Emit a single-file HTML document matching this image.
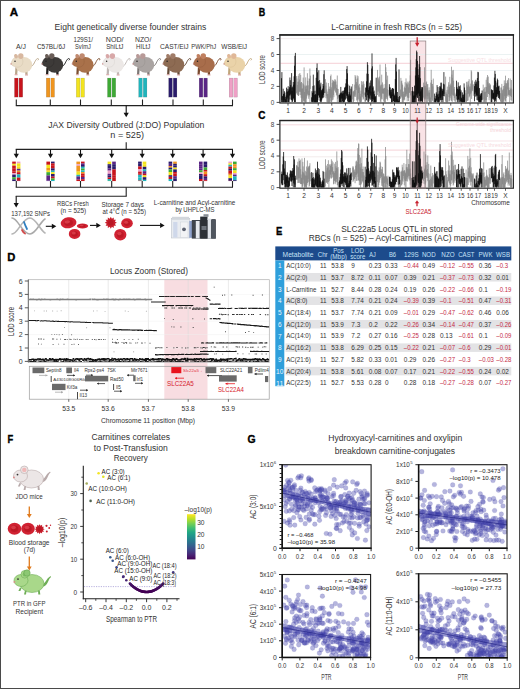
<!DOCTYPE html>
<html><head><meta charset="utf-8"><style>
html,body{margin:0;padding:0;background:#fff;}
body{width:520px;height:689px;overflow:hidden;}
svg{display:block;font-family:"Liberation Sans", sans-serif;}
</style></head><body>
<svg width="520" height="689" viewBox="0 0 520 689">
<rect x="0" y="0" width="520" height="689" fill="#fff"/>
<text x="9.8" y="15.9" font-size="11.2" font-weight="bold" fill="#000" stroke="#000" stroke-width="0.35" textLength="8.4" lengthAdjust="spacingAndGlyphs">A</text><text x="54.6" y="30.3" font-size="9.3" text-anchor="start" fill="#333" font-weight="normal" textLength="151.6" lengthAdjust="spacingAndGlyphs" >Eight genetically diverse founder strains</text><text x="16" y="48.6" font-size="6.6" text-anchor="start" fill="#333" font-weight="normal" textLength="9.9" lengthAdjust="spacingAndGlyphs" >A/J</text><g transform="translate(10.2,53.2) scale(1.0)"><path d="M20.5,13.5 C24,13 24.5,6.5 27.2,5.4 C28.4,5 28.9,6.4 27.9,6.9" fill="none" stroke="#b9a58a" stroke-width="0.95" stroke-linecap="round"/><path d="M5.2,14 L4.8,21.4 L7.0,21.4 L7.6,14.5 Z M14.6,15.5 L15.2,21.6 L17.4,21.6 L17.2,15 Z" fill="#b9a58a"/><path d="M4.4,21 h3 v1 h-3 Z M14.8,21.2 h3 v1 h-3 Z" fill="#d9a0a0"/><ellipse cx="13.6" cy="11.6" rx="8.4" ry="7.9" fill="#e9dcc6"/><path d="M0.6,10.8 C1.5,6.5 4,3.4 8,3.2 C11.6,3.2 13,6.2 12.6,9.4 C12.2,12.8 9,14.6 5.6,13.8 C3.6,13.3 1.8,12.4 0.6,10.8 Z" fill="#e9dcc6" stroke="#b9a58a" stroke-width="0.35" stroke-opacity="0.6"/><ellipse cx="5.8" cy="3.0" rx="1.9" ry="2.3" fill="#d8b8a0" transform="rotate(-20 5.8 3.0)"/><ellipse cx="10.6" cy="2.9" rx="2.7" ry="2.8" fill="#d8b8a0"/><circle cx="4.8" cy="8.0" r="0.75" fill="#222"/><circle cx="0.9" cy="10.7" r="0.7" fill="#c88"/></g><rect x="14.5" y="78.1" width="3.6" height="19" fill="#c8141c" stroke="#0004" stroke-width="0.4"/><rect x="19.1" y="78.1" width="3.6" height="19" fill="#c8141c" stroke="#0004" stroke-width="0.4"/><line x1="16.3" y1="99.5" x2="16.3" y2="105.6" stroke="#222" stroke-width="1.1" /><text x="36.9" y="48.6" font-size="6.6" text-anchor="start" fill="#333" font-weight="normal" textLength="28.3" lengthAdjust="spacingAndGlyphs" >C57BL/6J</text><g transform="translate(41.2,53.2) scale(1.0)"><path d="M20.5,13.5 C24,13 24.5,6.5 27.2,5.4 C28.4,5 28.9,6.4 27.9,6.9" fill="none" stroke="#1f1d1c" stroke-width="0.95" stroke-linecap="round"/><path d="M5.2,14 L4.8,21.4 L7.0,21.4 L7.6,14.5 Z M14.6,15.5 L15.2,21.6 L17.4,21.6 L17.2,15 Z" fill="#1f1d1c"/><path d="M4.4,21 h3 v1 h-3 Z M14.8,21.2 h3 v1 h-3 Z" fill="#d9a0a0"/><ellipse cx="13.6" cy="11.6" rx="8.4" ry="7.9" fill="#3d3a38"/><path d="M0.6,10.8 C1.5,6.5 4,3.4 8,3.2 C11.6,3.2 13,6.2 12.6,9.4 C12.2,12.8 9,14.6 5.6,13.8 C3.6,13.3 1.8,12.4 0.6,10.8 Z" fill="#3d3a38" stroke="#1f1d1c" stroke-width="0.35" stroke-opacity="0.6"/><ellipse cx="5.8" cy="3.0" rx="1.9" ry="2.3" fill="#6a5e58" transform="rotate(-20 5.8 3.0)"/><ellipse cx="10.6" cy="2.9" rx="2.7" ry="2.8" fill="#6a5e58"/><circle cx="4.8" cy="8.0" r="0.75" fill="#222"/><circle cx="0.9" cy="10.7" r="0.7" fill="#c88"/></g><rect x="46.3" y="78.1" width="3.6" height="19" fill="#f0951e" stroke="#0004" stroke-width="0.4"/><rect x="50.9" y="78.1" width="3.6" height="19" fill="#f0951e" stroke="#0004" stroke-width="0.4"/><line x1="50.3" y1="99.5" x2="50.3" y2="105.6" stroke="#222" stroke-width="1.1" /><text x="73.5" y="41.7" font-size="6.6" text-anchor="start" fill="#333" font-weight="normal" textLength="19.5" lengthAdjust="spacingAndGlyphs" >129S1/</text><text x="75" y="48.800000000000004" font-size="6.6" text-anchor="start" fill="#333" font-weight="normal" textLength="15.8" lengthAdjust="spacingAndGlyphs" >SvImJ</text><g transform="translate(71.5,53.2) scale(1.0)"><path d="M20.5,13.5 C24,13 24.5,6.5 27.2,5.4 C28.4,5 28.9,6.4 27.9,6.9" fill="none" stroke="#7c4f31" stroke-width="0.95" stroke-linecap="round"/><path d="M5.2,14 L4.8,21.4 L7.0,21.4 L7.6,14.5 Z M14.6,15.5 L15.2,21.6 L17.4,21.6 L17.2,15 Z" fill="#7c4f31"/><path d="M4.4,21 h3 v1 h-3 Z M14.8,21.2 h3 v1 h-3 Z" fill="#d9a0a0"/><ellipse cx="13.6" cy="11.6" rx="8.4" ry="7.9" fill="#a9714a"/><path d="M0.6,10.8 C1.5,6.5 4,3.4 8,3.2 C11.6,3.2 13,6.2 12.6,9.4 C12.2,12.8 9,14.6 5.6,13.8 C3.6,13.3 1.8,12.4 0.6,10.8 Z" fill="#a9714a" stroke="#7c4f31" stroke-width="0.35" stroke-opacity="0.6"/><ellipse cx="5.8" cy="3.0" rx="1.9" ry="2.3" fill="#c08a70" transform="rotate(-20 5.8 3.0)"/><ellipse cx="10.6" cy="2.9" rx="2.7" ry="2.8" fill="#c08a70"/><circle cx="4.8" cy="8.0" r="0.75" fill="#222"/><circle cx="0.9" cy="10.7" r="0.7" fill="#c88"/></g><rect x="76.3" y="78.1" width="3.6" height="19" fill="#f3e41e" stroke="#0004" stroke-width="0.4"/><rect x="80.89999999999999" y="78.1" width="3.6" height="19" fill="#f3e41e" stroke="#0004" stroke-width="0.4"/><line x1="80.5" y1="99.5" x2="80.5" y2="105.6" stroke="#222" stroke-width="1.1" /><text x="105.8" y="41.7" font-size="6.6" text-anchor="start" fill="#333" font-weight="normal" textLength="17.7" lengthAdjust="spacingAndGlyphs" >NOD/</text><text x="106.2" y="48.800000000000004" font-size="6.6" text-anchor="start" fill="#333" font-weight="normal" textLength="17.3" lengthAdjust="spacingAndGlyphs" >ShiLtJ</text><g transform="translate(101.8,53.2) scale(1.0)"><path d="M20.5,13.5 C24,13 24.5,6.5 27.2,5.4 C28.4,5 28.9,6.4 27.9,6.9" fill="none" stroke="#bdb5b2" stroke-width="0.95" stroke-linecap="round"/><path d="M5.2,14 L4.8,21.4 L7.0,21.4 L7.6,14.5 Z M14.6,15.5 L15.2,21.6 L17.4,21.6 L17.2,15 Z" fill="#bdb5b2"/><path d="M4.4,21 h3 v1 h-3 Z M14.8,21.2 h3 v1 h-3 Z" fill="#d9a0a0"/><ellipse cx="13.6" cy="11.6" rx="8.4" ry="7.9" fill="#ece8e6"/><path d="M0.6,10.8 C1.5,6.5 4,3.4 8,3.2 C11.6,3.2 13,6.2 12.6,9.4 C12.2,12.8 9,14.6 5.6,13.8 C3.6,13.3 1.8,12.4 0.6,10.8 Z" fill="#ece8e6" stroke="#bdb5b2" stroke-width="0.35" stroke-opacity="0.6"/><ellipse cx="5.8" cy="3.0" rx="1.9" ry="2.3" fill="#d8a8a8" transform="rotate(-20 5.8 3.0)"/><ellipse cx="10.6" cy="2.9" rx="2.7" ry="2.8" fill="#d8a8a8"/><circle cx="4.8" cy="8.0" r="0.75" fill="#222"/><circle cx="0.9" cy="10.7" r="0.7" fill="#c88"/></g><rect x="107.5" y="78.1" width="3.6" height="19" fill="#3eaa35" stroke="#0004" stroke-width="0.4"/><rect x="112.1" y="78.1" width="3.6" height="19" fill="#3eaa35" stroke="#0004" stroke-width="0.4"/><line x1="111.3" y1="99.5" x2="111.3" y2="105.6" stroke="#222" stroke-width="1.1" /><text x="135" y="41.7" font-size="6.6" text-anchor="start" fill="#333" font-weight="normal" textLength="16.3" lengthAdjust="spacingAndGlyphs" >NZO/</text><text x="136" y="48.800000000000004" font-size="6.6" text-anchor="start" fill="#333" font-weight="normal" textLength="14.4" lengthAdjust="spacingAndGlyphs" >HILtJ</text><g transform="translate(132.2,53.2) scale(1.0)"><path d="M20.5,13.5 C24,13 24.5,6.5 27.2,5.4 C28.4,5 28.9,6.4 27.9,6.9" fill="none" stroke="#7d7775" stroke-width="0.95" stroke-linecap="round"/><path d="M5.2,14 L4.8,21.4 L7.0,21.4 L7.6,14.5 Z M14.6,15.5 L15.2,21.6 L17.4,21.6 L17.2,15 Z" fill="#7d7775"/><path d="M4.4,21 h3 v1 h-3 Z M14.8,21.2 h3 v1 h-3 Z" fill="#d9a0a0"/><ellipse cx="13.6" cy="11.6" rx="8.4" ry="7.9" fill="#aaa4a2"/><path d="M0.6,10.8 C1.5,6.5 4,3.4 8,3.2 C11.6,3.2 13,6.2 12.6,9.4 C12.2,12.8 9,14.6 5.6,13.8 C3.6,13.3 1.8,12.4 0.6,10.8 Z" fill="#aaa4a2" stroke="#7d7775" stroke-width="0.35" stroke-opacity="0.6"/><ellipse cx="5.8" cy="3.0" rx="1.9" ry="2.3" fill="#b89a98" transform="rotate(-20 5.8 3.0)"/><ellipse cx="10.6" cy="2.9" rx="2.7" ry="2.8" fill="#b89a98"/><circle cx="4.8" cy="8.0" r="0.75" fill="#222"/><circle cx="0.9" cy="10.7" r="0.7" fill="#c88"/></g><rect x="138.7" y="78.1" width="3.6" height="19" fill="#1fb5bd" stroke="#0004" stroke-width="0.4"/><rect x="143.29999999999998" y="78.1" width="3.6" height="19" fill="#1fb5bd" stroke="#0004" stroke-width="0.4"/><line x1="142.5" y1="99.5" x2="142.5" y2="105.6" stroke="#222" stroke-width="1.1" /><text x="160" y="48.6" font-size="6.6" text-anchor="start" fill="#333" font-weight="normal" textLength="28.5" lengthAdjust="spacingAndGlyphs" >CAST/EiJ</text><g transform="translate(162.3,53.2) scale(1.0)"><path d="M20.5,13.5 C24,13 24.5,6.5 27.2,5.4 C28.4,5 28.9,6.4 27.9,6.9" fill="none" stroke="#634936" stroke-width="0.95" stroke-linecap="round"/><path d="M5.2,14 L4.8,21.4 L7.0,21.4 L7.6,14.5 Z M14.6,15.5 L15.2,21.6 L17.4,21.6 L17.2,15 Z" fill="#634936"/><path d="M4.4,21 h3 v1 h-3 Z M14.8,21.2 h3 v1 h-3 Z" fill="#d9a0a0"/><ellipse cx="13.6" cy="11.6" rx="8.4" ry="7.9" fill="#8d6b53"/><path d="M0.6,10.8 C1.5,6.5 4,3.4 8,3.2 C11.6,3.2 13,6.2 12.6,9.4 C12.2,12.8 9,14.6 5.6,13.8 C3.6,13.3 1.8,12.4 0.6,10.8 Z" fill="#8d6b53" stroke="#634936" stroke-width="0.35" stroke-opacity="0.6"/><ellipse cx="5.8" cy="3.0" rx="1.9" ry="2.3" fill="#a07c68" transform="rotate(-20 5.8 3.0)"/><ellipse cx="10.6" cy="2.9" rx="2.7" ry="2.8" fill="#a07c68"/><circle cx="4.8" cy="8.0" r="0.75" fill="#222"/><circle cx="0.9" cy="10.7" r="0.7" fill="#c88"/></g><rect x="168.7" y="78.1" width="3.6" height="19" fill="#2a1b6b" stroke="#0004" stroke-width="0.4"/><rect x="173.29999999999998" y="78.1" width="3.6" height="19" fill="#2a1b6b" stroke="#0004" stroke-width="0.4"/><line x1="173.0" y1="99.5" x2="173.0" y2="105.6" stroke="#222" stroke-width="1.1" /><text x="191.3" y="48.6" font-size="6.6" text-anchor="start" fill="#333" font-weight="normal" textLength="25.0" lengthAdjust="spacingAndGlyphs" >PWK/PhJ</text><g transform="translate(192.7,53.2) scale(1.0)"><path d="M20.5,13.5 C24,13 24.5,6.5 27.2,5.4 C28.4,5 28.9,6.4 27.9,6.9" fill="none" stroke="#7a4a2f" stroke-width="0.95" stroke-linecap="round"/><path d="M5.2,14 L4.8,21.4 L7.0,21.4 L7.6,14.5 Z M14.6,15.5 L15.2,21.6 L17.4,21.6 L17.2,15 Z" fill="#7a4a2f"/><path d="M4.4,21 h3 v1 h-3 Z M14.8,21.2 h3 v1 h-3 Z" fill="#d9a0a0"/><ellipse cx="13.6" cy="11.6" rx="8.4" ry="7.9" fill="#a86d4b"/><path d="M0.6,10.8 C1.5,6.5 4,3.4 8,3.2 C11.6,3.2 13,6.2 12.6,9.4 C12.2,12.8 9,14.6 5.6,13.8 C3.6,13.3 1.8,12.4 0.6,10.8 Z" fill="#a86d4b" stroke="#7a4a2f" stroke-width="0.35" stroke-opacity="0.6"/><ellipse cx="5.8" cy="3.0" rx="1.9" ry="2.3" fill="#c08060" transform="rotate(-20 5.8 3.0)"/><ellipse cx="10.6" cy="2.9" rx="2.7" ry="2.8" fill="#c08060"/><circle cx="4.8" cy="8.0" r="0.75" fill="#222"/><circle cx="0.9" cy="10.7" r="0.7" fill="#c88"/></g><rect x="199.2" y="78.1" width="3.6" height="19" fill="#5a2585" stroke="#0004" stroke-width="0.4"/><rect x="203.79999999999998" y="78.1" width="3.6" height="19" fill="#5a2585" stroke="#0004" stroke-width="0.4"/><line x1="203.3" y1="99.5" x2="203.3" y2="105.6" stroke="#222" stroke-width="1.1" /><text x="221.2" y="48.6" font-size="6.6" text-anchor="start" fill="#333" font-weight="normal" textLength="25.9" lengthAdjust="spacingAndGlyphs" >WSB/EiJ</text><g transform="translate(223.2,53.2) scale(1.0)"><path d="M20.5,13.5 C24,13 24.5,6.5 27.2,5.4 C28.4,5 28.9,6.4 27.9,6.9" fill="none" stroke="#c0a57a" stroke-width="0.95" stroke-linecap="round"/><path d="M5.2,14 L4.8,21.4 L7.0,21.4 L7.6,14.5 Z M14.6,15.5 L15.2,21.6 L17.4,21.6 L17.2,15 Z" fill="#c0a57a"/><path d="M4.4,21 h3 v1 h-3 Z M14.8,21.2 h3 v1 h-3 Z" fill="#d9a0a0"/><ellipse cx="13.6" cy="11.6" rx="8.4" ry="7.9" fill="#ead3a9"/><path d="M0.6,10.8 C1.5,6.5 4,3.4 8,3.2 C11.6,3.2 13,6.2 12.6,9.4 C12.2,12.8 9,14.6 5.6,13.8 C3.6,13.3 1.8,12.4 0.6,10.8 Z" fill="#ead3a9" stroke="#c0a57a" stroke-width="0.35" stroke-opacity="0.6"/><ellipse cx="5.8" cy="3.0" rx="1.9" ry="2.3" fill="#e0b898" transform="rotate(-20 5.8 3.0)"/><ellipse cx="10.6" cy="2.9" rx="2.7" ry="2.8" fill="#e0b898"/><circle cx="4.8" cy="8.0" r="0.75" fill="#222"/><circle cx="0.9" cy="10.7" r="0.7" fill="#c88"/></g><rect x="229.2" y="78.1" width="3.6" height="19" fill="#efa0c6" stroke="#0004" stroke-width="0.4"/><rect x="233.79999999999998" y="78.1" width="3.6" height="19" fill="#efa0c6" stroke="#0004" stroke-width="0.4"/><line x1="232.5" y1="99.5" x2="232.5" y2="105.6" stroke="#222" stroke-width="1.1" /><line x1="15.8" y1="105.6" x2="233" y2="105.6" stroke="#222" stroke-width="1.1" /><line x1="126.2" y1="105.6" x2="126.2" y2="113.2" stroke="#111" stroke-width="1.1" /><path d="M123.60000000000001,112.7 L128.8,112.7 L126.2,117.2 Z" fill="#111"/><text x="48.2" y="128.2" font-size="9.3" text-anchor="start" fill="#333" font-weight="normal" textLength="156.2" lengthAdjust="spacingAndGlyphs" >JAX Diversity Outbred (J:DO) Population</text><text x="110.3" y="137.9" font-size="9.3" text-anchor="start" fill="#333" font-weight="normal" textLength="33.7" lengthAdjust="spacingAndGlyphs" >n = 525)</text><line x1="126.2" y1="142.3" x2="126.2" y2="149.4" stroke="#222" stroke-width="1.1" /><line x1="15.7" y1="149.4" x2="233" y2="149.4" stroke="#222" stroke-width="1.1" /><line x1="16.3" y1="149.4" x2="16.3" y2="154.2" stroke="#111" stroke-width="1.1" /><path d="M13.700000000000001,153.7 L18.900000000000002,153.7 L16.3,158.2 Z" fill="#111"/><rect x="12.2" y="161.6" width="3.6" height="2.25" fill="#c8141c" /><rect x="12.2" y="163.8" width="3.6" height="1.85" fill="#f3e41e" /><rect x="12.2" y="165.6" width="3.6" height="2.65" fill="#c8141c" /><rect x="12.2" y="168.2" width="3.6" height="3.25" fill="#c8141c" /><rect x="12.2" y="171.4" width="3.6" height="1.65" fill="#c8141c" /><rect x="12.2" y="173.0" width="3.6" height="1.65" fill="#efa0c6" /><rect x="12.2" y="174.6" width="3.6" height="2.65" fill="#2a1b6b" /><rect x="12.2" y="177.2" width="3.6" height="2.25" fill="#3eaa35" /><rect x="12.2" y="179.4" width="3.6" height="1.65" fill="#2a1b6b" /><rect x="16.8" y="161.6" width="3.6" height="1.85" fill="#efa0c6" /><rect x="16.8" y="163.4" width="3.6" height="3.25" fill="#f3e41e" /><rect x="16.8" y="166.6" width="3.6" height="2.25" fill="#f3e41e" /><rect x="16.8" y="168.8" width="3.6" height="1.85" fill="#5a2585" /><rect x="16.8" y="170.6" width="3.6" height="1.65" fill="#f0951e" /><rect x="16.8" y="172.2" width="3.6" height="2.25" fill="#c8141c" /><rect x="16.8" y="174.4" width="3.6" height="1.65" fill="#1fb5bd" /><rect x="16.8" y="176.0" width="3.6" height="1.65" fill="#1fb5bd" /><rect x="16.8" y="177.6" width="3.6" height="3.25" fill="#c8141c" /><rect x="16.8" y="180.8" width="3.6" height="0.25" fill="#5a2585" /><line x1="16.3" y1="181" x2="16.3" y2="187.2" stroke="#222" stroke-width="1.1" /><line x1="50.5" y1="149.4" x2="50.5" y2="154.2" stroke="#111" stroke-width="1.1" /><path d="M47.9,153.7 L53.1,153.7 L50.5,158.2 Z" fill="#111"/><rect x="46.4" y="161.6" width="3.6" height="3.25" fill="#c8141c" /><rect x="46.4" y="164.8" width="3.6" height="3.25" fill="#f3e41e" /><rect x="46.4" y="168.0" width="3.6" height="2.65" fill="#f0951e" /><rect x="46.4" y="170.6" width="3.6" height="1.65" fill="#f3e41e" /><rect x="46.4" y="172.2" width="3.6" height="3.25" fill="#3eaa35" /><rect x="46.4" y="175.4" width="3.6" height="2.65" fill="#5a2585" /><rect x="46.4" y="178.0" width="3.6" height="2.65" fill="#5a2585" /><rect x="46.4" y="180.6" width="3.6" height="0.45" fill="#5a2585" /><rect x="51.0" y="161.6" width="3.6" height="1.85" fill="#2a1b6b" /><rect x="51.0" y="163.4" width="3.6" height="1.85" fill="#c8141c" /><rect x="51.0" y="165.2" width="3.6" height="3.25" fill="#c8141c" /><rect x="51.0" y="168.4" width="3.6" height="2.25" fill="#2a1b6b" /><rect x="51.0" y="170.6" width="3.6" height="1.65" fill="#1fb5bd" /><rect x="51.0" y="172.2" width="3.6" height="1.85" fill="#f3e41e" /><rect x="51.0" y="174.0" width="3.6" height="2.65" fill="#2a1b6b" /><rect x="51.0" y="176.6" width="3.6" height="1.85" fill="#c8141c" /><rect x="51.0" y="178.4" width="3.6" height="1.65" fill="#3eaa35" /><rect x="51.0" y="180.0" width="3.6" height="1.05" fill="#1fb5bd" /><line x1="50.5" y1="181" x2="50.5" y2="187.2" stroke="#222" stroke-width="1.1" /><line x1="80.5" y1="149.4" x2="80.5" y2="154.2" stroke="#111" stroke-width="1.1" /><path d="M77.9,153.7 L83.1,153.7 L80.5,158.2 Z" fill="#111"/><rect x="76.4" y="161.6" width="3.6" height="2.65" fill="#f0951e" /><rect x="76.4" y="164.2" width="3.6" height="1.65" fill="#efa0c6" /><rect x="76.4" y="165.8" width="3.6" height="3.25" fill="#f0951e" /><rect x="76.4" y="169.0" width="3.6" height="2.65" fill="#f0951e" /><rect x="76.4" y="171.6" width="3.6" height="3.25" fill="#f3e41e" /><rect x="76.4" y="174.8" width="3.6" height="1.65" fill="#1fb5bd" /><rect x="76.4" y="176.4" width="3.6" height="3.25" fill="#5a2585" /><rect x="76.4" y="179.6" width="3.6" height="1.45" fill="#c8141c" /><rect x="81.0" y="161.6" width="3.6" height="1.85" fill="#c8141c" /><rect x="81.0" y="163.4" width="3.6" height="1.65" fill="#5a2585" /><rect x="81.0" y="165.0" width="3.6" height="1.85" fill="#2a1b6b" /><rect x="81.0" y="166.8" width="3.6" height="1.85" fill="#1fb5bd" /><rect x="81.0" y="168.6" width="3.6" height="1.85" fill="#3eaa35" /><rect x="81.0" y="170.4" width="3.6" height="1.65" fill="#1fb5bd" /><rect x="81.0" y="172.0" width="3.6" height="1.65" fill="#f0951e" /><rect x="81.0" y="173.6" width="3.6" height="1.65" fill="#c8141c" /><rect x="81.0" y="175.2" width="3.6" height="1.85" fill="#c8141c" /><rect x="81.0" y="177.0" width="3.6" height="2.25" fill="#5a2585" /><rect x="81.0" y="179.2" width="3.6" height="1.85" fill="#c8141c" /><line x1="80.5" y1="181" x2="80.5" y2="187.2" stroke="#222" stroke-width="1.1" /><line x1="111.7" y1="149.4" x2="111.7" y2="154.2" stroke="#111" stroke-width="1.1" /><path d="M109.10000000000001,153.7 L114.3,153.7 L111.7,158.2 Z" fill="#111"/><rect x="107.6" y="161.6" width="3.6" height="2.65" fill="#f3e41e" /><rect x="107.6" y="164.2" width="3.6" height="1.65" fill="#2a1b6b" /><rect x="107.6" y="165.8" width="3.6" height="2.65" fill="#2a1b6b" /><rect x="107.6" y="168.4" width="3.6" height="2.25" fill="#5a2585" /><rect x="107.6" y="170.6" width="3.6" height="3.25" fill="#efa0c6" /><rect x="107.6" y="173.8" width="3.6" height="1.85" fill="#5a2585" /><rect x="107.6" y="175.6" width="3.6" height="1.85" fill="#2a1b6b" /><rect x="107.6" y="177.4" width="3.6" height="1.65" fill="#c8141c" /><rect x="107.6" y="179.0" width="3.6" height="1.85" fill="#1fb5bd" /><rect x="107.6" y="180.8" width="3.6" height="0.25" fill="#3eaa35" /><rect x="112.2" y="161.6" width="3.6" height="2.65" fill="#5a2585" /><rect x="112.2" y="164.2" width="3.6" height="2.65" fill="#2a1b6b" /><rect x="112.2" y="166.8" width="3.6" height="2.65" fill="#2a1b6b" /><rect x="112.2" y="169.4" width="3.6" height="2.65" fill="#c8141c" /><rect x="112.2" y="172.0" width="3.6" height="3.25" fill="#c8141c" /><rect x="112.2" y="175.2" width="3.6" height="2.65" fill="#c8141c" /><rect x="112.2" y="177.8" width="3.6" height="3.25" fill="#c8141c" /><rect x="112.2" y="181.0" width="3.6" height="0.05" fill="#f3e41e" /><line x1="111.7" y1="181" x2="111.7" y2="187.2" stroke="#222" stroke-width="1.1" /><line x1="142.2" y1="149.4" x2="142.2" y2="154.2" stroke="#111" stroke-width="1.1" /><path d="M139.6,153.7 L144.79999999999998,153.7 L142.2,158.2 Z" fill="#111"/><rect x="138.1" y="161.6" width="3.6" height="1.65" fill="#2a1b6b" /><rect x="138.1" y="163.2" width="3.6" height="3.25" fill="#2a1b6b" /><rect x="138.1" y="166.4" width="3.6" height="2.65" fill="#c8141c" /><rect x="138.1" y="169.0" width="3.6" height="2.65" fill="#efa0c6" /><rect x="138.1" y="171.6" width="3.6" height="1.65" fill="#c8141c" /><rect x="138.1" y="173.2" width="3.6" height="1.65" fill="#c8141c" /><rect x="138.1" y="174.8" width="3.6" height="2.65" fill="#1fb5bd" /><rect x="138.1" y="177.4" width="3.6" height="3.25" fill="#1fb5bd" /><rect x="138.1" y="180.6" width="3.6" height="0.45" fill="#c8141c" /><rect x="142.7" y="161.6" width="3.6" height="2.65" fill="#f3e41e" /><rect x="142.7" y="164.2" width="3.6" height="2.65" fill="#f3e41e" /><rect x="142.7" y="166.8" width="3.6" height="2.65" fill="#2a1b6b" /><rect x="142.7" y="169.4" width="3.6" height="1.85" fill="#1fb5bd" /><rect x="142.7" y="171.2" width="3.6" height="2.65" fill="#5a2585" /><rect x="142.7" y="173.8" width="3.6" height="1.65" fill="#c8141c" /><rect x="142.7" y="175.4" width="3.6" height="1.85" fill="#f3e41e" /><rect x="142.7" y="177.2" width="3.6" height="2.65" fill="#2a1b6b" /><rect x="142.7" y="179.8" width="3.6" height="1.25" fill="#1fb5bd" /><line x1="142.2" y1="181" x2="142.2" y2="187.2" stroke="#222" stroke-width="1.1" /><line x1="172.7" y1="149.4" x2="172.7" y2="154.2" stroke="#111" stroke-width="1.1" /><path d="M170.1,153.7 L175.29999999999998,153.7 L172.7,158.2 Z" fill="#111"/><rect x="168.6" y="161.6" width="3.6" height="2.25" fill="#2a1b6b" /><rect x="168.6" y="163.8" width="3.6" height="2.25" fill="#5a2585" /><rect x="168.6" y="166.0" width="3.6" height="1.65" fill="#f0951e" /><rect x="168.6" y="167.6" width="3.6" height="1.85" fill="#2a1b6b" /><rect x="168.6" y="169.4" width="3.6" height="2.65" fill="#3eaa35" /><rect x="168.6" y="172.0" width="3.6" height="3.25" fill="#f3e41e" /><rect x="168.6" y="175.2" width="3.6" height="1.65" fill="#2a1b6b" /><rect x="168.6" y="176.8" width="3.6" height="2.25" fill="#c8141c" /><rect x="168.6" y="179.0" width="3.6" height="2.05" fill="#1fb5bd" /><rect x="173.2" y="161.6" width="3.6" height="2.25" fill="#f0951e" /><rect x="173.2" y="163.8" width="3.6" height="1.65" fill="#2a1b6b" /><rect x="173.2" y="165.4" width="3.6" height="2.25" fill="#2a1b6b" /><rect x="173.2" y="167.6" width="3.6" height="1.85" fill="#f3e41e" /><rect x="173.2" y="169.4" width="3.6" height="2.65" fill="#2a1b6b" /><rect x="173.2" y="172.0" width="3.6" height="1.65" fill="#c8141c" /><rect x="173.2" y="173.6" width="3.6" height="2.65" fill="#c8141c" /><rect x="173.2" y="176.2" width="3.6" height="2.25" fill="#5a2585" /><rect x="173.2" y="178.4" width="3.6" height="2.65" fill="#2a1b6b" /><rect x="173.2" y="181.0" width="3.6" height="0.05" fill="#efa0c6" /><line x1="172.7" y1="181" x2="172.7" y2="187.2" stroke="#222" stroke-width="1.1" /><line x1="203.1" y1="149.4" x2="203.1" y2="154.2" stroke="#111" stroke-width="1.1" /><path d="M200.5,153.7 L205.7,153.7 L203.1,158.2 Z" fill="#111"/><rect x="199.0" y="161.6" width="3.6" height="2.65" fill="#5a2585" /><rect x="199.0" y="164.2" width="3.6" height="2.65" fill="#5a2585" /><rect x="199.0" y="166.8" width="3.6" height="1.85" fill="#5a2585" /><rect x="199.0" y="168.6" width="3.6" height="1.65" fill="#5a2585" /><rect x="199.0" y="170.2" width="3.6" height="2.25" fill="#3eaa35" /><rect x="199.0" y="172.4" width="3.6" height="1.65" fill="#efa0c6" /><rect x="199.0" y="174.0" width="3.6" height="1.85" fill="#2a1b6b" /><rect x="199.0" y="175.8" width="3.6" height="3.25" fill="#2a1b6b" /><rect x="199.0" y="179.0" width="3.6" height="2.05" fill="#c8141c" /><rect x="203.6" y="161.6" width="3.6" height="3.25" fill="#2a1b6b" /><rect x="203.6" y="164.8" width="3.6" height="2.65" fill="#2a1b6b" /><rect x="203.6" y="167.4" width="3.6" height="2.65" fill="#3eaa35" /><rect x="203.6" y="170.0" width="3.6" height="1.65" fill="#c8141c" /><rect x="203.6" y="171.6" width="3.6" height="2.65" fill="#f0951e" /><rect x="203.6" y="174.2" width="3.6" height="2.25" fill="#c8141c" /><rect x="203.6" y="176.4" width="3.6" height="1.65" fill="#2a1b6b" /><rect x="203.6" y="178.0" width="3.6" height="2.25" fill="#5a2585" /><rect x="203.6" y="180.2" width="3.6" height="0.85" fill="#c8141c" /><line x1="203.1" y1="181" x2="203.1" y2="187.2" stroke="#222" stroke-width="1.1" /><line x1="232.5" y1="149.4" x2="232.5" y2="154.2" stroke="#111" stroke-width="1.1" /><path d="M229.9,153.7 L235.1,153.7 L232.5,158.2 Z" fill="#111"/><rect x="228.4" y="161.6" width="3.6" height="1.65" fill="#efa0c6" /><rect x="228.4" y="163.2" width="3.6" height="1.65" fill="#f3e41e" /><rect x="228.4" y="164.8" width="3.6" height="1.85" fill="#1fb5bd" /><rect x="228.4" y="166.6" width="3.6" height="2.25" fill="#c8141c" /><rect x="228.4" y="168.8" width="3.6" height="1.85" fill="#2a1b6b" /><rect x="228.4" y="170.6" width="3.6" height="3.25" fill="#c8141c" /><rect x="228.4" y="173.8" width="3.6" height="1.85" fill="#f0951e" /><rect x="228.4" y="175.6" width="3.6" height="2.65" fill="#f3e41e" /><rect x="228.4" y="178.2" width="3.6" height="2.65" fill="#2a1b6b" /><rect x="228.4" y="180.8" width="3.6" height="0.25" fill="#c8141c" /><rect x="233.0" y="161.6" width="3.6" height="2.65" fill="#3eaa35" /><rect x="233.0" y="164.2" width="3.6" height="2.25" fill="#f0951e" /><rect x="233.0" y="166.4" width="3.6" height="1.85" fill="#f0951e" /><rect x="233.0" y="168.2" width="3.6" height="2.25" fill="#3eaa35" /><rect x="233.0" y="170.4" width="3.6" height="2.65" fill="#f3e41e" /><rect x="233.0" y="173.0" width="3.6" height="1.65" fill="#efa0c6" /><rect x="233.0" y="174.6" width="3.6" height="1.85" fill="#5a2585" /><rect x="233.0" y="176.4" width="3.6" height="1.65" fill="#1fb5bd" /><rect x="233.0" y="178.0" width="3.6" height="2.25" fill="#1fb5bd" /><rect x="233.0" y="180.2" width="3.6" height="0.85" fill="#2a1b6b" /><line x1="232.5" y1="181" x2="232.5" y2="187.2" stroke="#222" stroke-width="1.1" /><line x1="15.7" y1="187.2" x2="233" y2="187.2" stroke="#222" stroke-width="1.1" /><line x1="126.2" y1="187.2" x2="126.2" y2="196.3" stroke="#222" stroke-width="1.1" /><line x1="15.7" y1="196.3" x2="126.7" y2="196.3" stroke="#222" stroke-width="1.1" /><line x1="16.2" y1="196.3" x2="16.2" y2="203.6" stroke="#111" stroke-width="1.1" /><path d="M13.6,203.1 L18.8,203.1 L16.2,207.6 Z" fill="#111"/><text x="11.2" y="216.0" font-size="6.6" text-anchor="start" fill="#333" font-weight="normal" textLength="38.8" lengthAdjust="spacingAndGlyphs" >137,192 SNPs</text><text x="57" y="206.1" font-size="6.6" text-anchor="start" fill="#333" font-weight="normal" textLength="31.7" lengthAdjust="spacingAndGlyphs" >RBCs Fresh</text><text x="60.5" y="212.5" font-size="6.6" text-anchor="start" fill="#333" font-weight="normal" textLength="25.7" lengthAdjust="spacingAndGlyphs" >(n = 525)</text><text x="101.5" y="206.8" font-size="6.6" text-anchor="start" fill="#333" font-weight="normal" textLength="42.5" lengthAdjust="spacingAndGlyphs" >Storage 7 days</text><text x="102.5" y="213.8" font-size="6.6" text-anchor="start" fill="#333" font-weight="normal" textLength="43.5" lengthAdjust="spacingAndGlyphs" >at 4°C (n = 525)</text><text x="153.8" y="205.3" font-size="6.6" text-anchor="start" fill="#333" font-weight="normal" textLength="81.6" lengthAdjust="spacingAndGlyphs" >L-carnitine and Acyl-carnitine</text><text x="175.4" y="211.7" font-size="6.6" text-anchor="start" fill="#333" font-weight="normal" textLength="39.1" lengthAdjust="spacingAndGlyphs" >by UHPLC-MS</text><g fill="none" stroke-width="1.6" stroke-linecap="round"><path d="M12,218 C18,218 22,234 30,234 C36,234 40,222 45,219" stroke="#a9a9a9"/><path d="M12,234 C18,234 22,218 30,218 C36,218 40,230 45,233" stroke="#b5b5b5"/><path d="M24,222 C25,225 26,227 27,229" stroke="#2f7fc0" stroke-width="1.8"/><path d="M22,230 C23,232 24,233 25,233.5" stroke="#d24a4a" stroke-width="1.8"/></g><line x1="45.8" y1="226.3" x2="52.3" y2="226.3" stroke="#111" stroke-width="1.1" /><path d="M51.8,223.70000000000002 L51.8,228.9 L56.3,226.3 Z" fill="#111"/><g transform="translate(68.6,222.8) rotate(-8)"><ellipse rx="7.9" ry="5.5" fill="#d02232"/><ellipse rx="4.345000000000001" ry="3.0250000000000004" fill="#b5141f" opacity="0.7"/><ellipse cx="-1.185" cy="-1.1" rx="2.765" ry="1.65" fill="#e8505c" opacity="0.6"/></g><g transform="translate(82.5,225.9) rotate(0)"><ellipse rx="5.6" ry="2.5" fill="#d02232"/><ellipse rx="3.08" ry="1.375" fill="#b5141f" opacity="0.7"/><ellipse cx="-0.84" cy="-0.5" rx="1.9599999999999997" ry="0.75" fill="#e8505c" opacity="0.6"/></g><g transform="translate(74.6,233.9) rotate(0)"><ellipse rx="5.8" ry="5.0" fill="#d02232"/><ellipse rx="3.19" ry="2.75" fill="#b5141f" opacity="0.7"/><ellipse cx="-0.87" cy="-1.0" rx="2.03" ry="1.5" fill="#e8505c" opacity="0.6"/></g><line x1="90" y1="225.4" x2="96.8" y2="225.4" stroke="#111" stroke-width="1.1" /><path d="M96.3,222.8 L96.3,228.0 L100.8,225.4 Z" fill="#111"/><polygon points="116.80,222.70 114.86,223.79 116.00,225.70 113.77,225.67 113.80,227.90 111.89,226.76 110.80,228.70 109.71,226.76 107.80,227.90 107.83,225.67 105.60,225.70 106.74,223.79 104.80,222.70 106.74,221.61 105.60,219.70 107.83,219.73 107.80,217.50 109.71,218.64 110.80,216.70 111.89,218.64 113.80,217.50 113.77,219.73 116.00,219.70 114.86,221.61" fill="#c81e2c"/><circle cx="110.8" cy="222.7" r="2.7" fill="#a8101c" opacity="0.5"/><g transform="translate(127.0,223.2) rotate(0)"><ellipse rx="5.8" ry="5.0" fill="#d02232"/><ellipse rx="3.19" ry="2.75" fill="#b5141f" opacity="0.7"/><ellipse cx="-0.87" cy="-1.0" rx="2.03" ry="1.5" fill="#e8505c" opacity="0.6"/></g><g transform="translate(120.3,234.7) rotate(0)"><ellipse rx="6.1" ry="5.8" fill="#d02232"/><ellipse rx="3.355" ry="3.19" fill="#b5141f" opacity="0.7"/><ellipse cx="-0.9149999999999999" cy="-1.16" rx="2.135" ry="1.74" fill="#e8505c" opacity="0.6"/></g><line x1="140" y1="225.4" x2="160.6" y2="225.4" stroke="#111" stroke-width="1.1" /><path d="M160.1,222.8 L160.1,228.0 L164.6,225.4 Z" fill="#111"/><g><rect x="171.3" y="218.5" width="18.5" height="19.5" fill="#e9ecf0" stroke="#b8bec6" stroke-width="0.5"/><rect x="172" y="216.8" width="17" height="3" fill="#d2d6dc"/><rect x="173.2" y="222" width="4.2" height="15.5" fill="#cfd8ea"/><rect x="180.5" y="222" width="7.5" height="15.5" fill="#f2f3f5" stroke="#c6cbd2" stroke-width="0.4"/><circle cx="184" cy="229.3" r="1.9" fill="#5c6170"/><rect x="189.3" y="221" width="2.8" height="16.8" fill="#8fa2cc"/><rect x="191.8" y="220" width="24" height="18.6" fill="#3f444c"/><rect x="195.8" y="221" width="3.8" height="17.4" fill="#e6e9ee"/><rect x="200.2" y="216.6" width="7.3" height="22" fill="#2c3036"/><rect x="207.7" y="218.6" width="3.4" height="20" fill="#dde1e7"/><rect x="211.3" y="219" width="4.4" height="19.6" fill="#50565f"/><rect x="203.5" y="214.2" width="5" height="2.6" fill="#8a8f96"/><rect x="201.5" y="226" width="5" height="4" fill="#6c727b"/></g><text x="258.8" y="15.9" font-size="11.2" font-weight="bold" fill="#000" stroke="#000" stroke-width="0.35" textLength="6.5" lengthAdjust="spacingAndGlyphs">B</text><text x="331.2" y="30.0" font-size="8.6" text-anchor="start" fill="#333" font-weight="normal" textLength="130.8" lengthAdjust="spacingAndGlyphs" >L-Carnitine in fresh RBCs (n = 525)</text><rect x="410.2" y="41" width="15.6" height="147.5" fill="#f9e3e6" /><line x1="280.5" y1="38.6" x2="512.8" y2="38.6" stroke="#f1e6e8" stroke-width="0.7" /><line x1="280.5" y1="54.5" x2="512.8" y2="54.5" stroke="#e2ecec" stroke-width="0.7" /><line x1="280.5" y1="63.3" x2="512.8" y2="63.3" stroke="#f2c4cc" stroke-width="0.8" /><line x1="280.5" y1="70.5" x2="512.8" y2="70.5" stroke="#e6eef0" stroke-width="0.7" /><path d="M296.5,93.5V76.1M296.9,92.5V78.5M297.3,95.0V85.0M297.8,94.5V81.8M298.2,95.8V75.9M298.6,96.0V81.6M299.0,94.9V74.1M299.4,91.9V79.5M299.9,91.1V73.0M300.3,92.0V83.2M300.7,95.0V74.9M301.1,97.8V82.1M301.5,102.2V82.0M302.0,102.0V88.8M302.4,102.2V88.4M302.8,98.5V83.2M303.2,101.5V77.6M303.6,100.7V84.3M304.1,101.9V67.4M304.5,101.4V92.0M304.9,102.2V85.4M305.3,102.2V86.5M305.7,102.2V77.4M306.2,102.2V89.1M306.6,98.6V85.4M307.0,96.2V86.0M307.4,93.8V73.2M307.8,94.9V80.9M308.3,95.1V85.3M308.7,98.8V90.7M309.1,96.5V78.4M309.5,95.1V78.9M309.9,102.2V68.5M310.4,88.9V75.6M325.5,93.1V79.1M325.9,98.2V85.6M326.3,96.2V82.5M326.8,101.9V89.4M327.2,98.4V91.6M327.6,102.2V94.1M328.0,102.2V94.0M328.4,102.2V83.0M328.9,102.2V88.7M329.3,102.2V89.0M329.7,102.1V86.5M330.1,101.2V89.1M330.5,97.8V76.1M331.0,102.2V74.5M331.4,102.2V87.3M331.8,101.6V89.7M332.2,97.5V82.9M332.6,100.2V79.8M333.1,99.6V82.1M333.5,95.1V80.6M333.9,97.2V81.3M334.3,89.5V81.8M334.7,90.7V79.3M335.2,88.2V81.7M335.6,91.9V79.6M336.0,93.0V81.4M336.4,95.5V87.9M336.8,94.8V84.6M337.3,102.2V75.5M337.7,99.0V88.8M338.1,97.6V89.0M352.6,99.5V84.0M353.0,102.2V91.5M353.5,102.2V91.4M353.9,101.0V91.3M354.3,96.3V90.0M354.7,96.8V84.6M355.1,94.7V75.0M355.6,96.8V76.4M356.0,88.1V78.8M356.4,89.9V82.0M356.8,100.4V83.8M357.2,100.6V75.4M357.7,102.2V78.4M358.1,98.9V76.2M358.5,93.1V85.4M358.9,99.8V87.5M359.3,101.2V83.9M359.8,102.2V87.5M360.2,102.2V93.8M360.6,102.2V96.5M361.0,102.2V90.7M361.4,101.7V81.1M361.9,96.5V84.9M362.3,97.3V81.6M362.7,93.8V84.6M363.1,99.7V85.9M363.5,98.7V81.3M364.0,95.3V83.8M377.5,95.0V69.9M377.9,91.8V77.0M378.3,91.4V78.1M378.8,96.4V79.4M379.2,97.1V81.3M379.6,93.0V76.6M380.0,95.7V64.5M380.4,101.6V86.3M380.9,102.2V84.9M381.3,97.6V84.5M381.7,99.3V74.7M382.1,99.3V88.7M382.5,93.6V82.4M383.0,93.2V84.5M383.4,93.8V88.9M383.8,101.3V88.4M384.2,102.2V87.9M384.6,102.2V87.8M385.1,99.5V84.0M385.5,102.2V63.9M385.9,98.6V67.3M386.3,97.0V72.0M386.7,98.7V79.7M387.2,99.2V89.0M387.6,100.6V75.6M388.0,96.3V90.0M400.5,98.9V89.5M400.9,98.1V77.9M401.3,96.2V81.2M401.8,97.1V80.6M402.2,102.2V83.5M402.6,102.2V85.1M403.0,100.1V92.2M403.4,102.2V91.5M403.9,100.3V94.1M404.3,99.1V87.8M404.7,100.3V86.6M405.1,96.9V82.2M405.5,96.5V88.1M406.0,94.7V78.4M406.4,96.3V83.3M406.8,93.9V84.4M407.2,101.3V81.6M407.6,97.5V84.4M408.1,97.9V82.9M408.5,101.1V87.4M408.9,97.8V81.6M409.3,92.9V84.1M409.7,92.7V80.7M410.2,89.6V75.4M410.6,95.4V59.8M423.6,97.6V82.6M424.0,99.5V85.8M424.5,101.8V67.3M424.9,99.0V85.7M425.3,99.5V86.0M425.7,97.7V88.4M426.1,95.7V82.6M426.6,102.2V81.5M427.0,99.2V88.2M427.4,102.2V84.4M427.8,96.2V84.0M428.2,98.8V92.5M428.7,100.8V90.4M429.1,102.2V87.3M429.5,102.2V92.6M429.9,102.2V90.0M430.3,102.2V97.5M430.8,102.2V82.6M431.2,99.5V69.8M431.6,102.2V80.0M432.0,97.2V84.0M432.4,100.6V83.9M432.9,100.7V86.4M433.3,102.1V78.6M445.6,101.5V76.6M446.0,102.2V92.2M446.5,102.2V93.8M446.9,102.2V90.1M447.3,102.2V86.6M447.7,102.2V94.4M448.1,101.4V89.7M448.6,94.2V82.2M449.0,97.1V84.7M449.4,101.4V87.2M449.8,100.7V76.8M450.2,97.8V85.4M450.7,95.9V83.6M451.1,99.8V85.6M451.5,101.2V66.7M451.9,94.2V74.6M452.3,101.8V77.8M452.8,95.0V70.5M453.2,96.1V69.9M453.6,95.3V80.7M454.0,100.3V89.0M454.4,98.0V87.0M454.9,101.3V92.7M455.3,102.2V94.4M466.1,101.4V93.2M466.5,102.2V81.8M467.0,101.1V85.4M467.4,100.8V86.9M467.8,94.1V82.2M468.2,100.5V81.0M468.6,93.6V84.6M469.1,97.4V79.2M469.5,96.4V86.6M469.9,95.5V88.7M470.3,102.2V86.4M470.7,93.9V83.6M471.2,92.6V70.2M471.6,98.9V71.4M472.0,90.8V81.3M472.4,89.7V80.3M472.8,91.2V84.5M473.3,95.8V84.3M483.2,102.2V84.6M483.7,99.4V89.2M484.1,102.2V91.9M484.5,101.7V87.4M484.9,102.2V92.2M485.4,100.1V91.6M485.8,102.2V86.9M486.2,102.2V79.8M486.6,100.2V87.1M487.0,92.9V77.4M487.5,97.0V75.0M487.9,92.2V82.1M488.3,94.0V76.6M488.7,94.0V83.5M489.1,100.2V85.6M489.6,95.2V83.1M490.0,97.7V84.0M490.4,102.2V85.1M500.5,101.3V93.2M500.9,102.2V87.6M501.3,102.2V87.5M501.8,102.2V83.9M502.2,102.2V93.3M502.6,102.2V90.2M503.0,102.2V89.3M503.4,101.5V86.0M503.9,102.2V88.6M504.3,99.5V80.4M504.7,96.1V85.3M505.1,100.6V83.2M505.5,101.3V75.7M506.0,101.9V86.5M506.4,98.0V83.4M506.8,96.2V83.2M507.2,95.6V80.8M507.6,89.4V79.9M508.1,96.8V82.6M508.5,94.7V78.1M508.9,95.4V87.5M509.3,95.1V90.2M509.7,102.2V90.1M510.2,96.3V78.5M510.6,95.6V89.2M511.0,100.0V87.7M511.4,97.0V80.0M511.8,101.4V89.3" stroke="#808080" stroke-width="0.7" fill="none"/><path d="M281.5,102.2V78.2M281.9,99.9V72.1M282.3,102.2V96.3M282.8,102.2V95.9M283.2,102.2V88.7M283.6,102.2V94.0M284.0,100.1V93.6M284.4,102.2V91.2M284.9,102.2V92.5M285.3,102.2V97.0M285.7,102.2V99.1M286.1,102.2V95.5M286.5,102.2V87.6M287.0,98.9V91.6M287.4,102.2V91.6M287.8,97.6V88.9M288.2,102.0V86.2M288.6,102.2V90.7M289.1,102.2V89.3M289.5,95.5V87.2M289.9,99.6V77.5M290.3,95.4V80.2M290.7,93.9V85.0M291.2,99.4V87.5M291.6,100.0V73.1M292.0,101.8V90.7M292.4,101.9V86.6M292.8,100.6V87.7M293.3,98.8V82.0M293.7,98.0V84.7M294.1,99.8V76.3M294.5,102.2V65.7M294.9,102.0V55.8M295.4,102.2V52.9M311.6,102.2V97.3M312.0,101.3V91.2M312.5,102.2V92.8M312.9,102.2V86.1M313.3,100.6V74.6M313.7,102.2V91.3M314.1,102.2V85.4M314.6,102.2V94.9M315.0,102.2V90.8M315.4,102.2V94.1M315.8,102.2V94.7M316.2,102.2V77.8M316.7,102.2V67.9M317.1,102.2V63.4M317.5,102.2V72.3M317.9,100.3V81.4M318.3,95.3V80.9M318.8,95.5V70.3M319.2,97.8V87.7M319.6,97.2V80.1M320.0,100.8V84.4M320.4,102.2V86.5M320.9,101.1V82.7M321.3,102.2V91.3M321.7,100.3V89.8M322.1,98.6V90.2M322.5,97.6V88.6M323.0,98.1V84.0M323.4,94.9V85.9M323.8,97.3V74.2M324.2,93.1V70.3M339.1,102.2V95.1M339.5,102.2V94.9M340.0,101.9V93.6M340.4,102.2V93.3M340.8,102.2V86.9M341.2,98.6V92.3M341.6,102.2V93.2M342.1,98.5V91.3M342.5,101.3V93.6M342.9,102.2V90.8M343.3,102.2V93.1M343.7,102.2V91.1M344.2,101.9V90.0M344.6,101.7V87.7M345.0,99.3V87.4M345.4,99.7V86.7M345.8,93.7V83.4M346.3,98.5V79.1M346.7,95.6V69.1M347.1,96.1V66.1M347.5,101.5V73.3M347.9,99.7V84.5M348.4,102.2V94.3M348.8,102.2V95.9M349.2,102.2V92.1M349.6,102.2V85.7M350.0,102.2V94.4M350.5,101.6V95.6M350.9,102.2V88.7M351.3,102.2V86.5M365.2,101.7V92.5M365.7,96.8V87.6M366.1,92.6V87.7M366.5,100.3V81.3M366.9,91.7V73.6M367.4,95.2V62.2M367.8,101.8V64.8M368.2,97.6V73.9M368.6,102.2V89.9M369.0,100.6V87.8M369.5,98.7V86.4M369.9,93.4V82.7M370.3,95.5V85.6M370.7,99.8V80.4M371.1,98.7V91.6M371.6,102.2V68.5M372.0,101.4V53.4M372.4,101.4V66.3M372.8,99.0V87.8M373.2,102.2V86.4M373.7,99.8V91.7M374.1,102.2V90.6M374.5,102.2V94.2M374.9,102.2V97.4M375.3,102.2V96.6M375.8,102.2V96.0M376.2,102.2V77.7M389.4,94.8V84.2M389.8,96.3V86.9M390.2,98.0V87.7M390.6,98.5V90.1M391.1,97.7V92.2M391.5,102.2V89.4M391.9,102.2V94.5M392.3,102.2V88.0M392.7,96.2V88.0M393.2,101.0V88.6M393.6,101.1V89.0M394.0,102.2V93.6M394.4,102.2V95.2M394.8,102.2V95.9M395.3,102.2V79.1M395.7,102.2V64.4M396.1,101.0V57.9M396.5,102.2V71.5M396.9,102.2V95.7M397.4,102.2V92.0M397.8,102.2V99.1M398.2,102.2V97.1M398.6,102.2V100.8M399.0,102.2V69.4M399.5,102.2V96.1M412.0,102.2V91.1M412.4,102.2V87.0M412.8,102.2V90.8M413.3,102.2V91.5M413.7,102.2V95.7M414.1,102.2V95.4M414.5,102.2V85.6M414.9,99.4V91.3M415.4,102.2V75.5M415.8,97.6V67.4M416.2,102.2V59.2M416.6,95.4V50.6M417.0,96.9V52.2M417.5,98.0V60.9M417.9,94.3V69.1M418.3,93.3V77.5M418.7,101.1V74.9M419.1,102.2V64.2M419.6,96.0V56.0M420.0,100.7V67.1M420.4,101.2V78.2M420.8,102.2V91.4M421.2,100.8V89.3M421.7,101.3V87.3M422.1,101.1V87.0M422.5,102.2V87.4M434.6,102.2V93.6M435.0,102.2V98.0M435.5,102.2V99.1M435.9,102.2V95.8M436.3,100.3V92.3M436.7,101.6V93.8M437.1,100.3V85.1M437.6,102.2V94.5M438.0,102.2V87.0M438.4,102.2V96.8M438.8,102.2V93.7M439.2,100.5V91.2M439.7,102.0V86.2M440.1,98.3V87.8M440.5,100.2V86.5M440.9,97.3V82.7M441.3,100.0V82.7M441.8,102.2V88.4M442.2,95.7V89.5M442.6,99.9V91.0M443.0,102.2V89.1M443.4,96.0V83.7M443.9,93.8V72.1M444.3,96.3V84.4M456.5,96.2V80.7M456.9,99.6V87.1M457.3,102.2V89.1M457.8,100.2V88.6M458.2,102.2V82.3M458.6,99.1V89.7M459.0,100.0V86.0M459.4,102.2V86.6M459.9,95.6V89.0M460.3,101.6V85.3M460.7,102.2V91.9M461.1,101.0V90.3M461.5,102.2V97.7M462.0,102.2V99.2M462.4,102.2V92.4M462.8,102.2V94.9M463.2,102.2V96.8M463.6,102.2V94.5M464.1,101.8V83.4M464.5,102.2V87.5M464.9,102.2V90.2M474.5,101.3V86.1M474.9,94.0V81.6M475.3,92.5V83.8M475.8,96.7V79.8M476.2,96.1V83.6M476.6,94.9V81.6M477.0,100.1V87.4M477.4,95.8V78.0M477.9,100.4V71.8M478.3,100.5V72.3M478.7,102.2V81.0M479.1,101.9V96.9M479.5,102.2V88.1M480.0,102.2V94.9M480.4,102.2V95.9M480.8,102.2V93.7M481.2,102.2V93.3M481.6,100.3V93.1M482.1,99.8V90.5M491.5,102.2V89.3M491.9,102.2V89.9M492.3,98.3V90.6M492.8,99.1V90.0M493.2,99.3V93.4M493.6,98.4V92.7M494.0,99.9V85.4M494.4,102.2V77.6M494.9,101.2V70.8M495.3,99.2V73.9M495.7,100.8V80.8M496.1,102.1V89.9M496.5,96.8V87.2M497.0,97.2V82.6M497.4,94.0V78.6M497.8,95.8V80.0M498.2,94.6V85.9M498.6,98.1V86.9M499.1,97.8V85.7M499.5,99.4V90.8" stroke="#000" stroke-width="0.75" fill="none"/><rect x="279.9" y="34.8" width="233.5" height="68.2" fill="none" stroke="#2a2a2a" stroke-width="1.2"/><line x1="279.3" y1="35.0" x2="514.1" y2="35.0" stroke="#222" stroke-width="1.4" /><line x1="276.6" y1="102.4" x2="279.9" y2="102.4" stroke="#333" stroke-width="0.9" /><text x="274.4" y="104.7" font-size="6.4" text-anchor="end" fill="#444" font-weight="normal" >0</text><line x1="276.6" y1="86.4" x2="279.9" y2="86.4" stroke="#333" stroke-width="0.9" /><text x="274.4" y="88.7" font-size="6.4" text-anchor="end" fill="#444" font-weight="normal" >2</text><line x1="276.6" y1="70.5" x2="279.9" y2="70.5" stroke="#333" stroke-width="0.9" /><text x="274.4" y="72.8" font-size="6.4" text-anchor="end" fill="#444" font-weight="normal" >4</text><line x1="276.6" y1="54.5" x2="279.9" y2="54.5" stroke="#333" stroke-width="0.9" /><text x="274.4" y="56.8" font-size="6.4" text-anchor="end" fill="#444" font-weight="normal" >6</text><line x1="276.6" y1="38.6" x2="279.9" y2="38.6" stroke="#333" stroke-width="0.9" /><text x="274.4" y="40.9" font-size="6.4" text-anchor="end" fill="#444" font-weight="normal" >8</text><line x1="288" y1="103.0" x2="288" y2="105.60000000000001" stroke="#333" stroke-width="0.8" /><text x="288" y="113.2" font-size="6.6" text-anchor="middle" fill="#333" font-weight="normal" >1</text><line x1="304" y1="103.0" x2="304" y2="105.60000000000001" stroke="#333" stroke-width="0.8" /><text x="304" y="113.2" font-size="6.6" text-anchor="middle" fill="#333" font-weight="normal" >2</text><line x1="318.25" y1="103.0" x2="318.25" y2="105.60000000000001" stroke="#333" stroke-width="0.8" /><text x="318.25" y="113.2" font-size="6.6" text-anchor="middle" fill="#333" font-weight="normal" >3</text><line x1="331.75" y1="103.0" x2="331.75" y2="105.60000000000001" stroke="#333" stroke-width="0.8" /><text x="331.75" y="113.2" font-size="6.6" text-anchor="middle" fill="#333" font-weight="normal" >4</text><line x1="345.5" y1="103.0" x2="345.5" y2="105.60000000000001" stroke="#333" stroke-width="0.8" /><text x="345.5" y="113.2" font-size="6.6" text-anchor="middle" fill="#333" font-weight="normal" >5</text><line x1="358.75" y1="103.0" x2="358.75" y2="105.60000000000001" stroke="#333" stroke-width="0.8" /><text x="358.75" y="113.2" font-size="6.6" text-anchor="middle" fill="#333" font-weight="normal" >6</text><line x1="370.75" y1="103.0" x2="370.75" y2="105.60000000000001" stroke="#333" stroke-width="0.8" /><text x="370.75" y="113.2" font-size="6.6" text-anchor="middle" fill="#333" font-weight="normal" >7</text><line x1="383.25" y1="103.0" x2="383.25" y2="105.60000000000001" stroke="#333" stroke-width="0.8" /><text x="383.25" y="113.2" font-size="6.6" text-anchor="middle" fill="#333" font-weight="normal" >8</text><line x1="394.5" y1="103.0" x2="394.5" y2="105.60000000000001" stroke="#333" stroke-width="0.8" /><text x="394.5" y="113.2" font-size="6.6" text-anchor="middle" fill="#333" font-weight="normal" >9</text><line x1="405.5" y1="103.0" x2="405.5" y2="105.60000000000001" stroke="#333" stroke-width="0.8" /><text x="405.5" y="113.2" font-size="6.6" text-anchor="middle" fill="#333" font-weight="normal" textLength="6.5" lengthAdjust="spacingAndGlyphs" >10</text><line x1="417.5" y1="103.0" x2="417.5" y2="105.60000000000001" stroke="#333" stroke-width="0.8" /><text x="417.5" y="113.2" font-size="6.6" text-anchor="middle" fill="#333" font-weight="normal" textLength="6.5" lengthAdjust="spacingAndGlyphs" >11</text><line x1="428.75" y1="103.0" x2="428.75" y2="105.60000000000001" stroke="#333" stroke-width="0.8" /><text x="428.75" y="113.2" font-size="6.6" text-anchor="middle" fill="#333" font-weight="normal" textLength="6.5" lengthAdjust="spacingAndGlyphs" >12</text><line x1="439.5" y1="103.0" x2="439.5" y2="105.60000000000001" stroke="#333" stroke-width="0.8" /><text x="439.5" y="113.2" font-size="6.6" text-anchor="middle" fill="#333" font-weight="normal" textLength="6.5" lengthAdjust="spacingAndGlyphs" >13</text><line x1="450.75" y1="103.0" x2="450.75" y2="105.60000000000001" stroke="#333" stroke-width="0.8" /><text x="450.75" y="113.2" font-size="6.6" text-anchor="middle" fill="#333" font-weight="normal" textLength="6.5" lengthAdjust="spacingAndGlyphs" >14</text><line x1="461.25" y1="103.0" x2="461.25" y2="105.60000000000001" stroke="#333" stroke-width="0.8" /><text x="461.25" y="113.2" font-size="6.6" text-anchor="middle" fill="#333" font-weight="normal" textLength="6.5" lengthAdjust="spacingAndGlyphs" >15</text><line x1="470" y1="103.0" x2="470" y2="105.60000000000001" stroke="#333" stroke-width="0.8" /><text x="470" y="113.2" font-size="6.6" text-anchor="middle" fill="#333" font-weight="normal" textLength="6.5" lengthAdjust="spacingAndGlyphs" >16</text><line x1="478" y1="103.0" x2="478" y2="105.60000000000001" stroke="#333" stroke-width="0.8" /><text x="478" y="113.2" font-size="6.6" text-anchor="middle" fill="#333" font-weight="normal" textLength="6.5" lengthAdjust="spacingAndGlyphs" >17</text><line x1="487.5" y1="103.0" x2="487.5" y2="105.60000000000001" stroke="#333" stroke-width="0.8" /><text x="487.5" y="113.2" font-size="6.6" text-anchor="middle" fill="#333" font-weight="normal" textLength="6.5" lengthAdjust="spacingAndGlyphs" >18</text><line x1="494.5" y1="103.0" x2="494.5" y2="105.60000000000001" stroke="#333" stroke-width="0.8" /><text x="494.5" y="113.2" font-size="6.6" text-anchor="middle" fill="#333" font-weight="normal" textLength="6.5" lengthAdjust="spacingAndGlyphs" >19</text><line x1="505.5" y1="103.0" x2="505.5" y2="105.60000000000001" stroke="#333" stroke-width="0.8" /><text x="505.5" y="113.2" font-size="6.6" text-anchor="middle" fill="#333" font-weight="normal" >X</text><text transform="translate(265.3,69.5) rotate(-90)" font-size="8.4" text-anchor="middle" fill="#444" textLength="28.8" lengthAdjust="spacingAndGlyphs">LOD score</text><text x="258.2" y="118.9" font-size="11.2" font-weight="bold" fill="#000" stroke="#000" stroke-width="0.35" textLength="7.2" lengthAdjust="spacingAndGlyphs">C</text><line x1="280.5" y1="124.8" x2="512.8" y2="124.8" stroke="#f2d0d5" stroke-width="0.8" /><line x1="280.5" y1="141.0" x2="512.8" y2="141.0" stroke="#f4d8dc" stroke-width="0.7" /><line x1="280.5" y1="150.1" x2="512.8" y2="150.1" stroke="#f2c6cd" stroke-width="0.8" /><line x1="280.5" y1="156.8" x2="512.8" y2="156.8" stroke="#ece2e4" stroke-width="0.7" /><path d="M296.5,179.8V165.3M296.9,178.9V165.3M297.3,179.8V166.4M297.8,183.1V161.7M298.2,178.5V166.8M298.6,182.9V167.4M299.0,178.1V158.4M299.4,182.9V161.0M299.9,178.3V161.1M300.3,183.6V159.7M300.7,184.1V169.2M301.1,184.1V174.5M301.5,184.1V177.8M302.0,187.4V158.4M302.4,186.3V171.6M302.8,187.4V161.9M303.2,179.7V166.4M303.6,183.6V172.3M304.1,185.5V173.5M304.5,187.4V157.9M304.9,187.4V175.3M305.3,186.4V170.8M305.7,187.4V175.7M306.2,187.4V171.8M306.6,187.4V166.5M307.0,185.1V175.5M307.4,183.1V160.5M307.8,182.6V168.2M308.3,178.9V166.5M308.7,181.8V167.3M309.1,186.7V165.9M309.5,185.8V165.7M309.9,184.0V163.2M310.4,181.3V172.7M325.5,186.6V159.3M325.9,182.5V172.3M326.3,182.7V165.6M326.8,182.6V170.3M327.2,182.3V168.2M327.6,183.9V164.0M328.0,178.6V167.3M328.4,182.1V160.2M328.9,187.4V170.4M329.3,181.2V164.6M329.7,179.0V169.8M330.1,177.3V164.1M330.5,174.7V165.9M331.0,178.1V164.7M331.4,178.6V159.3M331.8,171.9V163.7M332.2,177.7V160.8M332.6,174.4V167.1M333.1,176.9V162.3M333.5,184.3V171.2M333.9,183.5V172.3M334.3,180.6V173.0M334.7,180.9V163.7M335.2,184.2V171.0M335.6,182.4V161.9M336.0,181.4V166.3M336.4,179.2V168.1M336.8,182.3V151.4M337.3,185.0V160.7M337.7,185.4V168.4M338.1,187.4V167.0M352.6,176.7V167.4M353.0,181.9V166.0M353.5,180.3V167.4M353.9,180.6V170.3M354.3,178.9V171.6M354.7,178.7V169.4M355.1,183.2V172.1M355.6,177.2V165.7M356.0,175.0V161.5M356.4,180.9V160.6M356.8,174.3V164.4M357.2,180.8V162.0M357.7,173.4V148.1M358.1,176.9V153.8M358.5,180.1V143.5M358.9,180.9V143.8M359.3,185.2V155.0M359.8,181.4V164.1M360.2,185.0V167.3M360.6,187.4V157.5M361.0,184.7V168.9M361.4,183.7V163.2M361.9,177.7V148.7M362.3,181.2V172.0M362.7,181.6V169.0M363.1,182.8V166.5M363.5,187.4V172.1M364.0,187.4V175.5M377.5,182.1V170.3M377.9,187.1V175.0M378.3,187.2V171.3M378.8,185.0V172.0M379.2,180.2V167.4M379.6,182.6V170.0M380.0,179.6V161.6M380.4,178.0V162.5M380.9,176.0V166.3M381.3,177.0V169.2M381.7,185.8V172.0M382.1,183.3V169.5M382.5,186.4V166.9M383.0,187.4V177.7M383.4,187.4V173.4M383.8,187.4V173.9M384.2,187.4V175.8M384.6,183.1V176.8M385.1,187.4V159.4M385.5,187.4V147.0M385.9,181.8V156.0M386.3,183.8V176.8M386.7,187.4V176.1M387.2,187.4V177.4M387.6,184.9V178.7M388.0,187.4V175.7M400.5,187.4V179.8M400.9,185.8V171.8M401.3,185.0V170.7M401.8,185.3V171.9M402.2,183.9V164.7M402.6,180.7V167.3M403.0,181.7V170.7M403.4,176.0V171.2M403.9,178.6V163.1M404.3,185.2V170.2M404.7,180.4V170.4M405.1,186.8V171.7M405.5,181.1V173.2M406.0,187.4V164.1M406.4,181.2V167.3M406.8,179.4V149.8M407.2,177.3V167.0M407.6,181.5V168.5M408.1,177.5V159.1M408.5,175.8V164.1M408.9,179.3V168.9M409.3,176.0V164.2M409.7,180.5V153.6M410.2,184.7V168.5M410.6,180.4V173.5M423.6,180.8V171.8M424.0,183.8V151.5M424.5,179.0V169.6M424.9,187.4V168.5M425.3,184.6V165.6M425.7,182.5V154.3M426.1,177.7V164.9M426.6,175.9V170.2M427.0,177.7V162.2M427.4,177.7V169.0M427.8,181.2V155.4M428.2,187.4V172.9M428.7,187.4V163.9M429.1,187.4V180.2M429.5,187.4V180.2M429.9,187.3V173.7M430.3,187.4V178.8M430.8,187.4V165.5M431.2,185.6V179.6M431.6,187.4V176.4M432.0,186.1V177.7M432.4,187.4V173.0M432.9,187.4V175.6M433.3,183.5V174.7M445.6,187.4V158.2M446.0,187.4V171.2M446.5,187.4V174.4M446.9,187.4V182.4M447.3,187.4V177.1M447.7,187.4V180.3M448.1,182.3V170.3M448.6,181.0V160.5M449.0,180.7V170.9M449.4,183.1V165.4M449.8,184.7V173.7M450.2,187.4V174.5M450.7,185.8V170.3M451.1,184.0V154.8M451.5,180.3V141.8M451.9,180.4V155.7M452.3,174.2V151.5M452.8,182.8V170.8M453.2,185.6V159.8M453.6,184.6V165.8M454.0,181.7V169.8M454.4,178.7V172.1M454.9,182.9V164.7M455.3,180.6V164.9M466.1,186.5V169.6M466.5,187.4V177.6M467.0,187.4V180.3M467.4,187.4V177.9M467.8,184.7V155.9M468.2,185.0V171.5M468.6,176.7V167.6M469.1,182.6V159.1M469.5,178.5V165.8M469.9,177.0V148.4M470.3,181.8V171.5M470.7,185.5V157.8M471.2,180.8V167.3M471.6,181.9V173.2M472.0,187.4V175.8M472.4,187.4V173.7M472.8,182.9V175.2M473.3,187.4V173.4M483.2,187.2V173.0M483.7,187.4V162.4M484.1,187.1V172.4M484.5,187.4V177.0M484.9,187.4V178.3M485.4,187.4V179.8M485.8,186.0V176.6M486.2,184.9V175.9M486.6,185.6V169.8M487.0,187.4V174.8M487.5,187.4V176.3M487.9,187.4V177.2M488.3,187.4V177.8M488.7,187.4V177.3M489.1,187.4V168.6M489.6,183.6V174.2M490.0,180.5V168.0M490.4,183.8V168.2M500.5,187.4V178.6M500.9,187.4V177.4M501.3,187.4V177.5M501.8,187.4V164.1M502.2,187.1V155.0M502.6,184.3V177.2M503.0,187.4V176.7M503.4,187.4V173.7M503.9,187.4V172.3M504.3,187.4V178.2M504.7,187.4V178.3M505.1,187.4V175.1M505.5,184.3V166.0M506.0,176.6V169.2M506.4,181.2V169.3M506.8,182.7V168.6M507.2,181.9V167.5M507.6,179.9V160.6M508.1,185.6V173.6M508.5,183.7V171.1M508.9,182.4V169.8M509.3,179.0V152.5M509.7,185.7V174.4M510.2,184.8V175.2M510.6,187.4V178.0M511.0,187.4V172.9M511.4,187.4V175.2M511.8,187.4V178.7" stroke="#808080" stroke-width="0.7" fill="none"/><path d="M281.5,183.4V174.1M281.9,184.7V171.6M282.3,185.2V173.7M282.8,185.1V164.3M283.2,180.2V156.5M283.6,175.2V152.0M284.0,175.1V160.5M284.4,184.2V168.5M284.9,187.4V171.6M285.3,187.4V161.1M285.7,187.4V174.5M286.1,185.8V177.1M286.5,187.4V174.9M287.0,182.9V176.6M287.4,187.4V172.4M287.8,187.4V175.6M288.2,187.4V177.2M288.6,187.4V180.7M289.1,187.4V178.0M289.5,185.9V177.2M289.9,180.0V173.7M290.3,177.4V170.3M290.7,181.2V170.9M291.2,181.7V172.3M291.6,181.4V170.8M292.0,186.0V174.0M292.4,180.4V170.9M292.8,177.2V168.1M293.3,187.4V170.0M293.7,183.4V156.0M294.1,180.4V164.6M294.5,187.4V159.3M294.9,184.6V178.0M295.4,187.4V175.7M311.6,187.4V172.1M312.0,186.8V179.2M312.5,187.4V177.8M312.9,187.4V172.8M313.3,187.4V178.8M313.7,187.4V177.1M314.1,187.4V183.9M314.6,187.4V179.4M315.0,187.4V178.0M315.4,184.6V168.5M315.8,185.6V172.8M316.2,186.2V173.5M316.7,186.8V170.2M317.1,187.4V172.1M317.5,187.4V161.7M317.9,187.4V176.4M318.3,187.4V168.1M318.8,187.4V173.7M319.2,187.4V169.1M319.6,187.4V174.9M320.0,186.4V180.5M320.4,187.4V177.7M320.9,187.4V181.7M321.3,187.4V186.1M321.7,187.4V183.7M322.1,187.4V181.6M322.5,187.4V180.3M323.0,187.4V170.9M323.4,187.4V181.5M323.8,187.4V171.9M324.2,187.4V178.6M339.1,187.4V182.1M339.5,187.4V180.5M340.0,187.4V177.1M340.4,187.4V173.6M340.8,183.9V169.5M341.2,183.7V157.9M341.6,184.4V150.0M342.1,186.1V151.4M342.5,183.5V162.2M342.9,183.4V165.4M343.3,187.1V176.5M343.7,181.6V174.1M344.2,187.4V176.4M344.6,182.1V172.7M345.0,182.6V172.0M345.4,183.4V173.1M345.8,185.0V175.9M346.3,187.4V177.6M346.7,187.4V168.4M347.1,187.4V173.5M347.5,187.4V175.3M347.9,187.4V184.6M348.4,187.4V167.9M348.8,187.4V183.1M349.2,187.4V180.8M349.6,187.4V175.2M350.0,186.4V167.9M350.5,184.2V174.2M350.9,186.5V173.3M351.3,180.1V172.5M365.2,187.4V166.7M365.7,187.4V179.9M366.1,187.4V176.9M366.5,186.1V169.3M366.9,187.4V157.9M367.4,186.7V146.4M367.8,182.6V149.7M368.2,186.4V161.7M368.6,183.0V168.3M369.0,186.1V174.4M369.5,187.4V173.7M369.9,181.4V170.7M370.3,182.8V172.1M370.7,180.6V166.1M371.1,177.6V152.4M371.6,179.5V138.8M372.0,185.7V142.7M372.4,185.3V156.7M372.8,181.4V170.8M373.2,184.1V170.8M373.7,186.8V162.9M374.1,182.6V172.4M374.5,183.6V154.1M374.9,187.4V176.9M375.3,187.4V181.0M375.8,187.2V166.4M376.2,187.4V155.5M389.4,186.0V177.0M389.8,183.9V176.6M390.2,187.4V177.3M390.6,187.4V181.4M391.1,187.4V182.0M391.5,187.4V182.0M391.9,187.4V181.4M392.3,187.4V179.2M392.7,187.4V169.6M393.2,187.2V172.5M393.6,187.4V172.3M394.0,187.4V172.5M394.4,185.7V177.2M394.8,187.4V174.8M395.3,183.9V176.3M395.7,184.7V177.3M396.1,180.2V175.2M396.5,182.0V167.4M396.9,178.8V167.5M397.4,177.3V170.1M397.8,177.1V167.8M398.2,184.7V166.9M398.6,179.1V171.5M399.0,187.4V170.2M399.5,184.3V175.7M412.0,187.4V177.9M412.4,187.4V161.3M412.8,187.3V179.9M413.3,187.4V177.0M413.7,187.4V180.1M414.1,187.4V161.4M414.5,187.4V182.6M414.9,187.4V176.8M415.4,187.4V175.3M415.8,187.4V149.9M416.2,185.9V141.1M416.6,184.4V130.1M417.0,184.8V130.4M417.5,181.4V140.2M417.9,182.5V150.7M418.3,183.0V173.3M418.7,187.4V155.2M419.1,187.4V143.1M419.6,187.4V132.8M420.0,183.8V145.8M420.4,187.4V158.6M420.8,187.4V169.9M421.2,185.7V171.2M421.7,183.2V166.5M422.1,179.6V170.6M422.5,178.4V172.6M434.6,187.4V166.9M435.0,187.4V172.6M435.5,187.4V173.8M435.9,187.1V177.6M436.3,187.4V171.4M436.7,187.4V175.9M437.1,187.4V171.2M437.6,187.4V176.6M438.0,187.4V177.7M438.4,187.4V178.6M438.8,187.4V178.9M439.2,187.4V162.4M439.7,187.4V151.1M440.1,184.7V144.1M440.5,187.1V155.4M440.9,181.3V166.8M441.3,186.5V169.6M441.8,176.9V167.4M442.2,183.5V170.0M442.6,180.2V167.2M443.0,187.4V170.5M443.4,187.4V176.7M443.9,187.4V175.8M444.3,187.4V175.4M456.5,187.0V169.6M456.9,187.4V173.9M457.3,187.4V175.3M457.8,179.0V168.9M458.2,177.5V170.7M458.6,187.4V164.0M459.0,182.7V170.1M459.4,184.1V174.2M459.9,184.3V174.0M460.3,187.4V179.2M460.7,186.5V178.5M461.1,184.2V168.8M461.5,182.6V176.3M462.0,187.2V166.4M462.4,187.4V178.1M462.8,187.4V177.5M463.2,187.4V168.7M463.6,187.4V184.2M464.1,187.4V173.0M464.5,187.2V177.0M464.9,187.4V177.5M474.5,187.3V178.5M474.9,187.4V179.3M475.3,187.4V183.7M475.8,187.4V185.5M476.2,187.4V175.5M476.6,187.4V182.7M477.0,187.4V172.6M477.4,187.4V184.6M477.9,187.4V180.7M478.3,187.4V181.1M478.7,184.0V178.3M479.1,187.4V174.7M479.5,185.3V168.7M480.0,184.3V172.5M480.4,182.3V154.1M480.8,183.4V172.7M481.2,187.4V174.9M481.6,183.6V168.2M482.1,187.4V168.8M491.5,178.3V166.7M491.9,178.0V168.6M492.3,182.4V165.9M492.8,181.7V172.5M493.2,187.4V173.9M493.6,187.4V176.3M494.0,181.1V167.6M494.4,184.3V175.4M494.9,187.4V165.7M495.3,186.6V155.1M495.7,186.9V153.9M496.1,187.4V166.8M496.5,187.4V179.4M497.0,187.4V182.5M497.4,186.5V180.5M497.8,184.5V179.0M498.2,187.4V174.4M498.6,179.3V171.7M499.1,187.4V170.2M499.5,180.0V169.7" stroke="#000" stroke-width="0.75" fill="none"/><rect x="279.9" y="120.4" width="233.5" height="67.79999999999998" fill="none" stroke="#2a2a2a" stroke-width="1.2"/><line x1="279.3" y1="120.60000000000001" x2="514.1" y2="120.60000000000001" stroke="#222" stroke-width="1.4" /><line x1="276.6" y1="187.6" x2="279.9" y2="187.6" stroke="#333" stroke-width="0.9" /><text x="274.4" y="189.9" font-size="6.4" text-anchor="end" fill="#444" font-weight="normal" >0</text><line x1="276.6" y1="171.8" x2="279.9" y2="171.8" stroke="#333" stroke-width="0.9" /><text x="274.4" y="174.10000000000002" font-size="6.4" text-anchor="end" fill="#444" font-weight="normal" >2</text><line x1="276.6" y1="156.0" x2="279.9" y2="156.0" stroke="#333" stroke-width="0.9" /><text x="274.4" y="158.3" font-size="6.4" text-anchor="end" fill="#444" font-weight="normal" >4</text><line x1="276.6" y1="140.2" x2="279.9" y2="140.2" stroke="#333" stroke-width="0.9" /><text x="274.4" y="142.5" font-size="6.4" text-anchor="end" fill="#444" font-weight="normal" >6</text><line x1="276.6" y1="124.4" x2="279.9" y2="124.4" stroke="#333" stroke-width="0.9" /><text x="274.4" y="126.7" font-size="6.4" text-anchor="end" fill="#444" font-weight="normal" >8</text><line x1="288" y1="188.2" x2="288" y2="190.79999999999998" stroke="#333" stroke-width="0.8" /><text x="288" y="198.4" font-size="6.6" text-anchor="middle" fill="#333" font-weight="normal" >1</text><line x1="304" y1="188.2" x2="304" y2="190.79999999999998" stroke="#333" stroke-width="0.8" /><text x="304" y="198.4" font-size="6.6" text-anchor="middle" fill="#333" font-weight="normal" >2</text><line x1="318.25" y1="188.2" x2="318.25" y2="190.79999999999998" stroke="#333" stroke-width="0.8" /><text x="318.25" y="198.4" font-size="6.6" text-anchor="middle" fill="#333" font-weight="normal" >3</text><line x1="331.75" y1="188.2" x2="331.75" y2="190.79999999999998" stroke="#333" stroke-width="0.8" /><text x="331.75" y="198.4" font-size="6.6" text-anchor="middle" fill="#333" font-weight="normal" >4</text><line x1="345.5" y1="188.2" x2="345.5" y2="190.79999999999998" stroke="#333" stroke-width="0.8" /><text x="345.5" y="198.4" font-size="6.6" text-anchor="middle" fill="#333" font-weight="normal" >5</text><line x1="358.75" y1="188.2" x2="358.75" y2="190.79999999999998" stroke="#333" stroke-width="0.8" /><text x="358.75" y="198.4" font-size="6.6" text-anchor="middle" fill="#333" font-weight="normal" >6</text><line x1="370.75" y1="188.2" x2="370.75" y2="190.79999999999998" stroke="#333" stroke-width="0.8" /><text x="370.75" y="198.4" font-size="6.6" text-anchor="middle" fill="#333" font-weight="normal" >7</text><line x1="383.25" y1="188.2" x2="383.25" y2="190.79999999999998" stroke="#333" stroke-width="0.8" /><text x="383.25" y="198.4" font-size="6.6" text-anchor="middle" fill="#333" font-weight="normal" >8</text><line x1="394.5" y1="188.2" x2="394.5" y2="190.79999999999998" stroke="#333" stroke-width="0.8" /><text x="394.5" y="198.4" font-size="6.6" text-anchor="middle" fill="#333" font-weight="normal" >9</text><line x1="405.5" y1="188.2" x2="405.5" y2="190.79999999999998" stroke="#333" stroke-width="0.8" /><text x="405.5" y="198.4" font-size="6.6" text-anchor="middle" fill="#333" font-weight="normal" textLength="6.5" lengthAdjust="spacingAndGlyphs" >10</text><line x1="417.5" y1="188.2" x2="417.5" y2="190.79999999999998" stroke="#333" stroke-width="0.8" /><text x="417.5" y="198.4" font-size="6.6" text-anchor="middle" fill="#333" font-weight="normal" textLength="6.5" lengthAdjust="spacingAndGlyphs" >11</text><line x1="428.75" y1="188.2" x2="428.75" y2="190.79999999999998" stroke="#333" stroke-width="0.8" /><text x="428.75" y="198.4" font-size="6.6" text-anchor="middle" fill="#333" font-weight="normal" textLength="6.5" lengthAdjust="spacingAndGlyphs" >12</text><line x1="439.5" y1="188.2" x2="439.5" y2="190.79999999999998" stroke="#333" stroke-width="0.8" /><text x="439.5" y="198.4" font-size="6.6" text-anchor="middle" fill="#333" font-weight="normal" textLength="6.5" lengthAdjust="spacingAndGlyphs" >13</text><line x1="450.75" y1="188.2" x2="450.75" y2="190.79999999999998" stroke="#333" stroke-width="0.8" /><text x="450.75" y="198.4" font-size="6.6" text-anchor="middle" fill="#333" font-weight="normal" textLength="6.5" lengthAdjust="spacingAndGlyphs" >14</text><line x1="461.25" y1="188.2" x2="461.25" y2="190.79999999999998" stroke="#333" stroke-width="0.8" /><text x="461.25" y="198.4" font-size="6.6" text-anchor="middle" fill="#333" font-weight="normal" textLength="6.5" lengthAdjust="spacingAndGlyphs" >15</text><line x1="470" y1="188.2" x2="470" y2="190.79999999999998" stroke="#333" stroke-width="0.8" /><text x="470" y="198.4" font-size="6.6" text-anchor="middle" fill="#333" font-weight="normal" textLength="6.5" lengthAdjust="spacingAndGlyphs" >16</text><line x1="478" y1="188.2" x2="478" y2="190.79999999999998" stroke="#333" stroke-width="0.8" /><text x="478" y="198.4" font-size="6.6" text-anchor="middle" fill="#333" font-weight="normal" textLength="6.5" lengthAdjust="spacingAndGlyphs" >17</text><line x1="487.5" y1="188.2" x2="487.5" y2="190.79999999999998" stroke="#333" stroke-width="0.8" /><text x="487.5" y="198.4" font-size="6.6" text-anchor="middle" fill="#333" font-weight="normal" textLength="6.5" lengthAdjust="spacingAndGlyphs" >18</text><line x1="494.5" y1="188.2" x2="494.5" y2="190.79999999999998" stroke="#333" stroke-width="0.8" /><text x="494.5" y="198.4" font-size="6.6" text-anchor="middle" fill="#333" font-weight="normal" textLength="6.5" lengthAdjust="spacingAndGlyphs" >19</text><line x1="505.5" y1="188.2" x2="505.5" y2="190.79999999999998" stroke="#333" stroke-width="0.8" /><text x="505.5" y="198.4" font-size="6.6" text-anchor="middle" fill="#333" font-weight="normal" >X</text><text transform="translate(265.3,154.9) rotate(-90)" font-size="8.4" text-anchor="middle" fill="#444" textLength="28.8" lengthAdjust="spacingAndGlyphs">LOD score</text><text x="511" y="125.8" font-size="5.2" text-anchor="end" fill="#f5d2d7" font-weight="normal" textLength="55" lengthAdjust="spacingAndGlyphs" >Genome-wide significance</text><text x="511" y="131.6" font-size="5.2" text-anchor="end" fill="#f5d2d7" font-weight="normal" textLength="21" lengthAdjust="spacingAndGlyphs" >threshold</text><text x="511" y="146.6" font-size="5.2" text-anchor="end" fill="#f6dade" font-weight="normal" textLength="63" lengthAdjust="spacingAndGlyphs" >Suggestive QTL threshold</text><text x="511" y="61.8" font-size="5.2" text-anchor="end" fill="#f8e0e3" font-weight="normal" textLength="63" lengthAdjust="spacingAndGlyphs" >Suggestive QTL threshold</text><rect x="410.2" y="41" width="15.6" height="147.6" fill="none" stroke="#8a7a7c" stroke-width="0.7"/><line x1="417.2" y1="120.5" x2="417.2" y2="188" stroke="#5a4a4c" stroke-width="0.9" /><line x1="417.2" y1="37.2" x2="417.2" y2="43.3" stroke="#c8202e" stroke-width="1.3" /><path d="M415.0,42.8 L419.4,42.8 L417.2,46.8 Z" fill="#c8202e"/><line x1="417.2" y1="117.6" x2="417.2" y2="121.1" stroke="#c8202e" stroke-width="1.2" /><path d="M415.4,120.6 L419.0,120.6 L417.2,123.6 Z" fill="#c8202e"/><line x1="417.0" y1="203" x2="417.0" y2="206.2" stroke="#c8202e" stroke-width="1.3" /><path d="M414.9,203.3 L419.1,203.3 L417,200.2 Z" fill="#c8202e"/><text x="405.4" y="214.1" font-size="6.8" text-anchor="start" fill="#c8202e" font-weight="normal" textLength="26.1" lengthAdjust="spacingAndGlyphs" >SLC22A5</text><text x="471.2" y="205.0" font-size="6.8" text-anchor="start" fill="#333" font-weight="normal" textLength="38.6" lengthAdjust="spacingAndGlyphs" >Chromosome</text><text x="7.2" y="260.9" font-size="11.2" font-weight="bold" fill="#000" stroke="#000" stroke-width="0.35" textLength="8.1" lengthAdjust="spacingAndGlyphs">D</text><text x="110" y="274.2" font-size="8.6" text-anchor="start" fill="#333" font-weight="normal" textLength="78" lengthAdjust="spacingAndGlyphs" >Locus Zoom (Stored)</text><rect x="164.3" y="279.7" width="43.2" height="119.5" fill="#f8dde1" /><line x1="68.75" y1="279.7" x2="68.75" y2="362" stroke="#dcdcdc" stroke-width="0.6" /><line x1="68.75" y1="366.3" x2="68.75" y2="399.2" stroke="#e6e6e6" stroke-width="0.5" /><line x1="108.2" y1="279.7" x2="108.2" y2="362" stroke="#dcdcdc" stroke-width="0.6" /><line x1="108.2" y1="366.3" x2="108.2" y2="399.2" stroke="#e6e6e6" stroke-width="0.5" /><line x1="148.4" y1="279.7" x2="148.4" y2="362" stroke="#dcdcdc" stroke-width="0.6" /><line x1="148.4" y1="366.3" x2="148.4" y2="399.2" stroke="#e6e6e6" stroke-width="0.5" /><line x1="188.2" y1="279.7" x2="188.2" y2="362" stroke="#dcdcdc" stroke-width="0.6" /><line x1="188.2" y1="366.3" x2="188.2" y2="399.2" stroke="#e6e6e6" stroke-width="0.5" /><line x1="228.4" y1="279.7" x2="228.4" y2="362" stroke="#dcdcdc" stroke-width="0.6" /><line x1="228.4" y1="366.3" x2="228.4" y2="399.2" stroke="#e6e6e6" stroke-width="0.5" /><line x1="28.5" y1="348.0" x2="269.3" y2="348.0" stroke="#f0f0f0" stroke-width="0.5" /><line x1="28.5" y1="334.6" x2="269.3" y2="334.6" stroke="#f0f0f0" stroke-width="0.5" /><line x1="28.5" y1="321.2" x2="269.3" y2="321.2" stroke="#f0f0f0" stroke-width="0.5" /><line x1="28.5" y1="307.8" x2="269.3" y2="307.8" stroke="#f0f0f0" stroke-width="0.5" /><line x1="28.5" y1="294.4" x2="269.3" y2="294.4" stroke="#f0f0f0" stroke-width="0.5" /><rect x="28.3" y="279.7" width="241" height="82.6" fill="none" stroke="#b0b0b0" stroke-width="0.7"/><line x1="28.3" y1="279.5" x2="28.3" y2="362.3" stroke="#555" stroke-width="0.8" /><line x1="24.8" y1="361.4" x2="28.3" y2="361.4" stroke="#333" stroke-width="0.8" /><text x="22.6" y="363.9" font-size="7.0" text-anchor="end" fill="#333" font-weight="normal" >0</text><line x1="24.8" y1="348.0" x2="28.3" y2="348.0" stroke="#333" stroke-width="0.8" /><text x="22.6" y="350.5" font-size="7.0" text-anchor="end" fill="#333" font-weight="normal" >1</text><line x1="24.8" y1="334.6" x2="28.3" y2="334.6" stroke="#333" stroke-width="0.8" /><text x="22.6" y="337.1" font-size="7.0" text-anchor="end" fill="#333" font-weight="normal" >2</text><line x1="24.8" y1="321.2" x2="28.3" y2="321.2" stroke="#333" stroke-width="0.8" /><text x="22.6" y="323.7" font-size="7.0" text-anchor="end" fill="#333" font-weight="normal" >3</text><line x1="24.8" y1="307.8" x2="28.3" y2="307.8" stroke="#333" stroke-width="0.8" /><text x="22.6" y="310.3" font-size="7.0" text-anchor="end" fill="#333" font-weight="normal" >4</text><line x1="24.8" y1="294.4" x2="28.3" y2="294.4" stroke="#333" stroke-width="0.8" /><text x="22.6" y="296.9" font-size="7.0" text-anchor="end" fill="#333" font-weight="normal" >5</text><line x1="24.8" y1="281.0" x2="28.3" y2="281.0" stroke="#333" stroke-width="0.8" /><text x="22.6" y="283.5" font-size="7.0" text-anchor="end" fill="#333" font-weight="normal" >6</text><text transform="translate(14.4,321.4) rotate(-90)" font-size="8.8" text-anchor="middle" fill="#333" textLength="29" lengthAdjust="spacingAndGlyphs">LOD score</text><path d="M28.8,319.9h1.5v1.0h-1.5zM30.0,320.0h1.5v1.0h-1.5zM31.4,319.9h1.5v1.0h-1.5zM32.7,320.1h1.5v1.0h-1.5zM33.4,319.9h1.5v1.0h-1.5zM34.5,319.9h1.5v1.0h-1.5zM35.2,320.2h1.5v1.0h-1.5zM36.4,320.2h1.5v1.0h-1.5zM37.2,320.0h1.5v1.0h-1.5zM37.8,320.1h1.5v1.0h-1.5zM39.8,320.4h1.5v1.0h-1.5zM40.9,320.2h1.5v1.0h-1.5zM42.2,320.5h1.5v1.0h-1.5zM43.5,320.3h1.5v1.0h-1.5zM44.3,320.3h1.5v1.0h-1.5zM45.1,320.3h1.5v1.0h-1.5zM46.2,320.4h1.5v1.0h-1.5zM47.5,320.5h1.5v1.0h-1.5zM48.5,320.4h1.5v1.0h-1.5zM49.9,320.7h1.5v1.0h-1.5zM51.1,320.7h1.5v1.0h-1.5zM52.0,320.5h1.5v1.0h-1.5zM52.7,320.8h1.5v1.0h-1.5zM53.4,320.9h1.5v1.0h-1.5zM54.8,320.7h1.5v1.0h-1.5zM55.8,320.7h1.5v1.0h-1.5zM57.0,321.0h1.5v1.0h-1.5zM57.6,320.8h1.5v1.0h-1.5zM58.5,321.0h1.5v1.0h-1.5zM59.4,321.0h1.5v1.0h-1.5zM60.2,320.9h1.5v1.0h-1.5zM60.9,321.0h1.5v1.0h-1.5zM62.3,320.9h1.5v1.0h-1.5zM63.7,321.1h1.5v1.0h-1.5zM64.5,321.2h1.5v1.0h-1.5zM65.4,321.0h1.5v1.0h-1.5zM66.8,321.2h1.5v1.0h-1.5zM68.0,321.3h1.5v1.0h-1.5zM69.4,321.4h1.5v1.0h-1.5zM70.1,321.2h1.5v1.0h-1.5zM71.3,321.3h1.5v1.0h-1.5zM72.7,321.6h1.5v1.0h-1.5zM73.7,321.5h1.5v1.0h-1.5zM74.7,321.4h1.5v1.0h-1.5zM75.4,321.6h1.5v1.0h-1.5zM76.8,321.5h1.5v1.0h-1.5zM77.6,321.5h1.5v1.0h-1.5zM78.9,321.6h1.5v1.0h-1.5zM80.1,321.7h1.5v1.0h-1.5zM81.2,321.7h1.5v1.0h-1.5zM82.4,321.7h1.5v1.0h-1.5zM83.6,321.7h1.5v1.0h-1.5zM85.0,321.9h1.5v1.0h-1.5zM85.6,321.8h1.5v1.0h-1.5zM86.7,322.0h1.5v1.0h-1.5zM87.8,321.9h1.5v1.0h-1.5zM88.9,322.1h1.5v1.0h-1.5zM89.8,322.1h1.5v1.0h-1.5zM92.3,322.1h1.5v1.0h-1.5zM93.1,322.3h1.5v1.0h-1.5zM94.1,322.2h1.5v1.0h-1.5zM95.2,322.3h1.5v1.0h-1.5zM96.3,322.2h1.5v1.0h-1.5zM97.4,322.3h1.5v1.0h-1.5zM98.6,322.2h1.5v1.0h-1.5zM99.5,322.3h1.5v1.0h-1.5zM100.7,322.3h1.5v1.0h-1.5zM101.7,322.3h1.5v1.0h-1.5zM102.4,322.4h1.5v1.0h-1.5zM103.1,322.5h1.5v1.0h-1.5zM104.0,322.5h1.5v1.0h-1.5zM104.8,322.4h1.5v1.0h-1.5zM105.7,322.5h1.5v1.0h-1.5zM106.4,322.6h1.5v1.0h-1.5zM107.1,322.5h1.5v1.0h-1.5zM108.1,322.7h1.5v1.0h-1.5zM109.5,322.7h1.5v1.0h-1.5zM110.7,322.7h1.5v1.0h-1.5zM111.4,322.8h1.5v1.0h-1.5zM112.5,329.0h1.5v1.2h-1.5zM113.3,328.8h1.5v1.2h-1.5zM113.9,329.0h1.5v1.2h-1.5zM114.6,329.1h1.5v1.2h-1.5zM115.4,329.0h1.5v1.2h-1.5zM116.9,329.2h1.5v1.2h-1.5zM117.9,329.2h1.5v1.2h-1.5zM118.8,329.1h1.5v1.2h-1.5zM120.0,329.1h1.5v1.2h-1.5zM120.9,329.2h1.5v1.2h-1.5zM121.8,329.3h1.5v1.2h-1.5zM122.9,329.2h1.5v1.2h-1.5zM123.7,329.3h1.5v1.2h-1.5zM124.4,329.2h1.5v1.2h-1.5zM125.6,329.3h1.5v1.2h-1.5zM126.5,329.3h1.5v1.2h-1.5zM127.6,329.4h1.5v1.2h-1.5zM128.3,329.3h1.5v1.2h-1.5zM129.1,329.4h1.5v1.2h-1.5zM129.9,329.4h1.5v1.2h-1.5zM130.5,329.4h1.5v1.2h-1.5zM131.7,329.5h1.5v1.2h-1.5zM132.2,329.4h1.5v1.2h-1.5zM133.2,329.5h1.5v1.2h-1.5zM134.0,329.5h1.5v1.2h-1.5zM134.9,329.4h1.5v1.2h-1.5zM135.6,329.4h1.5v1.2h-1.5zM136.8,329.5h1.5v1.2h-1.5zM137.5,329.7h1.5v1.2h-1.5zM138.2,329.6h1.5v1.2h-1.5zM139.1,329.5h1.5v1.2h-1.5zM140.0,329.5h1.5v1.2h-1.5zM140.7,329.8h1.5v1.2h-1.5zM141.7,329.8h1.5v1.2h-1.5zM144.0,329.9h1.5v1.2h-1.5zM144.7,329.9h1.5v1.2h-1.5zM145.8,329.7h1.5v1.2h-1.5zM147.0,329.9h1.5v1.2h-1.5zM147.8,329.9h1.5v1.2h-1.5zM148.4,329.8h1.5v1.2h-1.5zM149.0,329.9h1.5v1.2h-1.5zM150.1,329.8h1.5v1.2h-1.5zM150.9,329.9h1.5v1.2h-1.5zM151.8,329.9h1.5v1.2h-1.5zM152.4,329.9h1.5v1.2h-1.5zM153.4,330.1h1.5v1.2h-1.5zM154.3,329.9h1.5v1.2h-1.5zM155.3,330.1h1.5v1.2h-1.5zM162.0,305.1h1.5v1.1h-1.5zM163.0,305.1h1.5v1.1h-1.5zM163.6,305.0h1.5v1.1h-1.5zM164.6,304.9h1.5v1.1h-1.5zM165.6,305.0h1.5v1.1h-1.5zM166.7,305.1h1.5v1.1h-1.5zM167.9,305.0h1.5v1.1h-1.5zM168.7,304.9h1.5v1.1h-1.5zM169.3,305.0h1.5v1.1h-1.5zM170.3,305.1h1.5v1.1h-1.5zM171.2,305.1h1.5v1.1h-1.5zM171.8,305.1h1.5v1.1h-1.5zM172.5,304.9h1.5v1.1h-1.5zM175.5,305.1h1.5v1.1h-1.5zM176.7,305.0h1.5v1.1h-1.5zM177.8,305.0h1.5v1.1h-1.5zM178.5,305.0h1.5v1.1h-1.5zM179.0,305.0h1.5v1.1h-1.5zM180.1,305.1h1.5v1.1h-1.5zM181.3,305.0h1.5v1.1h-1.5zM182.3,304.9h1.5v1.1h-1.5zM183.1,305.0h1.5v1.1h-1.5zM184.3,305.0h1.5v1.1h-1.5zM184.9,305.1h1.5v1.1h-1.5zM186.1,305.1h1.5v1.1h-1.5zM187.4,304.9h1.5v1.1h-1.5zM188.9,305.0h1.5v1.1h-1.5zM189.8,305.0h1.5v1.1h-1.5zM190.7,305.1h1.5v1.1h-1.5zM191.8,305.0h1.5v1.1h-1.5zM192.0,308.6h1.5v1.1h-1.5zM193.1,308.4h1.5v1.1h-1.5zM194.4,308.5h1.5v1.1h-1.5zM195.3,308.6h1.5v1.1h-1.5zM197.2,308.5h1.5v1.1h-1.5zM197.9,308.6h1.5v1.1h-1.5zM198.5,308.5h1.5v1.1h-1.5zM200.4,308.5h1.5v1.1h-1.5zM201.2,308.4h1.5v1.1h-1.5zM201.8,308.4h1.5v1.1h-1.5zM202.5,308.4h1.5v1.1h-1.5zM203.1,308.6h1.5v1.1h-1.5zM204.0,308.5h1.5v1.1h-1.5zM205.2,308.6h1.5v1.1h-1.5zM206.4,308.6h1.5v1.1h-1.5zM207.2,308.5h1.5v1.1h-1.5zM155.0,354.1h1.5v1.1h-1.5zM155.5,354.3h1.5v1.1h-1.5zM156.1,354.2h1.5v1.1h-1.5zM156.9,354.3h1.5v1.1h-1.5zM158.1,354.2h1.5v1.1h-1.5zM159.4,354.1h1.5v1.1h-1.5zM160.0,354.0h1.5v1.1h-1.5zM160.8,354.0h1.5v1.1h-1.5zM161.4,354.1h1.5v1.1h-1.5zM162.6,354.2h1.5v1.1h-1.5zM163.3,354.0h1.5v1.1h-1.5zM164.3,354.0h1.5v1.1h-1.5zM165.2,354.2h1.5v1.1h-1.5zM165.9,354.0h1.5v1.1h-1.5zM166.5,354.2h1.5v1.1h-1.5zM167.5,354.1h1.5v1.1h-1.5zM168.2,354.0h1.5v1.1h-1.5zM169.5,354.0h1.5v1.1h-1.5zM170.3,354.0h1.5v1.1h-1.5zM170.9,354.1h1.5v1.1h-1.5zM171.6,353.9h1.5v1.1h-1.5zM172.5,354.1h1.5v1.1h-1.5zM173.2,354.1h1.5v1.1h-1.5zM174.1,353.9h1.5v1.1h-1.5zM175.1,354.0h1.5v1.1h-1.5zM176.2,353.9h1.5v1.1h-1.5zM176.9,354.1h1.5v1.1h-1.5zM178.0,353.8h1.5v1.1h-1.5zM178.9,353.9h1.5v1.1h-1.5zM180.2,353.9h1.5v1.1h-1.5zM181.2,353.8h1.5v1.1h-1.5zM182.1,353.8h1.5v1.1h-1.5zM182.8,353.8h1.5v1.1h-1.5zM184.8,354.0h1.5v1.1h-1.5zM186.0,353.8h1.5v1.1h-1.5zM186.9,353.9h1.5v1.1h-1.5zM188.0,353.9h1.5v1.1h-1.5zM189.2,353.9h1.5v1.1h-1.5zM190.4,353.8h1.5v1.1h-1.5zM191.6,353.7h1.5v1.1h-1.5zM192.9,353.9h1.5v1.1h-1.5zM193.9,353.7h1.5v1.1h-1.5zM194.6,353.6h1.5v1.1h-1.5zM195.2,353.8h1.5v1.1h-1.5zM196.2,353.9h1.5v1.1h-1.5zM197.0,353.8h1.5v1.1h-1.5zM197.6,353.8h1.5v1.1h-1.5zM198.3,353.8h1.5v1.1h-1.5zM198.9,353.8h1.5v1.1h-1.5zM199.8,353.6h1.5v1.1h-1.5zM201.0,353.6h1.5v1.1h-1.5zM202.1,353.5h1.5v1.1h-1.5zM203.1,353.7h1.5v1.1h-1.5zM203.8,353.6h1.5v1.1h-1.5zM204.9,353.6h1.5v1.1h-1.5zM205.6,353.5h1.5v1.1h-1.5zM206.5,353.7h1.5v1.1h-1.5zM207.1,353.7h1.5v1.1h-1.5zM209.7,303.6h1.5v1.1h-1.5zM210.7,303.6h1.5v1.1h-1.5zM211.6,303.5h1.5v1.1h-1.5zM212.4,303.7h1.5v1.1h-1.5zM213.6,303.7h1.5v1.1h-1.5zM214.9,303.6h1.5v1.1h-1.5zM215.4,303.7h1.5v1.1h-1.5zM216.2,303.5h1.5v1.1h-1.5zM217.4,303.6h1.5v1.1h-1.5zM218.1,303.7h1.5v1.1h-1.5zM219.0,303.6h1.5v1.1h-1.5zM218.0,307.9h1.5v1.1h-1.5zM218.6,307.9h1.5v1.1h-1.5zM219.2,307.8h1.5v1.1h-1.5zM219.9,307.9h1.5v1.1h-1.5zM220.7,307.9h1.5v1.1h-1.5zM221.4,307.8h1.5v1.1h-1.5zM222.5,307.9h1.5v1.1h-1.5zM223.7,307.7h1.5v1.1h-1.5zM225.0,307.9h1.5v1.1h-1.5zM227.1,307.9h1.5v1.1h-1.5zM228.1,307.9h1.5v1.1h-1.5zM229.5,307.9h1.5v1.1h-1.5zM230.7,307.7h1.5v1.1h-1.5zM234.6,307.9h1.5v1.1h-1.5zM235.3,307.9h1.5v1.1h-1.5zM236.3,307.9h1.5v1.1h-1.5zM238.5,307.7h1.5v1.1h-1.5zM239.8,307.7h1.5v1.1h-1.5zM241.0,307.8h1.5v1.1h-1.5zM241.7,307.8h1.5v1.1h-1.5zM242.9,307.9h1.5v1.1h-1.5zM244.2,307.7h1.5v1.1h-1.5zM245.4,307.7h1.5v1.1h-1.5zM248.2,307.8h1.5v1.1h-1.5zM248.8,307.9h1.5v1.1h-1.5zM249.9,307.7h1.5v1.1h-1.5zM250.6,307.7h1.5v1.1h-1.5zM252.1,307.8h1.5v1.1h-1.5zM253.0,307.8h1.5v1.1h-1.5zM254.0,307.8h1.5v1.1h-1.5zM255.4,307.8h1.5v1.1h-1.5zM256.3,307.8h1.5v1.1h-1.5zM258.2,307.9h1.5v1.1h-1.5zM258.8,307.8h1.5v1.1h-1.5zM259.8,307.7h1.5v1.1h-1.5zM260.4,307.9h1.5v1.1h-1.5zM262.4,307.8h1.5v1.1h-1.5zM263.6,307.9h1.5v1.1h-1.5zM264.8,307.9h1.5v1.1h-1.5zM265.9,307.8h1.5v1.1h-1.5zM266.7,307.9h1.5v1.1h-1.5zM267.5,307.8h1.5v1.1h-1.5zM209.7,318.2h1.5v1.1h-1.5zM210.7,318.2h1.5v1.1h-1.5zM213.0,318.1h1.5v1.1h-1.5zM213.9,318.2h1.5v1.1h-1.5zM214.5,318.1h1.5v1.1h-1.5zM215.1,318.2h1.5v1.1h-1.5zM216.2,318.3h1.5v1.1h-1.5zM217.9,318.1h1.5v1.1h-1.5zM219.0,318.3h1.5v1.1h-1.5zM219.4,321.9h1.5v1.2h-1.5zM220.5,322.0h1.5v1.2h-1.5zM221.6,322.3h1.5v1.2h-1.5zM222.7,322.3h1.5v1.2h-1.5zM223.7,322.4h1.5v1.2h-1.5zM224.8,322.5h1.5v1.2h-1.5zM225.3,322.5h1.5v1.2h-1.5zM226.2,322.5h1.5v1.2h-1.5zM227.0,322.7h1.5v1.2h-1.5zM227.5,322.7h1.5v1.2h-1.5zM228.2,322.8h1.5v1.2h-1.5zM229.0,322.8h1.5v1.2h-1.5zM229.8,322.9h1.5v1.2h-1.5zM230.4,322.9h1.5v1.2h-1.5zM231.4,323.0h1.5v1.2h-1.5zM232.1,323.2h1.5v1.2h-1.5zM234.1,323.4h1.5v1.2h-1.5zM234.9,323.4h1.5v1.2h-1.5zM237.0,323.6h1.5v1.2h-1.5zM237.9,323.7h1.5v1.2h-1.5zM238.4,323.8h1.5v1.2h-1.5zM239.5,323.8h1.5v1.2h-1.5zM240.3,324.0h1.5v1.2h-1.5zM241.2,324.0h1.5v1.2h-1.5zM242.2,324.0h1.5v1.2h-1.5zM243.1,324.1h1.5v1.2h-1.5zM243.7,324.2h1.5v1.2h-1.5zM244.3,324.3h1.5v1.2h-1.5zM244.8,324.4h1.5v1.2h-1.5zM245.3,324.3h1.5v1.2h-1.5zM246.4,324.5h1.5v1.2h-1.5zM247.4,324.6h1.5v1.2h-1.5zM248.3,324.6h1.5v1.2h-1.5zM248.9,324.6h1.5v1.2h-1.5zM249.9,324.8h1.5v1.2h-1.5zM250.8,324.9h1.5v1.2h-1.5zM251.8,324.9h1.5v1.2h-1.5zM252.5,324.9h1.5v1.2h-1.5zM253.4,325.0h1.5v1.2h-1.5zM254.5,325.2h1.5v1.2h-1.5zM255.2,325.1h1.5v1.2h-1.5zM256.3,325.2h1.5v1.2h-1.5zM257.2,325.3h1.5v1.2h-1.5zM257.9,325.4h1.5v1.2h-1.5zM258.6,325.5h1.5v1.2h-1.5zM259.6,325.7h1.5v1.2h-1.5zM260.6,325.6h1.5v1.2h-1.5zM261.6,325.8h1.5v1.2h-1.5zM262.7,325.9h1.5v1.2h-1.5zM263.7,325.9h1.5v1.2h-1.5zM264.3,326.1h1.5v1.2h-1.5zM265.1,326.1h1.5v1.2h-1.5zM266.1,326.2h1.5v1.2h-1.5zM266.8,326.3h1.5v1.2h-1.5zM267.6,326.3h1.5v1.2h-1.5zM201.0,342.4h1.5v1.1h-1.5zM201.7,342.3h1.5v1.1h-1.5zM202.7,342.4h1.5v1.1h-1.5zM205.4,342.4h1.5v1.1h-1.5zM206.5,342.3h1.5v1.1h-1.5zM207.6,342.4h1.5v1.1h-1.5zM208.5,342.4h1.5v1.1h-1.5zM209.4,342.5h1.5v1.1h-1.5zM210.6,342.5h1.5v1.1h-1.5zM211.8,342.3h1.5v1.1h-1.5zM212.6,342.3h1.5v1.1h-1.5zM215.7,342.5h1.5v1.1h-1.5zM216.5,342.5h1.5v1.1h-1.5zM218.2,342.4h1.5v1.1h-1.5zM219.5,342.3h1.5v1.1h-1.5zM220.6,342.3h1.5v1.1h-1.5zM221.3,342.4h1.5v1.1h-1.5zM222.6,342.3h1.5v1.1h-1.5zM223.8,342.4h1.5v1.1h-1.5zM224.6,342.4h1.5v1.1h-1.5zM225.2,342.5h1.5v1.1h-1.5zM226.0,342.4h1.5v1.1h-1.5zM226.6,342.3h1.5v1.1h-1.5zM227.5,342.5h1.5v1.1h-1.5zM228.4,342.5h1.5v1.1h-1.5zM229.8,342.5h1.5v1.1h-1.5zM231.1,342.3h1.5v1.1h-1.5zM232.4,342.4h1.5v1.1h-1.5zM233.0,342.3h1.5v1.1h-1.5zM234.0,342.3h1.5v1.1h-1.5zM235.3,342.3h1.5v1.1h-1.5zM236.4,342.3h1.5v1.1h-1.5zM237.1,342.3h1.5v1.1h-1.5zM237.9,342.4h1.5v1.1h-1.5zM239.1,342.3h1.5v1.1h-1.5zM240.8,342.4h1.5v1.1h-1.5zM242.0,342.5h1.5v1.1h-1.5zM242.8,342.4h1.5v1.1h-1.5zM244.2,342.5h1.5v1.1h-1.5zM245.3,342.4h1.5v1.1h-1.5zM246.3,342.3h1.5v1.1h-1.5zM248.4,342.5h1.5v1.1h-1.5zM249.2,342.4h1.5v1.1h-1.5zM250.2,342.3h1.5v1.1h-1.5zM251.2,342.5h1.5v1.1h-1.5zM252.3,342.5h1.5v1.1h-1.5zM253.4,342.5h1.5v1.1h-1.5zM254.6,342.5h1.5v1.1h-1.5zM255.8,342.5h1.5v1.1h-1.5zM258.6,342.5h1.5v1.1h-1.5zM260.0,342.3h1.5v1.1h-1.5zM260.8,342.3h1.5v1.1h-1.5zM261.7,342.5h1.5v1.1h-1.5zM264.4,342.4h1.5v1.1h-1.5zM265.2,342.5h1.5v1.1h-1.5zM265.8,342.3h1.5v1.1h-1.5zM200.0,351.0h1.5v1.1h-1.5zM201.2,350.9h1.5v1.1h-1.5zM202.4,350.9h1.5v1.1h-1.5zM203.2,350.8h1.5v1.1h-1.5zM204.2,350.8h1.5v1.1h-1.5zM205.7,351.0h1.5v1.1h-1.5zM206.4,350.8h1.5v1.1h-1.5zM207.0,350.9h1.5v1.1h-1.5zM208.2,350.9h1.5v1.1h-1.5zM209.3,351.0h1.5v1.1h-1.5zM210.5,350.8h1.5v1.1h-1.5zM211.7,351.0h1.5v1.1h-1.5zM212.9,351.0h1.5v1.1h-1.5zM214.9,351.0h1.5v1.1h-1.5zM215.8,350.9h1.5v1.1h-1.5zM217.2,350.8h1.5v1.1h-1.5zM217.9,350.9h1.5v1.1h-1.5zM218.9,350.9h1.5v1.1h-1.5zM219.9,350.9h1.5v1.1h-1.5zM220.6,350.9h1.5v1.1h-1.5zM221.6,351.0h1.5v1.1h-1.5zM222.4,351.0h1.5v1.1h-1.5zM223.3,351.0h1.5v1.1h-1.5zM224.3,351.0h1.5v1.1h-1.5zM225.0,350.9h1.5v1.1h-1.5zM226.0,350.8h1.5v1.1h-1.5zM226.8,350.9h1.5v1.1h-1.5zM227.7,351.0h1.5v1.1h-1.5zM228.8,350.8h1.5v1.1h-1.5zM229.9,350.9h1.5v1.1h-1.5zM230.5,351.0h1.5v1.1h-1.5zM231.6,350.9h1.5v1.1h-1.5zM232.5,351.0h1.5v1.1h-1.5zM233.7,350.9h1.5v1.1h-1.5zM235.1,350.8h1.5v1.1h-1.5zM250.0,350.8h1.5v1.1h-1.5zM251.4,351.0h1.5v1.1h-1.5zM252.0,351.0h1.5v1.1h-1.5zM252.8,350.8h1.5v1.1h-1.5zM253.9,350.8h1.5v1.1h-1.5zM255.0,351.0h1.5v1.1h-1.5zM256.1,350.8h1.5v1.1h-1.5zM256.9,350.8h1.5v1.1h-1.5zM258.1,350.9h1.5v1.1h-1.5zM258.8,351.0h1.5v1.1h-1.5zM260.2,351.0h1.5v1.1h-1.5zM260.9,350.8h1.5v1.1h-1.5zM261.8,350.9h1.5v1.1h-1.5zM262.9,350.9h1.5v1.1h-1.5zM264.2,351.0h1.5v1.1h-1.5zM265.5,351.0h1.5v1.1h-1.5zM266.5,351.0h1.5v1.1h-1.5zM267.6,351.0h1.5v1.1h-1.5z" fill="#1a1a1a"/><path d="M34.0,310.4h0.9v0.9h-0.9zM43.7,310.5h0.9v0.9h-0.9zM46.0,310.5h0.9v0.9h-0.9zM52.2,310.6h0.9v0.9h-0.9zM56.7,310.7h0.9v0.9h-0.9zM60.7,310.3h0.9v0.9h-0.9zM93.0,310.6h0.9v0.9h-0.9zM96.6,310.4h0.9v0.9h-0.9zM104.6,310.9h0.9v0.9h-0.9zM124.8,310.5h0.9v0.9h-0.9zM127.8,311.2h0.9v0.9h-0.9zM145.9,310.8h0.9v0.9h-0.9zM64.0,327.0h1.0v0.9h-1.0zM86.1,327.3h1.0v0.9h-1.0zM109.5,327.3h1.0v0.9h-1.0z" fill="#aaa"/><path d="M38.0,338.5h1.0v0.9h-1.0zM39.5,338.5h1.0v0.9h-1.0zM40.9,338.5h1.0v0.9h-1.0zM43.3,338.8h1.0v0.9h-1.0zM52.0,338.6h1.0v0.9h-1.0zM53.1,338.6h1.0v0.9h-1.0zM56.4,338.8h1.0v0.9h-1.0zM60.0,338.7h1.0v0.9h-1.0zM64.1,339.0h1.0v0.9h-1.0zM65.1,339.0h1.0v0.9h-1.0zM66.8,338.9h1.0v0.9h-1.0zM69.3,338.8h1.0v0.9h-1.0zM70.5,339.1h1.0v0.9h-1.0zM73.5,338.8h1.0v0.9h-1.0zM75.1,338.9h1.0v0.9h-1.0zM76.8,338.8h1.0v0.9h-1.0zM79.3,339.0h1.0v0.9h-1.0zM81.1,338.9h1.0v0.9h-1.0zM82.4,339.2h1.0v0.9h-1.0zM85.7,339.1h1.0v0.9h-1.0zM87.5,339.0h1.0v0.9h-1.0zM91.8,339.1h1.0v0.9h-1.0zM94.1,339.0h1.0v0.9h-1.0zM95.6,339.3h1.0v0.9h-1.0zM97.9,339.0h1.0v0.9h-1.0zM99.1,339.0h1.0v0.9h-1.0zM100.8,339.1h1.0v0.9h-1.0zM103.1,339.1h1.0v0.9h-1.0zM104.7,339.2h1.0v0.9h-1.0zM225.0,331.3h1.0v0.9h-1.0zM245.0,332.0h1.0v0.9h-1.0zM248.4,331.0h1.0v0.9h-1.0zM253.1,332.2h1.0v0.9h-1.0zM214.3,353.6h1.0v0.9h-1.0zM216.0,353.4h1.0v0.9h-1.0zM222.2,353.7h1.0v0.9h-1.0zM237.3,353.3h1.0v0.9h-1.0zM242.5,353.4h1.0v0.9h-1.0zM248.6,353.4h1.0v0.9h-1.0zM254.7,353.6h1.0v0.9h-1.0zM256.1,353.6h1.0v0.9h-1.0zM261.5,353.6h1.0v0.9h-1.0zM265.7,353.6h1.0v0.9h-1.0zM114.9,342.5h1.0v0.9h-1.0zM116.3,343.0h1.0v0.9h-1.0zM123.5,343.0h1.0v0.9h-1.0zM126.1,342.8h1.0v0.9h-1.0zM130.6,342.7h1.0v0.9h-1.0zM141.5,342.8h1.0v0.9h-1.0zM144.5,342.4h1.0v0.9h-1.0zM149.5,342.8h1.0v0.9h-1.0zM164.0,318.2h1.0v0.9h-1.0zM172.8,319.1h1.0v0.9h-1.0zM192.3,318.3h1.0v0.9h-1.0zM204.0,318.5h1.0v0.9h-1.0z" fill="#555"/><path d="M51.3,334.2h1.0v0.9h-1.0zM54.1,333.9h1.0v0.9h-1.0zM56.3,334.2h1.0v0.9h-1.0zM58.7,334.3h1.0v0.9h-1.0zM61.9,334.0h1.0v0.9h-1.0zM71.1,334.3h1.0v0.9h-1.0z" fill="#777"/><path d="M38.0,343.6h1.0v0.9h-1.0zM40.9,343.7h1.0v0.9h-1.0zM52.6,344.0h1.0v0.9h-1.0zM58.1,343.7h1.0v0.9h-1.0zM63.5,343.8h1.0v0.9h-1.0zM71.4,344.0h1.0v0.9h-1.0zM73.6,343.8h1.0v0.9h-1.0zM78.0,344.1h1.0v0.9h-1.0zM112.0,338.8h1.0v0.9h-1.0zM116.9,339.1h1.0v0.9h-1.0zM123.7,339.1h1.0v0.9h-1.0zM128.5,339.2h1.0v0.9h-1.0zM132.3,339.1h1.0v0.9h-1.0zM137.8,338.8h1.0v0.9h-1.0z" fill="#666"/><path d="M112.0,341.8h1.0v0.9h-1.0zM113.5,341.9h1.0v0.9h-1.0zM114.9,341.8h1.0v0.9h-1.0zM116.2,342.1h1.0v0.9h-1.0zM117.9,342.3h1.0v0.9h-1.0zM121.5,342.2h1.0v0.9h-1.0zM123.4,342.3h1.0v0.9h-1.0zM125.1,342.2h1.0v0.9h-1.0zM126.1,342.2h1.0v0.9h-1.0zM129.4,342.5h1.0v0.9h-1.0zM135.3,342.6h1.0v0.9h-1.0zM137.1,342.4h1.0v0.9h-1.0zM141.4,342.4h1.0v0.9h-1.0zM222.0,294.8h1.0v0.9h-1.0zM224.2,294.6h1.0v0.9h-1.0zM231.3,294.6h1.0v0.9h-1.0zM252.6,294.8h1.0v0.9h-1.0zM261.9,294.5h1.0v0.9h-1.0zM210.8,346.4h1.2v0.9h-1.2zM213.7,346.5h1.2v0.9h-1.2zM215.0,346.7h1.2v0.9h-1.2zM222.6,346.5h1.2v0.9h-1.2zM226.2,346.5h1.2v0.9h-1.2zM235.6,346.3h1.2v0.9h-1.2zM236.9,346.5h1.2v0.9h-1.2zM238.7,346.5h1.2v0.9h-1.2zM242.0,346.5h1.2v0.9h-1.2zM245.1,346.8h1.2v0.9h-1.2zM247.4,346.9h1.2v0.9h-1.2zM250.1,346.8h1.2v0.9h-1.2zM251.7,346.8h1.2v0.9h-1.2zM252.6,346.7h1.2v0.9h-1.2zM257.6,346.7h1.2v0.9h-1.2zM262.1,346.7h1.2v0.9h-1.2zM263.7,346.3h1.2v0.9h-1.2zM265.1,346.4h1.2v0.9h-1.2zM171.2,326.4h1.0v0.9h-1.0zM173.5,326.5h1.0v0.9h-1.0zM180.4,326.5h1.0v0.9h-1.0zM192.7,327.1h1.0v0.9h-1.0z" fill="#444"/><path d="M28.8,359.0h1.6v1.5h-1.6zM29.9,358.9h1.6v1.5h-1.6zM30.6,359.1h1.6v1.5h-1.6zM31.4,358.5h1.6v1.5h-1.6zM32.5,358.4h1.6v1.5h-1.6zM33.1,359.4h1.6v1.5h-1.6zM33.7,359.2h1.6v1.5h-1.6zM34.3,358.8h1.6v1.5h-1.6zM35.3,359.1h1.6v1.5h-1.6zM36.1,358.8h1.6v1.5h-1.6zM37.1,358.3h1.6v1.5h-1.6zM38.0,358.2h1.6v1.5h-1.6zM38.5,358.8h1.6v1.5h-1.6zM39.4,358.2h1.6v1.5h-1.6zM40.2,359.1h1.6v1.5h-1.6zM41.2,358.7h1.6v1.5h-1.6zM42.2,358.4h1.6v1.5h-1.6zM43.2,359.5h1.6v1.5h-1.6zM43.8,359.3h1.6v1.5h-1.6zM44.6,358.2h1.6v1.5h-1.6zM45.2,358.1h1.6v1.5h-1.6zM46.1,359.2h1.6v1.5h-1.6zM47.0,359.3h1.6v1.5h-1.6zM48.0,359.5h1.6v1.5h-1.6zM48.9,358.0h1.6v1.5h-1.6zM49.4,358.2h1.6v1.5h-1.6zM50.1,359.0h1.6v1.5h-1.6zM51.1,358.5h1.6v1.5h-1.6zM51.9,358.0h1.6v1.5h-1.6zM52.8,359.1h1.6v1.5h-1.6zM53.6,359.5h1.6v1.5h-1.6zM54.1,359.1h1.6v1.5h-1.6zM54.8,358.7h1.6v1.5h-1.6zM55.5,359.5h1.6v1.5h-1.6zM56.2,358.7h1.6v1.5h-1.6zM57.1,358.9h1.6v1.5h-1.6zM57.8,359.3h1.6v1.5h-1.6zM58.6,358.6h1.6v1.5h-1.6zM59.2,358.0h1.6v1.5h-1.6zM59.9,358.7h1.6v1.5h-1.6zM61.0,358.5h1.6v1.5h-1.6zM62.1,358.5h1.6v1.5h-1.6zM63.1,359.2h1.6v1.5h-1.6zM63.8,358.3h1.6v1.5h-1.6zM64.6,358.8h1.6v1.5h-1.6zM65.1,359.6h1.6v1.5h-1.6zM65.8,358.0h1.6v1.5h-1.6zM66.5,359.1h1.6v1.5h-1.6zM67.3,358.5h1.6v1.5h-1.6zM68.3,358.9h1.6v1.5h-1.6zM69.3,359.0h1.6v1.5h-1.6zM69.8,359.2h1.6v1.5h-1.6zM70.6,359.3h1.6v1.5h-1.6zM71.6,359.6h1.6v1.5h-1.6zM72.6,358.1h1.6v1.5h-1.6zM73.6,359.6h1.6v1.5h-1.6zM74.7,358.6h1.6v1.5h-1.6zM75.4,358.3h1.6v1.5h-1.6zM76.3,358.1h1.6v1.5h-1.6zM77.0,358.5h1.6v1.5h-1.6zM78.1,358.2h1.6v1.5h-1.6zM78.6,359.5h1.6v1.5h-1.6zM79.4,358.2h1.6v1.5h-1.6zM80.5,357.9h1.6v1.5h-1.6zM81.1,358.3h1.6v1.5h-1.6zM82.1,359.2h1.6v1.5h-1.6zM82.7,359.6h1.6v1.5h-1.6zM83.6,358.0h1.6v1.5h-1.6zM84.5,358.5h1.6v1.5h-1.6zM85.3,359.6h1.6v1.5h-1.6zM85.9,358.3h1.6v1.5h-1.6zM86.7,358.1h1.6v1.5h-1.6zM87.5,357.8h1.6v1.5h-1.6zM88.5,358.7h1.6v1.5h-1.6zM89.4,357.9h1.6v1.5h-1.6zM90.2,358.5h1.6v1.5h-1.6zM90.9,358.4h1.6v1.5h-1.6zM91.6,359.5h1.6v1.5h-1.6zM92.3,359.1h1.6v1.5h-1.6zM93.4,359.6h1.6v1.5h-1.6zM94.1,359.5h1.6v1.5h-1.6zM94.6,359.1h1.6v1.5h-1.6zM95.4,359.5h1.6v1.5h-1.6zM96.1,359.3h1.6v1.5h-1.6zM96.7,358.7h1.6v1.5h-1.6zM97.5,358.6h1.6v1.5h-1.6zM98.0,358.4h1.6v1.5h-1.6zM98.6,358.3h1.6v1.5h-1.6zM99.3,359.2h1.6v1.5h-1.6zM99.9,358.9h1.6v1.5h-1.6zM100.7,358.3h1.6v1.5h-1.6zM101.3,358.6h1.6v1.5h-1.6zM102.4,358.1h1.6v1.5h-1.6zM102.9,358.8h1.6v1.5h-1.6zM103.4,359.3h1.6v1.5h-1.6zM104.1,357.9h1.6v1.5h-1.6zM105.0,359.1h1.6v1.5h-1.6zM105.9,358.2h1.6v1.5h-1.6zM107.0,357.9h1.6v1.5h-1.6zM107.9,357.9h1.6v1.5h-1.6zM108.7,359.4h1.6v1.5h-1.6zM109.6,359.0h1.6v1.5h-1.6zM110.6,359.2h1.6v1.5h-1.6zM111.3,357.8h1.6v1.5h-1.6zM112.2,359.4h1.6v1.5h-1.6zM113.0,358.2h1.6v1.5h-1.6zM113.7,358.2h1.6v1.5h-1.6zM114.2,358.0h1.6v1.5h-1.6zM114.9,359.0h1.6v1.5h-1.6zM115.5,358.7h1.6v1.5h-1.6zM116.5,358.9h1.6v1.5h-1.6zM117.5,358.3h1.6v1.5h-1.6zM118.3,359.4h1.6v1.5h-1.6zM119.2,358.6h1.6v1.5h-1.6zM120.1,358.3h1.6v1.5h-1.6zM120.7,358.5h1.6v1.5h-1.6zM121.7,359.0h1.6v1.5h-1.6zM122.6,358.0h1.6v1.5h-1.6zM123.6,358.0h1.6v1.5h-1.6zM124.5,358.9h1.6v1.5h-1.6zM125.0,358.5h1.6v1.5h-1.6zM125.9,358.3h1.6v1.5h-1.6zM126.6,358.0h1.6v1.5h-1.6zM127.1,358.6h1.6v1.5h-1.6zM128.2,358.4h1.6v1.5h-1.6zM128.8,359.2h1.6v1.5h-1.6zM129.8,358.0h1.6v1.5h-1.6zM130.6,357.9h1.6v1.5h-1.6zM131.4,358.0h1.6v1.5h-1.6zM132.2,359.5h1.6v1.5h-1.6zM133.0,359.2h1.6v1.5h-1.6zM133.6,358.0h1.6v1.5h-1.6zM134.7,358.6h1.6v1.5h-1.6zM135.3,359.6h1.6v1.5h-1.6zM136.1,358.7h1.6v1.5h-1.6zM137.1,359.0h1.6v1.5h-1.6zM138.2,359.3h1.6v1.5h-1.6zM139.0,357.9h1.6v1.5h-1.6zM140.1,358.6h1.6v1.5h-1.6zM141.2,358.7h1.6v1.5h-1.6zM141.8,358.3h1.6v1.5h-1.6zM142.6,358.9h1.6v1.5h-1.6zM143.2,359.1h1.6v1.5h-1.6zM144.1,359.6h1.6v1.5h-1.6zM144.7,358.0h1.6v1.5h-1.6zM145.5,359.4h1.6v1.5h-1.6zM146.0,358.0h1.6v1.5h-1.6zM146.9,358.5h1.6v1.5h-1.6zM147.4,358.0h1.6v1.5h-1.6zM148.4,358.9h1.6v1.5h-1.6zM149.3,359.4h1.6v1.5h-1.6zM150.3,358.4h1.6v1.5h-1.6zM151.4,358.6h1.6v1.5h-1.6zM152.1,358.1h1.6v1.5h-1.6zM153.0,359.1h1.6v1.5h-1.6zM153.5,358.4h1.6v1.5h-1.6zM154.5,358.6h1.6v1.5h-1.6zM155.5,358.4h1.6v1.5h-1.6zM156.5,359.1h1.6v1.5h-1.6zM157.4,358.1h1.6v1.5h-1.6zM158.2,359.2h1.6v1.5h-1.6zM159.1,357.9h1.6v1.5h-1.6zM160.0,358.0h1.6v1.5h-1.6zM160.6,359.4h1.6v1.5h-1.6zM161.2,359.0h1.6v1.5h-1.6zM161.9,358.2h1.6v1.5h-1.6zM162.6,359.0h1.6v1.5h-1.6zM163.4,358.7h1.6v1.5h-1.6zM164.2,359.1h1.6v1.5h-1.6zM164.9,359.2h1.6v1.5h-1.6zM165.7,357.9h1.6v1.5h-1.6zM166.3,358.1h1.6v1.5h-1.6zM166.8,359.2h1.6v1.5h-1.6zM167.4,358.6h1.6v1.5h-1.6zM168.4,358.8h1.6v1.5h-1.6zM168.9,359.2h1.6v1.5h-1.6zM169.8,358.9h1.6v1.5h-1.6zM170.7,358.9h1.6v1.5h-1.6zM171.2,359.6h1.6v1.5h-1.6zM171.8,358.4h1.6v1.5h-1.6zM172.3,358.0h1.6v1.5h-1.6zM173.0,358.6h1.6v1.5h-1.6zM173.6,358.5h1.6v1.5h-1.6zM174.2,359.4h1.6v1.5h-1.6zM175.1,358.5h1.6v1.5h-1.6zM175.9,357.9h1.6v1.5h-1.6zM176.7,359.1h1.6v1.5h-1.6zM177.7,359.2h1.6v1.5h-1.6zM178.8,359.2h1.6v1.5h-1.6zM179.5,359.0h1.6v1.5h-1.6zM180.5,358.6h1.6v1.5h-1.6zM181.1,358.3h1.6v1.5h-1.6zM182.1,358.2h1.6v1.5h-1.6zM182.9,358.5h1.6v1.5h-1.6zM183.4,358.5h1.6v1.5h-1.6zM184.0,357.8h1.6v1.5h-1.6zM184.6,358.0h1.6v1.5h-1.6zM185.1,359.5h1.6v1.5h-1.6zM186.1,359.5h1.6v1.5h-1.6zM186.6,357.8h1.6v1.5h-1.6zM187.1,359.2h1.6v1.5h-1.6zM187.9,358.6h1.6v1.5h-1.6zM189.0,358.8h1.6v1.5h-1.6zM189.6,358.6h1.6v1.5h-1.6zM190.6,358.4h1.6v1.5h-1.6zM191.6,358.8h1.6v1.5h-1.6zM192.2,358.9h1.6v1.5h-1.6zM192.7,358.6h1.6v1.5h-1.6zM193.4,359.2h1.6v1.5h-1.6zM194.1,358.0h1.6v1.5h-1.6zM194.9,359.0h1.6v1.5h-1.6zM196.0,357.9h1.6v1.5h-1.6zM196.8,358.6h1.6v1.5h-1.6zM197.4,358.6h1.6v1.5h-1.6zM197.9,358.3h1.6v1.5h-1.6zM198.5,358.4h1.6v1.5h-1.6zM199.6,358.0h1.6v1.5h-1.6zM200.3,358.0h1.6v1.5h-1.6zM201.0,359.0h1.6v1.5h-1.6zM201.8,359.4h1.6v1.5h-1.6zM202.5,358.6h1.6v1.5h-1.6zM203.5,358.2h1.6v1.5h-1.6zM204.2,359.3h1.6v1.5h-1.6zM205.0,358.7h1.6v1.5h-1.6zM206.0,358.6h1.6v1.5h-1.6zM206.9,358.5h1.6v1.5h-1.6zM207.7,358.6h1.6v1.5h-1.6zM208.7,358.5h1.6v1.5h-1.6zM209.6,358.1h1.6v1.5h-1.6zM210.3,357.9h1.6v1.5h-1.6zM210.9,359.4h1.6v1.5h-1.6zM211.4,358.9h1.6v1.5h-1.6zM212.1,357.9h1.6v1.5h-1.6zM212.8,358.4h1.6v1.5h-1.6zM213.8,359.4h1.6v1.5h-1.6zM214.8,359.3h1.6v1.5h-1.6zM215.4,358.4h1.6v1.5h-1.6zM216.3,359.4h1.6v1.5h-1.6zM217.0,359.5h1.6v1.5h-1.6zM218.1,359.4h1.6v1.5h-1.6zM219.2,359.2h1.6v1.5h-1.6zM220.1,358.3h1.6v1.5h-1.6zM220.7,359.5h1.6v1.5h-1.6zM221.5,358.9h1.6v1.5h-1.6zM222.2,358.6h1.6v1.5h-1.6zM222.9,359.3h1.6v1.5h-1.6zM223.8,358.7h1.6v1.5h-1.6zM224.6,359.4h1.6v1.5h-1.6zM225.6,358.4h1.6v1.5h-1.6zM226.5,359.5h1.6v1.5h-1.6zM227.0,358.3h1.6v1.5h-1.6zM227.8,358.2h1.6v1.5h-1.6zM228.9,358.2h1.6v1.5h-1.6zM229.7,358.0h1.6v1.5h-1.6zM231.0,357.9h1.6v1.5h-1.6zM232.5,359.3h1.6v1.5h-1.6zM233.5,358.1h1.6v1.5h-1.6zM234.1,358.1h1.6v1.5h-1.6zM235.1,357.8h1.6v1.5h-1.6zM235.7,359.4h1.6v1.5h-1.6zM236.7,359.5h1.6v1.5h-1.6zM237.5,358.9h1.6v1.5h-1.6zM238.2,358.3h1.6v1.5h-1.6zM238.9,358.0h1.6v1.5h-1.6zM239.6,359.5h1.6v1.5h-1.6zM240.4,359.2h1.6v1.5h-1.6zM241.2,358.5h1.6v1.5h-1.6zM241.9,359.4h1.6v1.5h-1.6zM242.9,358.1h1.6v1.5h-1.6zM243.4,358.2h1.6v1.5h-1.6zM243.9,358.2h1.6v1.5h-1.6zM244.5,358.9h1.6v1.5h-1.6zM245.1,358.2h1.6v1.5h-1.6zM246.2,358.9h1.6v1.5h-1.6zM247.1,358.7h1.6v1.5h-1.6zM248.2,359.1h1.6v1.5h-1.6zM248.7,358.7h1.6v1.5h-1.6zM249.5,359.2h1.6v1.5h-1.6zM250.2,358.8h1.6v1.5h-1.6zM251.3,358.8h1.6v1.5h-1.6zM252.1,358.4h1.6v1.5h-1.6zM252.8,358.9h1.6v1.5h-1.6zM253.7,358.6h1.6v1.5h-1.6zM254.5,358.0h1.6v1.5h-1.6zM255.6,358.7h1.6v1.5h-1.6zM256.3,358.3h1.6v1.5h-1.6zM256.8,359.5h1.6v1.5h-1.6zM257.4,359.1h1.6v1.5h-1.6zM258.3,358.2h1.6v1.5h-1.6zM258.9,358.6h1.6v1.5h-1.6zM259.6,358.7h1.6v1.5h-1.6zM260.1,359.1h1.6v1.5h-1.6zM260.9,359.2h1.6v1.5h-1.6zM262.0,357.9h1.6v1.5h-1.6zM262.8,358.4h1.6v1.5h-1.6zM263.7,358.9h1.6v1.5h-1.6zM264.6,359.5h1.6v1.5h-1.6zM265.5,359.1h1.6v1.5h-1.6zM266.2,358.9h1.6v1.5h-1.6zM266.7,358.2h1.6v1.5h-1.6zM267.5,359.1h1.6v1.5h-1.6z" fill="#111"/><path d="M28.8,360.8h1.6v1.0h-1.6zM30.1,360.9h1.6v1.0h-1.6zM31.3,360.9h1.6v1.0h-1.6zM32.3,360.9h1.6v1.0h-1.6zM33.5,360.7h1.6v1.0h-1.6zM34.4,361.0h1.6v1.0h-1.6zM35.6,360.5h1.6v1.0h-1.6zM37.6,360.6h1.6v1.0h-1.6zM38.7,360.8h1.6v1.0h-1.6zM39.7,360.9h1.6v1.0h-1.6zM41.0,360.7h1.6v1.0h-1.6zM42.0,360.5h1.6v1.0h-1.6zM43.2,360.7h1.6v1.0h-1.6zM43.8,361.0h1.6v1.0h-1.6zM44.5,360.9h1.6v1.0h-1.6zM45.2,360.8h1.6v1.0h-1.6zM46.4,360.6h1.6v1.0h-1.6zM47.1,360.4h1.6v1.0h-1.6zM47.8,360.6h1.6v1.0h-1.6zM49.6,360.6h1.6v1.0h-1.6zM50.6,360.5h1.6v1.0h-1.6zM51.6,360.5h1.6v1.0h-1.6zM52.7,360.7h1.6v1.0h-1.6zM53.8,361.0h1.6v1.0h-1.6zM55.1,360.7h1.6v1.0h-1.6zM55.6,361.0h1.6v1.0h-1.6zM56.7,360.9h1.6v1.0h-1.6zM57.2,360.7h1.6v1.0h-1.6zM60.0,360.5h1.6v1.0h-1.6zM60.9,360.7h1.6v1.0h-1.6zM62.5,360.9h1.6v1.0h-1.6zM63.2,360.5h1.6v1.0h-1.6zM64.9,360.8h1.6v1.0h-1.6zM65.9,360.7h1.6v1.0h-1.6zM66.6,360.5h1.6v1.0h-1.6zM67.4,360.8h1.6v1.0h-1.6zM68.2,360.6h1.6v1.0h-1.6zM69.1,360.9h1.6v1.0h-1.6zM70.0,360.5h1.6v1.0h-1.6zM71.2,360.6h1.6v1.0h-1.6zM72.2,361.0h1.6v1.0h-1.6zM73.4,360.5h1.6v1.0h-1.6zM74.3,360.8h1.6v1.0h-1.6zM75.0,360.5h1.6v1.0h-1.6zM75.9,360.7h1.6v1.0h-1.6zM78.0,360.5h1.6v1.0h-1.6zM79.2,360.7h1.6v1.0h-1.6zM80.4,361.0h1.6v1.0h-1.6zM83.4,360.6h1.6v1.0h-1.6zM85.4,360.6h1.6v1.0h-1.6zM86.2,360.6h1.6v1.0h-1.6zM87.1,360.6h1.6v1.0h-1.6zM88.9,361.0h1.6v1.0h-1.6zM89.5,360.5h1.6v1.0h-1.6zM90.1,360.9h1.6v1.0h-1.6zM91.1,360.9h1.6v1.0h-1.6zM92.0,360.6h1.6v1.0h-1.6zM92.6,361.0h1.6v1.0h-1.6zM93.8,360.7h1.6v1.0h-1.6zM94.6,360.7h1.6v1.0h-1.6zM95.2,361.0h1.6v1.0h-1.6zM95.8,360.6h1.6v1.0h-1.6zM96.8,360.6h1.6v1.0h-1.6zM97.6,360.7h1.6v1.0h-1.6zM98.4,360.7h1.6v1.0h-1.6zM99.7,360.9h1.6v1.0h-1.6zM100.9,360.8h1.6v1.0h-1.6zM102.0,360.5h1.6v1.0h-1.6zM102.8,360.4h1.6v1.0h-1.6zM103.9,360.6h1.6v1.0h-1.6zM104.4,360.8h1.6v1.0h-1.6zM105.2,360.8h1.6v1.0h-1.6zM106.4,360.6h1.6v1.0h-1.6zM107.7,360.8h1.6v1.0h-1.6zM108.7,361.0h1.6v1.0h-1.6zM109.6,360.5h1.6v1.0h-1.6zM110.8,360.8h1.6v1.0h-1.6zM111.9,360.6h1.6v1.0h-1.6zM113.6,360.8h1.6v1.0h-1.6zM114.7,360.5h1.6v1.0h-1.6zM115.3,360.8h1.6v1.0h-1.6zM116.5,360.9h1.6v1.0h-1.6zM117.8,360.7h1.6v1.0h-1.6zM118.7,360.9h1.6v1.0h-1.6zM119.6,361.0h1.6v1.0h-1.6zM120.5,360.8h1.6v1.0h-1.6zM121.5,360.5h1.6v1.0h-1.6zM122.1,360.6h1.6v1.0h-1.6zM122.8,360.9h1.6v1.0h-1.6zM123.8,360.5h1.6v1.0h-1.6zM124.9,360.8h1.6v1.0h-1.6zM126.0,360.4h1.6v1.0h-1.6zM126.9,360.8h1.6v1.0h-1.6zM128.2,360.9h1.6v1.0h-1.6zM129.0,360.6h1.6v1.0h-1.6zM129.7,360.8h1.6v1.0h-1.6zM130.9,360.7h1.6v1.0h-1.6zM132.0,360.7h1.6v1.0h-1.6zM132.7,360.7h1.6v1.0h-1.6zM133.2,360.6h1.6v1.0h-1.6zM134.3,360.7h1.6v1.0h-1.6zM135.4,360.6h1.6v1.0h-1.6zM136.5,360.7h1.6v1.0h-1.6zM137.7,360.8h1.6v1.0h-1.6zM138.8,360.5h1.6v1.0h-1.6zM140.0,361.0h1.6v1.0h-1.6zM140.7,360.8h1.6v1.0h-1.6zM142.0,360.7h1.6v1.0h-1.6zM142.6,360.5h1.6v1.0h-1.6zM143.8,360.5h1.6v1.0h-1.6zM145.0,360.9h1.6v1.0h-1.6zM145.8,360.7h1.6v1.0h-1.6zM147.0,361.0h1.6v1.0h-1.6zM148.2,360.6h1.6v1.0h-1.6zM150.2,360.8h1.6v1.0h-1.6zM151.5,360.5h1.6v1.0h-1.6zM152.1,360.5h1.6v1.0h-1.6zM152.7,360.6h1.6v1.0h-1.6zM153.6,360.8h1.6v1.0h-1.6zM154.6,360.8h1.6v1.0h-1.6zM155.5,360.8h1.6v1.0h-1.6zM156.5,360.9h1.6v1.0h-1.6zM157.1,360.9h1.6v1.0h-1.6zM158.3,361.0h1.6v1.0h-1.6zM159.3,360.9h1.6v1.0h-1.6zM160.1,360.9h1.6v1.0h-1.6zM161.1,360.6h1.6v1.0h-1.6zM162.8,361.0h1.6v1.0h-1.6zM164.0,360.5h1.6v1.0h-1.6zM165.1,360.7h1.6v1.0h-1.6zM166.1,360.8h1.6v1.0h-1.6zM166.8,360.8h1.6v1.0h-1.6zM167.7,360.5h1.6v1.0h-1.6zM168.9,360.6h1.6v1.0h-1.6zM169.5,361.0h1.6v1.0h-1.6zM170.3,361.0h1.6v1.0h-1.6zM171.3,360.7h1.6v1.0h-1.6zM172.0,360.6h1.6v1.0h-1.6zM172.6,360.7h1.6v1.0h-1.6zM173.4,360.5h1.6v1.0h-1.6zM174.0,360.5h1.6v1.0h-1.6zM174.9,360.9h1.6v1.0h-1.6zM175.7,361.0h1.6v1.0h-1.6zM176.9,361.0h1.6v1.0h-1.6zM177.8,360.7h1.6v1.0h-1.6zM178.7,360.9h1.6v1.0h-1.6zM179.5,360.9h1.6v1.0h-1.6zM180.3,360.6h1.6v1.0h-1.6zM181.2,360.8h1.6v1.0h-1.6zM181.7,361.0h1.6v1.0h-1.6zM183.0,360.8h1.6v1.0h-1.6zM185.0,360.7h1.6v1.0h-1.6zM186.3,360.8h1.6v1.0h-1.6zM187.0,360.7h1.6v1.0h-1.6zM190.1,360.6h1.6v1.0h-1.6zM191.2,360.6h1.6v1.0h-1.6zM191.8,360.5h1.6v1.0h-1.6zM192.5,360.5h1.6v1.0h-1.6zM193.1,360.5h1.6v1.0h-1.6zM194.3,361.0h1.6v1.0h-1.6zM195.3,360.6h1.6v1.0h-1.6zM196.2,360.7h1.6v1.0h-1.6zM197.4,360.9h1.6v1.0h-1.6zM198.3,360.6h1.6v1.0h-1.6zM199.3,360.6h1.6v1.0h-1.6zM200.0,360.7h1.6v1.0h-1.6zM201.8,360.6h1.6v1.0h-1.6zM202.8,360.7h1.6v1.0h-1.6zM203.3,361.0h1.6v1.0h-1.6zM204.5,360.7h1.6v1.0h-1.6zM205.5,360.5h1.6v1.0h-1.6zM206.4,360.5h1.6v1.0h-1.6zM207.3,360.8h1.6v1.0h-1.6zM208.0,360.8h1.6v1.0h-1.6zM209.0,360.7h1.6v1.0h-1.6zM209.8,361.0h1.6v1.0h-1.6zM210.6,360.8h1.6v1.0h-1.6zM211.6,360.6h1.6v1.0h-1.6zM212.8,360.8h1.6v1.0h-1.6zM213.6,360.7h1.6v1.0h-1.6zM214.3,361.0h1.6v1.0h-1.6zM214.8,360.9h1.6v1.0h-1.6zM215.7,360.9h1.6v1.0h-1.6zM216.9,360.9h1.6v1.0h-1.6zM218.7,360.8h1.6v1.0h-1.6zM219.3,360.9h1.6v1.0h-1.6zM220.0,361.0h1.6v1.0h-1.6zM221.2,360.5h1.6v1.0h-1.6zM223.3,360.7h1.6v1.0h-1.6zM225.2,360.5h1.6v1.0h-1.6zM226.5,361.0h1.6v1.0h-1.6zM227.1,360.8h1.6v1.0h-1.6zM227.9,360.6h1.6v1.0h-1.6zM229.0,360.9h1.6v1.0h-1.6zM229.9,360.7h1.6v1.0h-1.6zM230.8,360.7h1.6v1.0h-1.6zM232.0,360.5h1.6v1.0h-1.6zM233.0,360.6h1.6v1.0h-1.6zM234.8,360.7h1.6v1.0h-1.6zM235.7,360.9h1.6v1.0h-1.6zM236.7,360.6h1.6v1.0h-1.6zM237.8,360.5h1.6v1.0h-1.6zM238.9,360.6h1.6v1.0h-1.6zM240.1,360.8h1.6v1.0h-1.6zM241.3,360.8h1.6v1.0h-1.6zM242.3,360.8h1.6v1.0h-1.6zM243.5,360.6h1.6v1.0h-1.6zM244.5,360.7h1.6v1.0h-1.6zM245.5,360.9h1.6v1.0h-1.6zM246.4,360.6h1.6v1.0h-1.6zM247.0,360.5h1.6v1.0h-1.6zM249.0,361.0h1.6v1.0h-1.6zM250.2,360.6h1.6v1.0h-1.6zM251.1,360.6h1.6v1.0h-1.6zM251.9,360.5h1.6v1.0h-1.6zM252.9,361.0h1.6v1.0h-1.6zM254.1,360.6h1.6v1.0h-1.6zM255.2,361.0h1.6v1.0h-1.6zM256.1,360.9h1.6v1.0h-1.6zM257.1,360.6h1.6v1.0h-1.6zM257.8,361.0h1.6v1.0h-1.6zM258.3,360.6h1.6v1.0h-1.6zM259.2,360.5h1.6v1.0h-1.6zM259.8,360.6h1.6v1.0h-1.6zM260.9,360.8h1.6v1.0h-1.6zM261.8,360.7h1.6v1.0h-1.6zM263.4,360.6h1.6v1.0h-1.6zM264.5,360.9h1.6v1.0h-1.6zM265.6,360.9h1.6v1.0h-1.6zM266.3,360.9h1.6v1.0h-1.6zM267.4,360.7h1.6v1.0h-1.6zM159.0,296.1h1.4v1.0h-1.4zM159.9,296.1h1.4v1.0h-1.4zM161.3,296.0h1.4v1.0h-1.4zM162.4,296.1h1.4v1.0h-1.4zM163.3,296.0h1.4v1.0h-1.4zM164.9,295.9h1.4v1.0h-1.4zM165.9,295.9h1.4v1.0h-1.4zM167.4,296.1h1.4v1.0h-1.4zM168.2,295.9h1.4v1.0h-1.4zM170.1,295.9h1.4v1.0h-1.4zM171.3,295.9h1.4v1.0h-1.4zM172.3,296.0h1.4v1.0h-1.4zM173.5,296.0h1.4v1.0h-1.4zM175.6,296.0h1.4v1.0h-1.4zM176.7,296.0h1.4v1.0h-1.4zM177.9,296.0h1.4v1.0h-1.4zM179.2,296.0h1.4v1.0h-1.4zM180.1,296.1h1.4v1.0h-1.4zM181.0,295.9h1.4v1.0h-1.4zM182.5,296.1h1.4v1.0h-1.4zM183.3,296.1h1.4v1.0h-1.4zM184.2,296.0h1.4v1.0h-1.4zM185.5,295.9h1.4v1.0h-1.4zM187.4,296.1h1.4v1.0h-1.4zM188.8,296.1h1.4v1.0h-1.4zM190.9,296.1h1.4v1.0h-1.4zM192.3,296.0h1.4v1.0h-1.4zM195.2,296.1h1.4v1.0h-1.4zM196.6,295.9h1.4v1.0h-1.4zM197.8,296.0h1.4v1.0h-1.4zM198.9,296.0h1.4v1.0h-1.4zM202.2,296.1h1.4v1.0h-1.4zM203.7,296.1h1.4v1.0h-1.4zM205.1,296.0h1.4v1.0h-1.4zM206.6,295.9h1.4v1.0h-1.4zM151.0,301.5h1.4v1.0h-1.4zM152.2,301.4h1.4v1.0h-1.4zM153.1,301.5h1.4v1.0h-1.4zM154.1,301.6h1.4v1.0h-1.4zM154.8,301.6h1.4v1.0h-1.4zM156.1,301.5h1.4v1.0h-1.4zM157.3,301.5h1.4v1.0h-1.4zM158.5,301.5h1.4v1.0h-1.4zM159.4,301.4h1.4v1.0h-1.4zM160.0,301.4h1.4v1.0h-1.4zM161.3,301.5h1.4v1.0h-1.4zM162.1,301.5h1.4v1.0h-1.4zM162.9,301.6h1.4v1.0h-1.4zM163.6,301.4h1.4v1.0h-1.4zM164.3,301.6h1.4v1.0h-1.4zM205.5,297.5h1.4v1.0h-1.4zM206.4,298.1h1.4v1.0h-1.4zM207.1,298.3h1.4v1.0h-1.4zM207.6,298.7h1.4v1.0h-1.4zM208.2,299.0h1.4v1.0h-1.4zM209.1,299.7h1.4v1.0h-1.4z" fill="#222"/><path d="M113.5,351.4h1.0v0.9h-1.0zM133.1,351.4h1.0v0.9h-1.0z" fill="#888"/><path d="M28.8,298.7h1.7v1.6h-1.7zM30.0,298.6h1.7v1.6h-1.7zM31.4,298.7h1.7v1.6h-1.7zM32.3,298.6h1.7v1.6h-1.7zM33.5,298.7h1.7v1.6h-1.7zM34.4,298.7h1.7v1.6h-1.7zM35.2,298.7h1.7v1.6h-1.7zM36.0,298.8h1.7v1.6h-1.7zM36.7,298.7h1.7v1.6h-1.7zM37.5,298.7h1.7v1.6h-1.7zM38.2,298.6h1.7v1.6h-1.7zM39.1,298.7h1.7v1.6h-1.7zM39.9,298.8h1.7v1.6h-1.7zM40.9,298.6h1.7v1.6h-1.7zM42.3,298.7h1.7v1.6h-1.7zM43.8,298.6h1.7v1.6h-1.7zM44.9,298.7h1.7v1.6h-1.7zM46.1,298.7h1.7v1.6h-1.7zM47.2,298.7h1.7v1.6h-1.7zM48.0,298.7h1.7v1.6h-1.7zM48.9,298.7h1.7v1.6h-1.7zM49.5,298.8h1.7v1.6h-1.7zM50.7,298.7h1.7v1.6h-1.7zM51.9,298.7h1.7v1.6h-1.7zM53.1,298.7h1.7v1.6h-1.7zM54.1,298.7h1.7v1.6h-1.7zM55.4,298.7h1.7v1.6h-1.7zM56.4,298.6h1.7v1.6h-1.7zM57.5,298.7h1.7v1.6h-1.7zM58.9,298.8h1.7v1.6h-1.7zM59.7,298.6h1.7v1.6h-1.7zM61.1,298.7h1.7v1.6h-1.7zM61.9,298.6h1.7v1.6h-1.7zM62.8,298.7h1.7v1.6h-1.7zM63.4,298.7h1.7v1.6h-1.7zM64.6,298.7h1.7v1.6h-1.7zM66.0,298.7h1.7v1.6h-1.7zM66.7,298.6h1.7v1.6h-1.7zM67.9,298.7h1.7v1.6h-1.7zM69.3,298.7h1.7v1.6h-1.7zM70.2,298.7h1.7v1.6h-1.7zM71.1,298.7h1.7v1.6h-1.7zM72.2,298.7h1.7v1.6h-1.7zM73.3,298.7h1.7v1.6h-1.7zM74.4,298.7h1.7v1.6h-1.7zM75.3,298.8h1.7v1.6h-1.7zM76.0,298.7h1.7v1.6h-1.7zM76.7,298.7h1.7v1.6h-1.7zM77.6,298.7h1.7v1.6h-1.7zM79.0,298.7h1.7v1.6h-1.7zM80.3,298.7h1.7v1.6h-1.7zM81.1,298.7h1.7v1.6h-1.7zM82.6,298.7h1.7v1.6h-1.7zM84.0,298.7h1.7v1.6h-1.7zM85.4,298.7h1.7v1.6h-1.7zM86.2,298.7h1.7v1.6h-1.7zM87.1,298.7h1.7v1.6h-1.7zM88.3,298.7h1.7v1.6h-1.7zM89.4,298.6h1.7v1.6h-1.7zM91.5,298.6h1.7v1.6h-1.7zM92.2,298.7h1.7v1.6h-1.7zM93.6,298.6h1.7v1.6h-1.7zM94.5,298.7h1.7v1.6h-1.7zM95.2,298.7h1.7v1.6h-1.7zM96.3,298.8h1.7v1.6h-1.7zM97.0,298.8h1.7v1.6h-1.7zM97.9,298.7h1.7v1.6h-1.7zM99.4,298.7h1.7v1.6h-1.7zM100.1,298.7h1.7v1.6h-1.7zM101.3,298.7h1.7v1.6h-1.7zM102.0,298.7h1.7v1.6h-1.7zM103.0,298.6h1.7v1.6h-1.7zM104.3,298.7h1.7v1.6h-1.7zM105.6,298.6h1.7v1.6h-1.7zM106.9,298.6h1.7v1.6h-1.7zM107.8,298.7h1.7v1.6h-1.7zM108.8,298.7h1.7v1.6h-1.7zM110.0,298.7h1.7v1.6h-1.7zM111.5,298.6h1.7v1.6h-1.7zM112.5,298.6h1.7v1.6h-1.7zM113.2,298.8h1.7v1.6h-1.7zM114.0,298.8h1.7v1.6h-1.7zM114.8,298.6h1.7v1.6h-1.7zM115.7,298.7h1.7v1.6h-1.7zM117.0,298.7h1.7v1.6h-1.7zM117.8,298.8h1.7v1.6h-1.7zM119.2,298.6h1.7v1.6h-1.7zM120.5,298.7h1.7v1.6h-1.7zM121.4,298.7h1.7v1.6h-1.7zM122.7,298.6h1.7v1.6h-1.7zM123.8,298.6h1.7v1.6h-1.7zM125.0,298.7h1.7v1.6h-1.7zM125.9,298.6h1.7v1.6h-1.7zM127.0,298.7h1.7v1.6h-1.7zM127.9,298.6h1.7v1.6h-1.7zM128.8,298.6h1.7v1.6h-1.7zM129.6,298.7h1.7v1.6h-1.7zM130.4,298.7h1.7v1.6h-1.7zM131.7,298.7h1.7v1.6h-1.7zM132.7,298.6h1.7v1.6h-1.7zM133.9,298.8h1.7v1.6h-1.7zM135.3,298.7h1.7v1.6h-1.7zM136.2,298.6h1.7v1.6h-1.7zM137.7,298.6h1.7v1.6h-1.7zM139.3,298.6h1.7v1.6h-1.7zM140.7,298.7h1.7v1.6h-1.7zM142.1,298.7h1.7v1.6h-1.7zM143.3,298.7h1.7v1.6h-1.7zM144.3,298.6h1.7v1.6h-1.7zM145.1,298.8h1.7v1.6h-1.7zM146.5,298.7h1.7v1.6h-1.7zM147.9,298.7h1.7v1.6h-1.7zM149.3,298.7h1.7v1.6h-1.7zM150.5,298.7h1.7v1.6h-1.7z" fill="#808080"/><path d="M164.4,307.4h1.3v1.0h-1.3zM165.9,307.6h1.3v1.0h-1.3zM171.5,307.4h1.3v1.0h-1.3zM173.5,307.6h1.3v1.0h-1.3zM178.2,307.4h1.3v1.0h-1.3zM179.1,307.6h1.3v1.0h-1.3zM180.6,307.5h1.3v1.0h-1.3zM181.7,307.4h1.3v1.0h-1.3zM184.3,307.4h1.3v1.0h-1.3zM185.9,307.5h1.3v1.0h-1.3zM188.8,307.6h1.3v1.0h-1.3zM189.7,307.4h1.3v1.0h-1.3zM193.1,307.5h1.3v1.0h-1.3zM195.6,307.6h1.3v1.0h-1.3zM197.1,307.6h1.3v1.0h-1.3zM199.2,307.4h1.3v1.0h-1.3zM203.3,307.4h1.3v1.0h-1.3zM204.1,307.4h1.3v1.0h-1.3zM205.7,307.6h1.3v1.0h-1.3zM206.9,307.4h1.3v1.0h-1.3zM155.0,347.5h1.2v0.9h-1.2zM156.1,347.4h1.2v0.9h-1.2zM157.6,347.2h1.2v0.9h-1.2zM159.4,347.3h1.2v0.9h-1.2zM161.2,347.3h1.2v0.9h-1.2zM166.3,347.2h1.2v0.9h-1.2zM173.2,347.4h1.2v0.9h-1.2zM176.4,347.1h1.2v0.9h-1.2zM181.5,347.4h1.2v0.9h-1.2zM185.1,347.5h1.2v0.9h-1.2zM187.3,347.4h1.2v0.9h-1.2zM193.8,347.3h1.2v0.9h-1.2zM195.2,347.3h1.2v0.9h-1.2zM197.3,347.2h1.2v0.9h-1.2zM200.2,347.4h1.2v0.9h-1.2zM201.7,347.5h1.2v0.9h-1.2zM202.9,347.1h1.2v0.9h-1.2zM203.9,347.2h1.2v0.9h-1.2zM204.9,347.5h1.2v0.9h-1.2zM206.4,347.3h1.2v0.9h-1.2zM218.9,313.8h1.3v1.0h-1.3zM220.8,313.8h1.3v1.0h-1.3zM221.7,314.2h1.3v1.0h-1.3zM223.3,314.0h1.3v1.0h-1.3zM225.1,313.9h1.3v1.0h-1.3zM227.6,314.2h1.3v1.0h-1.3zM232.0,313.9h1.3v1.0h-1.3zM233.3,314.0h1.3v1.0h-1.3zM236.1,314.1h1.3v1.0h-1.3zM237.0,314.1h1.3v1.0h-1.3zM239.1,313.9h1.3v1.0h-1.3zM240.7,313.9h1.3v1.0h-1.3zM241.6,313.9h1.3v1.0h-1.3zM243.9,314.0h1.3v1.0h-1.3zM248.0,313.9h1.3v1.0h-1.3zM251.0,313.9h1.3v1.0h-1.3zM252.7,314.0h1.3v1.0h-1.3zM259.6,314.1h1.3v1.0h-1.3zM264.9,314.2h1.3v1.0h-1.3zM267.2,314.2h1.3v1.0h-1.3zM213.7,286.7h1.0v0.9h-1.0z" fill="#333"/><rect x="29.3" y="366.3" width="239.9" height="32.9" fill="none" stroke="#9a9a9a" stroke-width="0.7"/><rect x="32.5" y="367.5" width="11.8" height="5.7" fill="#6a6a6a" /><text x="46" y="372.4" font-size="4.6" text-anchor="start" fill="#333" font-weight="normal" >Septin8</text><line x1="39" y1="375.4" x2="47.5" y2="375.4" stroke="#aaa" stroke-width="0.8" /><path d="M47.5,375.4 l-2,-1.2 v2.4 Z" fill="#aaa"/><rect x="66.3" y="367.5" width="5.7" height="5.7" fill="#6a6a6a" /><text x="74" y="372.4" font-size="4.6" text-anchor="start" fill="#333" font-weight="normal" >Il4</text><line x1="67" y1="375.4" x2="75" y2="375.4" stroke="#333" stroke-width="0.8" /><path d="M75,375.4 l-2,-1.2 v2.4 Z" fill="#333"/><text x="84.5" y="372.4" font-size="4.6" text-anchor="start" fill="#333" font-weight="normal" >Rps2-ps4</text><line x1="86" y1="375.2" x2="93" y2="375.2" stroke="#333" stroke-width="0.8" /><path d="M93,375.2 l-2,-1.2 v2.4 Z" fill="#333"/><text x="107.2" y="372.4" font-size="4.6" text-anchor="start" fill="#333" font-weight="normal" >7SK</text><text x="131" y="372.4" font-size="4.6" text-anchor="start" fill="#333" font-weight="normal" >Mir7671</text><line x1="127" y1="375.2" x2="134" y2="375.2" stroke="#333" stroke-width="0.8" /><path d="M127,375.2 l2,-1.2 v2.4 Z" fill="#333"/><line x1="51.2" y1="376" x2="51.2" y2="382" stroke="#333" stroke-width="0.9" /><text x="53.3" y="380.8" font-size="4.4" text-anchor="start" fill="#333" font-weight="normal" >A430108G06Rik</text><rect x="85" y="375.8" width="23.2" height="5.6" fill="#6a6a6a" /><text x="110" y="380.8" font-size="4.6" text-anchor="start" fill="#333" font-weight="normal" >Rad50</text><line x1="97" y1="383.6" x2="105" y2="383.6" stroke="#333" stroke-width="0.8" /><path d="M97,383.6 l2,-1.2 v2.4 Z" fill="#333"/><rect x="133.2" y="375.3" width="2.4" height="5.9" fill="#6a6a6a" /><text x="136.4" y="381.2" font-size="4.6" text-anchor="start" fill="#333" font-weight="normal" >Irf1</text><line x1="135" y1="383.3" x2="143" y2="383.3" stroke="#333" stroke-width="0.8" /><path d="M143,383.3 l-2,-1.2 v2.4 Z" fill="#333"/><rect x="52" y="383.8" width="13.5" height="6.3" fill="#6a6a6a" /><text x="66.8" y="389.2" font-size="4.6" text-anchor="start" fill="#333" font-weight="normal" >Kif3a</text><line x1="55" y1="392.2" x2="63" y2="392.2" stroke="#aaa" stroke-width="0.8" /><path d="M63,392.2 l-2,-1.2 v2.4 Z" fill="#aaa"/><line x1="113.6" y1="384" x2="113.6" y2="390" stroke="#333" stroke-width="0.9" /><text x="116" y="388.6" font-size="4.6" text-anchor="start" fill="#333" font-weight="normal" >Il5</text><line x1="114" y1="391.2" x2="122" y2="391.2" stroke="#333" stroke-width="0.8" /><path d="M122,391.2 l-2,-1.2 v2.4 Z" fill="#333"/><line x1="77.5" y1="392" x2="77.5" y2="399.2" stroke="#333" stroke-width="0.9" /><text x="79.6" y="397" font-size="4.6" text-anchor="start" fill="#333" font-weight="normal" >Il13</text><line x1="80" y1="390.2" x2="88" y2="390.2" stroke="#333" stroke-width="0.8" /><path d="M88,390.2 l-2,-1.2 v2.4 Z" fill="#333"/><rect x="171.3" y="367.1" width="10.0" height="6.1" fill="#e8141e" /><text x="183" y="372.4" font-size="4.4" text-anchor="start" fill="#e23340" font-weight="normal" >Slc22a5 ←</text><line x1="175" y1="378.2" x2="184" y2="378.2" stroke="#e8141e" stroke-width="0.8" /><path d="M175,378.2 l2,-1.2 v2.4 Z" fill="#e8141e"/><text x="167" y="385.8" font-size="7.6" text-anchor="start" fill="#d6202e" font-weight="normal" textLength="26.8" lengthAdjust="spacingAndGlyphs" >SLC22A5</text><rect x="205.5" y="367.1" width="10.8" height="6.1" fill="#6a6a6a" /><text x="220" y="372.4" font-size="4.6" text-anchor="start" fill="#333" font-weight="normal" >SLC22A21</text><line x1="207" y1="375.6" x2="222" y2="375.6" stroke="#222" stroke-width="0.8" /><path d="M207,375.6 l2,-1.2 v2.4 Z" fill="#222"/><rect x="219" y="375.3" width="17.7" height="6.3" fill="#6a6a6a" /><line x1="225.5" y1="383.7" x2="235" y2="383.7" stroke="#e8141e" stroke-width="0.8" /><path d="M225.5,383.7 l2,-1.2 v2.4 Z" fill="#e8141e"/><text x="218" y="391.5" font-size="7.6" text-anchor="start" fill="#d6202e" font-weight="normal" textLength="25.8" lengthAdjust="spacingAndGlyphs" >SLC22A4</text><rect x="247.9" y="367.0" width="4.6" height="6.3" fill="#6a6a6a" /><text x="254.8" y="371.8" font-size="4.6" text-anchor="start" fill="#333" font-weight="normal" >Pdlim4</text><line x1="254.5" y1="374.0" x2="263" y2="374.0" stroke="#222" stroke-width="0.8" /><path d="M254.5,374.0 l2,-1.2 v2.4 Z" fill="#222"/><rect x="265" y="376" width="3.2" height="6.1" fill="#6a6a6a" /><line x1="68.75" y1="399.2" x2="68.75" y2="401.8" stroke="#444" stroke-width="0.8" /><text x="68.75" y="410.8" font-size="6.8" text-anchor="middle" fill="#333" font-weight="normal" >53.5</text><line x1="108.2" y1="399.2" x2="108.2" y2="401.8" stroke="#444" stroke-width="0.8" /><text x="108.2" y="410.8" font-size="6.8" text-anchor="middle" fill="#333" font-weight="normal" >53.6</text><line x1="148.4" y1="399.2" x2="148.4" y2="401.8" stroke="#444" stroke-width="0.8" /><text x="148.4" y="410.8" font-size="6.8" text-anchor="middle" fill="#333" font-weight="normal" >53.7</text><line x1="188.2" y1="399.2" x2="188.2" y2="401.8" stroke="#444" stroke-width="0.8" /><text x="188.2" y="410.8" font-size="6.8" text-anchor="middle" fill="#333" font-weight="normal" >53.8</text><line x1="228.4" y1="399.2" x2="228.4" y2="401.8" stroke="#444" stroke-width="0.8" /><text x="228.4" y="410.8" font-size="6.8" text-anchor="middle" fill="#333" font-weight="normal" >53.9</text><text x="101" y="422.5" font-size="8.0" text-anchor="start" fill="#333" font-weight="normal" textLength="94" lengthAdjust="spacingAndGlyphs" >Chromosome 11 position (Mbp)</text><text x="276.0" y="234.9" font-size="11.2" font-weight="bold" fill="#000" stroke="#000" stroke-width="0.35" textLength="6.3" lengthAdjust="spacingAndGlyphs">E</text><text x="341.3" y="232.4" font-size="8.6" text-anchor="start" fill="#333" font-weight="normal" textLength="111.4" lengthAdjust="spacingAndGlyphs" >SLC22a5 Locus QTL in stored</text><text x="308.7" y="241.2" font-size="8.6" text-anchor="start" fill="#333" font-weight="normal" textLength="177.3" lengthAdjust="spacingAndGlyphs" >RBCs (n = 525) – Acyl-Carnitines (AC) mapping</text><rect x="275.3" y="246.4" width="236.0" height="14.0" fill="#1c4b8c" /><rect x="275.3" y="260.4" width="9.0" height="125.8" fill="#2f9fdb" /><text x="298" y="256.6" font-size="7.0" text-anchor="middle" fill="#c6e2f6" font-weight="normal" textLength="30.9" lengthAdjust="spacingAndGlyphs" >Metabolite</text><text x="322.7" y="256.6" font-size="7.0" text-anchor="middle" fill="#c6e2f6" font-weight="normal" textLength="10" lengthAdjust="spacingAndGlyphs" >Chr</text><text x="372.5" y="256.6" font-size="7.0" text-anchor="middle" fill="#c6e2f6" font-weight="normal" textLength="6.5" lengthAdjust="spacingAndGlyphs" >AJ</text><text x="392.5" y="256.6" font-size="7.0" text-anchor="middle" fill="#c6e2f6" font-weight="normal" textLength="7.2" lengthAdjust="spacingAndGlyphs" >B6</text><text x="411.3" y="256.6" font-size="7.0" text-anchor="middle" fill="#c6e2f6" font-weight="normal" textLength="14.5" lengthAdjust="spacingAndGlyphs" >129S</text><text x="428.8" y="256.6" font-size="7.0" text-anchor="middle" fill="#c6e2f6" font-weight="normal" textLength="13.8" lengthAdjust="spacingAndGlyphs" >NOD</text><text x="448" y="256.6" font-size="7.0" text-anchor="middle" fill="#c6e2f6" font-weight="normal" textLength="13.3" lengthAdjust="spacingAndGlyphs" >NZO</text><text x="466.3" y="256.6" font-size="7.0" text-anchor="middle" fill="#c6e2f6" font-weight="normal" textLength="16.2" lengthAdjust="spacingAndGlyphs" >CAST</text><text x="485.5" y="256.6" font-size="7.0" text-anchor="middle" fill="#c6e2f6" font-weight="normal" textLength="14" lengthAdjust="spacingAndGlyphs" >PWK</text><text x="503" y="256.6" font-size="7.0" text-anchor="middle" fill="#c6e2f6" font-weight="normal" textLength="14" lengthAdjust="spacingAndGlyphs" >WSB</text><text x="338.5" y="252.8" font-size="6.8" text-anchor="middle" fill="#c6e2f6" font-weight="normal" textLength="10.5" lengthAdjust="spacingAndGlyphs" >Pos</text><text x="338.5" y="258.9" font-size="6.8" text-anchor="middle" fill="#c6e2f6" font-weight="normal" textLength="16.5" lengthAdjust="spacingAndGlyphs" >(Mbp)</text><text x="357.5" y="252.8" font-size="6.8" text-anchor="middle" fill="#c6e2f6" font-weight="normal" textLength="13" lengthAdjust="spacingAndGlyphs" >LOD</text><text x="357.8" y="258.9" font-size="6.8" text-anchor="middle" fill="#c6e2f6" font-weight="normal" textLength="15" lengthAdjust="spacingAndGlyphs" >score</text><text x="279.8" y="268.3" font-size="7.6" text-anchor="middle" fill="#eef7fd" font-weight="normal" textLength="3.6" lengthAdjust="spacingAndGlyphs" >1</text><text x="286.2" y="268.05" font-size="7.0" text-anchor="start" fill="#333" font-weight="normal" textLength="24.65" lengthAdjust="spacingAndGlyphs" >AC(10:0)</text><text x="320" y="268.05" font-size="7.0" text-anchor="start" fill="#333" font-weight="normal" textLength="6.68" lengthAdjust="spacingAndGlyphs" >11</text><text x="331.3" y="268.05" font-size="7.0" text-anchor="start" fill="#333" font-weight="normal" textLength="12.53" lengthAdjust="spacingAndGlyphs" >53.8</text><text x="351.3" y="268.05" font-size="7.0" text-anchor="start" fill="#333" font-weight="normal" textLength="3.58" lengthAdjust="spacingAndGlyphs" >9</text><text x="368.8" y="268.05" font-size="7.0" text-anchor="start" fill="#333" font-weight="normal" textLength="12.53" lengthAdjust="spacingAndGlyphs" >0.23</text><text x="385" y="268.05" font-size="7.0" text-anchor="start" fill="#333" font-weight="normal" textLength="12.53" lengthAdjust="spacingAndGlyphs" >0.33</text><text x="403.8" y="268.05" font-size="7.0" text-anchor="start" fill="#c42a46" font-weight="normal" textLength="15.06" lengthAdjust="spacingAndGlyphs" >–0.44</text><text x="422.5" y="268.05" font-size="7.0" text-anchor="start" fill="#333" font-weight="normal" textLength="12.53" lengthAdjust="spacingAndGlyphs" >0.49</text><text x="440" y="268.05" font-size="7.0" text-anchor="start" fill="#c42a46" font-weight="normal" textLength="15.06" lengthAdjust="spacingAndGlyphs" >–0.12</text><text x="458.8" y="268.05" font-size="7.0" text-anchor="start" fill="#c42a46" font-weight="normal" textLength="15.06" lengthAdjust="spacingAndGlyphs" >–0.55</text><text x="478.8" y="268.05" font-size="7.0" text-anchor="start" fill="#333" font-weight="normal" textLength="12.53" lengthAdjust="spacingAndGlyphs" >0.36</text><text x="496.3" y="268.05" font-size="7.0" text-anchor="start" fill="#c42a46" font-weight="normal" textLength="11.72" lengthAdjust="spacingAndGlyphs" >–0.3</text><rect x="285.5" y="273.03" width="225.8" height="8.5" fill="#e3e3e5" /><text x="279.8" y="280.03" font-size="7.6" text-anchor="middle" fill="#eef7fd" font-weight="normal" textLength="3.6" lengthAdjust="spacingAndGlyphs" >2</text><text x="286.2" y="279.78" font-size="7.0" text-anchor="start" fill="#333" font-weight="normal" textLength="21.22" lengthAdjust="spacingAndGlyphs" >AC(2:0)</text><text x="320" y="279.78" font-size="7.0" text-anchor="start" fill="#333" font-weight="normal" textLength="6.68" lengthAdjust="spacingAndGlyphs" >11</text><text x="331.3" y="279.78" font-size="7.0" text-anchor="start" fill="#333" font-weight="normal" textLength="12.53" lengthAdjust="spacingAndGlyphs" >53.7</text><text x="351.3" y="279.78" font-size="7.0" text-anchor="start" fill="#333" font-weight="normal" textLength="12.53" lengthAdjust="spacingAndGlyphs" >8.72</text><text x="368.8" y="279.78" font-size="7.0" text-anchor="start" fill="#333" font-weight="normal" textLength="12.05" lengthAdjust="spacingAndGlyphs" >0.11</text><text x="385" y="279.78" font-size="7.0" text-anchor="start" fill="#333" font-weight="normal" textLength="12.53" lengthAdjust="spacingAndGlyphs" >0.07</text><text x="403.8" y="279.78" font-size="7.0" text-anchor="start" fill="#333" font-weight="normal" textLength="12.53" lengthAdjust="spacingAndGlyphs" >0.39</text><text x="422.5" y="279.78" font-size="7.0" text-anchor="start" fill="#333" font-weight="normal" textLength="12.53" lengthAdjust="spacingAndGlyphs" >0.21</text><text x="440" y="279.78" font-size="7.0" text-anchor="start" fill="#c42a46" font-weight="normal" textLength="15.06" lengthAdjust="spacingAndGlyphs" >–0.37</text><text x="458.8" y="279.78" font-size="7.0" text-anchor="start" fill="#c42a46" font-weight="normal" textLength="15.06" lengthAdjust="spacingAndGlyphs" >–0.73</text><text x="478.8" y="279.78" font-size="7.0" text-anchor="start" fill="#333" font-weight="normal" textLength="12.53" lengthAdjust="spacingAndGlyphs" >0.32</text><text x="496.3" y="279.78" font-size="7.0" text-anchor="start" fill="#333" font-weight="normal" textLength="12.53" lengthAdjust="spacingAndGlyphs" >0.01</text><text x="279.8" y="291.76" font-size="7.6" text-anchor="middle" fill="#eef7fd" font-weight="normal" textLength="3.6" lengthAdjust="spacingAndGlyphs" >3</text><text x="286.2" y="291.51" font-size="7.0" text-anchor="start" fill="#333" font-weight="normal" textLength="30.13" lengthAdjust="spacingAndGlyphs" >L-Carnitine</text><text x="320" y="291.51" font-size="7.0" text-anchor="start" fill="#333" font-weight="normal" textLength="6.68" lengthAdjust="spacingAndGlyphs" >11</text><text x="331.3" y="291.51" font-size="7.0" text-anchor="start" fill="#333" font-weight="normal" textLength="12.53" lengthAdjust="spacingAndGlyphs" >52.7</text><text x="351.3" y="291.51" font-size="7.0" text-anchor="start" fill="#333" font-weight="normal" textLength="12.53" lengthAdjust="spacingAndGlyphs" >8.44</text><text x="368.8" y="291.51" font-size="7.0" text-anchor="start" fill="#333" font-weight="normal" textLength="12.53" lengthAdjust="spacingAndGlyphs" >0.28</text><text x="385" y="291.51" font-size="7.0" text-anchor="start" fill="#333" font-weight="normal" textLength="12.53" lengthAdjust="spacingAndGlyphs" >0.24</text><text x="403.8" y="291.51" font-size="7.0" text-anchor="start" fill="#333" font-weight="normal" textLength="12.53" lengthAdjust="spacingAndGlyphs" >0.19</text><text x="422.5" y="291.51" font-size="7.0" text-anchor="start" fill="#333" font-weight="normal" textLength="12.53" lengthAdjust="spacingAndGlyphs" >0.26</text><text x="440" y="291.51" font-size="7.0" text-anchor="start" fill="#c42a46" font-weight="normal" textLength="15.06" lengthAdjust="spacingAndGlyphs" >–0.22</text><text x="458.8" y="291.51" font-size="7.0" text-anchor="start" fill="#c42a46" font-weight="normal" textLength="15.06" lengthAdjust="spacingAndGlyphs" >–0.66</text><text x="478.8" y="291.51" font-size="7.0" text-anchor="start" fill="#333" font-weight="normal" textLength="8.95" lengthAdjust="spacingAndGlyphs" >0.1</text><text x="496.3" y="291.51" font-size="7.0" text-anchor="start" fill="#c42a46" font-weight="normal" textLength="15.06" lengthAdjust="spacingAndGlyphs" >–0.19</text><rect x="285.5" y="296.49" width="225.8" height="8.5" fill="#e3e3e5" /><text x="279.8" y="303.49" font-size="7.6" text-anchor="middle" fill="#eef7fd" font-weight="normal" textLength="3.6" lengthAdjust="spacingAndGlyphs" >4</text><text x="286.2" y="303.24" font-size="7.0" text-anchor="start" fill="#333" font-weight="normal" textLength="21.22" lengthAdjust="spacingAndGlyphs" >AC(8:0)</text><text x="320" y="303.24" font-size="7.0" text-anchor="start" fill="#333" font-weight="normal" textLength="6.68" lengthAdjust="spacingAndGlyphs" >11</text><text x="331.3" y="303.24" font-size="7.0" text-anchor="start" fill="#333" font-weight="normal" textLength="12.53" lengthAdjust="spacingAndGlyphs" >53.8</text><text x="351.3" y="303.24" font-size="7.0" text-anchor="start" fill="#333" font-weight="normal" textLength="12.53" lengthAdjust="spacingAndGlyphs" >7.74</text><text x="368.8" y="303.24" font-size="7.0" text-anchor="start" fill="#333" font-weight="normal" textLength="12.53" lengthAdjust="spacingAndGlyphs" >0.21</text><text x="385" y="303.24" font-size="7.0" text-anchor="start" fill="#333" font-weight="normal" textLength="12.53" lengthAdjust="spacingAndGlyphs" >0.24</text><text x="403.8" y="303.24" font-size="7.0" text-anchor="start" fill="#c42a46" font-weight="normal" textLength="15.06" lengthAdjust="spacingAndGlyphs" >–0.39</text><text x="422.5" y="303.24" font-size="7.0" text-anchor="start" fill="#333" font-weight="normal" textLength="12.53" lengthAdjust="spacingAndGlyphs" >0.39</text><text x="440" y="303.24" font-size="7.0" text-anchor="start" fill="#c42a46" font-weight="normal" textLength="11.72" lengthAdjust="spacingAndGlyphs" >–0.1</text><text x="458.8" y="303.24" font-size="7.0" text-anchor="start" fill="#c42a46" font-weight="normal" textLength="15.06" lengthAdjust="spacingAndGlyphs" >–0.51</text><text x="478.8" y="303.24" font-size="7.0" text-anchor="start" fill="#333" font-weight="normal" textLength="12.53" lengthAdjust="spacingAndGlyphs" >0.47</text><text x="496.3" y="303.24" font-size="7.0" text-anchor="start" fill="#c42a46" font-weight="normal" textLength="15.06" lengthAdjust="spacingAndGlyphs" >–0.31</text><text x="279.8" y="315.22" font-size="7.6" text-anchor="middle" fill="#eef7fd" font-weight="normal" textLength="3.6" lengthAdjust="spacingAndGlyphs" >5</text><text x="286.2" y="314.97" font-size="7.0" text-anchor="start" fill="#333" font-weight="normal" textLength="24.65" lengthAdjust="spacingAndGlyphs" >AC(18:4)</text><text x="320" y="314.97" font-size="7.0" text-anchor="start" fill="#333" font-weight="normal" textLength="6.68" lengthAdjust="spacingAndGlyphs" >11</text><text x="331.3" y="314.97" font-size="7.0" text-anchor="start" fill="#333" font-weight="normal" textLength="12.53" lengthAdjust="spacingAndGlyphs" >53.7</text><text x="351.3" y="314.97" font-size="7.0" text-anchor="start" fill="#333" font-weight="normal" textLength="12.53" lengthAdjust="spacingAndGlyphs" >7.74</text><text x="368.8" y="314.97" font-size="7.0" text-anchor="start" fill="#333" font-weight="normal" textLength="12.53" lengthAdjust="spacingAndGlyphs" >0.21</text><text x="385" y="314.97" font-size="7.0" text-anchor="start" fill="#333" font-weight="normal" textLength="12.53" lengthAdjust="spacingAndGlyphs" >0.09</text><text x="403.8" y="314.97" font-size="7.0" text-anchor="start" fill="#c42a46" font-weight="normal" textLength="15.06" lengthAdjust="spacingAndGlyphs" >–0.01</text><text x="422.5" y="314.97" font-size="7.0" text-anchor="start" fill="#333" font-weight="normal" textLength="12.53" lengthAdjust="spacingAndGlyphs" >0.29</text><text x="440" y="314.97" font-size="7.0" text-anchor="start" fill="#c42a46" font-weight="normal" textLength="15.06" lengthAdjust="spacingAndGlyphs" >–0.47</text><text x="458.8" y="314.97" font-size="7.0" text-anchor="start" fill="#c42a46" font-weight="normal" textLength="15.06" lengthAdjust="spacingAndGlyphs" >–0.62</text><text x="478.8" y="314.97" font-size="7.0" text-anchor="start" fill="#333" font-weight="normal" textLength="12.53" lengthAdjust="spacingAndGlyphs" >0.46</text><text x="496.3" y="314.97" font-size="7.0" text-anchor="start" fill="#333" font-weight="normal" textLength="12.53" lengthAdjust="spacingAndGlyphs" >0.06</text><rect x="285.5" y="319.95" width="225.8" height="8.5" fill="#e3e3e5" /><text x="279.8" y="326.95" font-size="7.6" text-anchor="middle" fill="#eef7fd" font-weight="normal" textLength="3.6" lengthAdjust="spacingAndGlyphs" >6</text><text x="286.2" y="326.7" font-size="7.0" text-anchor="start" fill="#333" font-weight="normal" textLength="24.65" lengthAdjust="spacingAndGlyphs" >AC(12:0)</text><text x="320" y="326.7" font-size="7.0" text-anchor="start" fill="#333" font-weight="normal" textLength="6.68" lengthAdjust="spacingAndGlyphs" >11</text><text x="331.3" y="326.7" font-size="7.0" text-anchor="start" fill="#333" font-weight="normal" textLength="12.53" lengthAdjust="spacingAndGlyphs" >53.9</text><text x="351.3" y="326.7" font-size="7.0" text-anchor="start" fill="#333" font-weight="normal" textLength="8.95" lengthAdjust="spacingAndGlyphs" >7.3</text><text x="368.8" y="326.7" font-size="7.0" text-anchor="start" fill="#333" font-weight="normal" textLength="8.95" lengthAdjust="spacingAndGlyphs" >0.2</text><text x="385" y="326.7" font-size="7.0" text-anchor="start" fill="#333" font-weight="normal" textLength="12.53" lengthAdjust="spacingAndGlyphs" >0.22</text><text x="403.8" y="326.7" font-size="7.0" text-anchor="start" fill="#c42a46" font-weight="normal" textLength="15.06" lengthAdjust="spacingAndGlyphs" >–0.26</text><text x="422.5" y="326.7" font-size="7.0" text-anchor="start" fill="#333" font-weight="normal" textLength="12.53" lengthAdjust="spacingAndGlyphs" >0.34</text><text x="440" y="326.7" font-size="7.0" text-anchor="start" fill="#c42a46" font-weight="normal" textLength="15.06" lengthAdjust="spacingAndGlyphs" >–0.14</text><text x="458.8" y="326.7" font-size="7.0" text-anchor="start" fill="#c42a46" font-weight="normal" textLength="15.06" lengthAdjust="spacingAndGlyphs" >–0.47</text><text x="478.8" y="326.7" font-size="7.0" text-anchor="start" fill="#333" font-weight="normal" textLength="12.53" lengthAdjust="spacingAndGlyphs" >0.37</text><text x="496.3" y="326.7" font-size="7.0" text-anchor="start" fill="#c42a46" font-weight="normal" textLength="15.06" lengthAdjust="spacingAndGlyphs" >–0.26</text><text x="279.8" y="338.68" font-size="7.6" text-anchor="middle" fill="#eef7fd" font-weight="normal" textLength="3.6" lengthAdjust="spacingAndGlyphs" >7</text><text x="286.2" y="338.43" font-size="7.0" text-anchor="start" fill="#333" font-weight="normal" textLength="24.65" lengthAdjust="spacingAndGlyphs" >AC(14:0)</text><text x="320" y="338.43" font-size="7.0" text-anchor="start" fill="#333" font-weight="normal" textLength="6.68" lengthAdjust="spacingAndGlyphs" >11</text><text x="331.3" y="338.43" font-size="7.0" text-anchor="start" fill="#333" font-weight="normal" textLength="12.53" lengthAdjust="spacingAndGlyphs" >53.9</text><text x="351.3" y="338.43" font-size="7.0" text-anchor="start" fill="#333" font-weight="normal" textLength="8.95" lengthAdjust="spacingAndGlyphs" >7.2</text><text x="368.8" y="338.43" font-size="7.0" text-anchor="start" fill="#333" font-weight="normal" textLength="12.53" lengthAdjust="spacingAndGlyphs" >0.27</text><text x="385" y="338.43" font-size="7.0" text-anchor="start" fill="#333" font-weight="normal" textLength="12.53" lengthAdjust="spacingAndGlyphs" >0.16</text><text x="403.8" y="338.43" font-size="7.0" text-anchor="start" fill="#c42a46" font-weight="normal" textLength="15.06" lengthAdjust="spacingAndGlyphs" >–0.25</text><text x="422.5" y="338.43" font-size="7.0" text-anchor="start" fill="#333" font-weight="normal" textLength="12.53" lengthAdjust="spacingAndGlyphs" >0.28</text><text x="440" y="338.43" font-size="7.0" text-anchor="start" fill="#333" font-weight="normal" textLength="12.53" lengthAdjust="spacingAndGlyphs" >0.13</text><text x="458.8" y="338.43" font-size="7.0" text-anchor="start" fill="#c42a46" font-weight="normal" textLength="15.06" lengthAdjust="spacingAndGlyphs" >–0.61</text><text x="478.8" y="338.43" font-size="7.0" text-anchor="start" fill="#333" font-weight="normal" textLength="8.95" lengthAdjust="spacingAndGlyphs" >0.1</text><text x="496.3" y="338.43" font-size="7.0" text-anchor="start" fill="#c42a46" font-weight="normal" textLength="15.06" lengthAdjust="spacingAndGlyphs" >–0.09</text><rect x="285.5" y="343.41" width="225.8" height="8.5" fill="#e3e3e5" /><text x="279.8" y="350.41" font-size="7.6" text-anchor="middle" fill="#eef7fd" font-weight="normal" textLength="3.6" lengthAdjust="spacingAndGlyphs" >8</text><text x="286.2" y="350.16" font-size="7.0" text-anchor="start" fill="#333" font-weight="normal" textLength="24.65" lengthAdjust="spacingAndGlyphs" >AC(16:2)</text><text x="320" y="350.16" font-size="7.0" text-anchor="start" fill="#333" font-weight="normal" textLength="6.68" lengthAdjust="spacingAndGlyphs" >11</text><text x="331.3" y="350.16" font-size="7.0" text-anchor="start" fill="#333" font-weight="normal" textLength="12.53" lengthAdjust="spacingAndGlyphs" >53.8</text><text x="351.3" y="350.16" font-size="7.0" text-anchor="start" fill="#333" font-weight="normal" textLength="12.53" lengthAdjust="spacingAndGlyphs" >6.29</text><text x="368.8" y="350.16" font-size="7.0" text-anchor="start" fill="#333" font-weight="normal" textLength="12.53" lengthAdjust="spacingAndGlyphs" >0.25</text><text x="385" y="350.16" font-size="7.0" text-anchor="start" fill="#333" font-weight="normal" textLength="12.53" lengthAdjust="spacingAndGlyphs" >0.15</text><text x="403.8" y="350.16" font-size="7.0" text-anchor="start" fill="#c42a46" font-weight="normal" textLength="15.06" lengthAdjust="spacingAndGlyphs" >–0.22</text><text x="422.5" y="350.16" font-size="7.0" text-anchor="start" fill="#333" font-weight="normal" textLength="12.53" lengthAdjust="spacingAndGlyphs" >0.21</text><text x="440" y="350.16" font-size="7.0" text-anchor="start" fill="#c42a46" font-weight="normal" textLength="15.06" lengthAdjust="spacingAndGlyphs" >–0.07</text><text x="458.8" y="350.16" font-size="7.0" text-anchor="start" fill="#c42a46" font-weight="normal" textLength="11.72" lengthAdjust="spacingAndGlyphs" >–0.6</text><text x="478.8" y="350.16" font-size="7.0" text-anchor="start" fill="#333" font-weight="normal" textLength="12.53" lengthAdjust="spacingAndGlyphs" >0.29</text><text x="496.3" y="350.16" font-size="7.0" text-anchor="start" fill="#c42a46" font-weight="normal" textLength="15.06" lengthAdjust="spacingAndGlyphs" >–0.01</text><text x="279.8" y="362.14" font-size="7.6" text-anchor="middle" fill="#eef7fd" font-weight="normal" textLength="3.6" lengthAdjust="spacingAndGlyphs" >9</text><text x="286.2" y="361.89" font-size="7.0" text-anchor="start" fill="#333" font-weight="normal" textLength="24.65" lengthAdjust="spacingAndGlyphs" >AC(21:6)</text><text x="320" y="361.89" font-size="7.0" text-anchor="start" fill="#333" font-weight="normal" textLength="6.68" lengthAdjust="spacingAndGlyphs" >11</text><text x="331.3" y="361.89" font-size="7.0" text-anchor="start" fill="#333" font-weight="normal" textLength="12.53" lengthAdjust="spacingAndGlyphs" >52.7</text><text x="351.3" y="361.89" font-size="7.0" text-anchor="start" fill="#333" font-weight="normal" textLength="12.53" lengthAdjust="spacingAndGlyphs" >5.82</text><text x="368.8" y="361.89" font-size="7.0" text-anchor="start" fill="#333" font-weight="normal" textLength="12.53" lengthAdjust="spacingAndGlyphs" >0.33</text><text x="385" y="361.89" font-size="7.0" text-anchor="start" fill="#333" font-weight="normal" textLength="12.53" lengthAdjust="spacingAndGlyphs" >0.01</text><text x="403.8" y="361.89" font-size="7.0" text-anchor="start" fill="#333" font-weight="normal" textLength="12.53" lengthAdjust="spacingAndGlyphs" >0.29</text><text x="422.5" y="361.89" font-size="7.0" text-anchor="start" fill="#333" font-weight="normal" textLength="12.53" lengthAdjust="spacingAndGlyphs" >0.26</text><text x="440" y="361.89" font-size="7.0" text-anchor="start" fill="#c42a46" font-weight="normal" textLength="15.06" lengthAdjust="spacingAndGlyphs" >–0.27</text><text x="458.8" y="361.89" font-size="7.0" text-anchor="start" fill="#c42a46" font-weight="normal" textLength="11.72" lengthAdjust="spacingAndGlyphs" >–0.3</text><text x="478.8" y="361.89" font-size="7.0" text-anchor="start" fill="#c42a46" font-weight="normal" textLength="15.06" lengthAdjust="spacingAndGlyphs" >–0.03</text><text x="496.3" y="361.89" font-size="7.0" text-anchor="start" fill="#c42a46" font-weight="normal" textLength="15.06" lengthAdjust="spacingAndGlyphs" >–0.28</text><rect x="285.5" y="366.87" width="225.8" height="8.5" fill="#e3e3e5" /><text x="279.8" y="373.87" font-size="7.6" text-anchor="middle" fill="#eef7fd" font-weight="normal" textLength="7.4" lengthAdjust="spacingAndGlyphs" >10</text><text x="286.2" y="373.62" font-size="7.0" text-anchor="start" fill="#333" font-weight="normal" textLength="24.65" lengthAdjust="spacingAndGlyphs" >AC(20:4)</text><text x="320" y="373.62" font-size="7.0" text-anchor="start" fill="#333" font-weight="normal" textLength="6.68" lengthAdjust="spacingAndGlyphs" >11</text><text x="331.3" y="373.62" font-size="7.0" text-anchor="start" fill="#333" font-weight="normal" textLength="12.53" lengthAdjust="spacingAndGlyphs" >53.8</text><text x="351.3" y="373.62" font-size="7.0" text-anchor="start" fill="#333" font-weight="normal" textLength="12.53" lengthAdjust="spacingAndGlyphs" >5.61</text><text x="368.8" y="373.62" font-size="7.0" text-anchor="start" fill="#333" font-weight="normal" textLength="12.53" lengthAdjust="spacingAndGlyphs" >0.08</text><text x="385" y="373.62" font-size="7.0" text-anchor="start" fill="#333" font-weight="normal" textLength="12.53" lengthAdjust="spacingAndGlyphs" >0.07</text><text x="403.8" y="373.62" font-size="7.0" text-anchor="start" fill="#333" font-weight="normal" textLength="12.53" lengthAdjust="spacingAndGlyphs" >0.17</text><text x="422.5" y="373.62" font-size="7.0" text-anchor="start" fill="#333" font-weight="normal" textLength="12.53" lengthAdjust="spacingAndGlyphs" >0.21</text><text x="440" y="373.62" font-size="7.0" text-anchor="start" fill="#c42a46" font-weight="normal" textLength="15.06" lengthAdjust="spacingAndGlyphs" >–0.22</text><text x="458.8" y="373.62" font-size="7.0" text-anchor="start" fill="#c42a46" font-weight="normal" textLength="15.06" lengthAdjust="spacingAndGlyphs" >–0.55</text><text x="478.8" y="373.62" font-size="7.0" text-anchor="start" fill="#333" font-weight="normal" textLength="12.53" lengthAdjust="spacingAndGlyphs" >0.24</text><text x="496.3" y="373.62" font-size="7.0" text-anchor="start" fill="#333" font-weight="normal" textLength="12.53" lengthAdjust="spacingAndGlyphs" >0.02</text><text x="279.8" y="385.6" font-size="7.6" text-anchor="middle" fill="#eef7fd" font-weight="normal" textLength="7.4" lengthAdjust="spacingAndGlyphs" >11</text><text x="286.2" y="385.35" font-size="7.0" text-anchor="start" fill="#333" font-weight="normal" textLength="24.65" lengthAdjust="spacingAndGlyphs" >AC(22:5)</text><text x="320" y="385.35" font-size="7.0" text-anchor="start" fill="#333" font-weight="normal" textLength="6.68" lengthAdjust="spacingAndGlyphs" >11</text><text x="331.3" y="385.35" font-size="7.0" text-anchor="start" fill="#333" font-weight="normal" textLength="12.53" lengthAdjust="spacingAndGlyphs" >52.7</text><text x="351.3" y="385.35" font-size="7.0" text-anchor="start" fill="#333" font-weight="normal" textLength="12.53" lengthAdjust="spacingAndGlyphs" >5.53</text><text x="368.8" y="385.35" font-size="7.0" text-anchor="start" fill="#333" font-weight="normal" textLength="12.53" lengthAdjust="spacingAndGlyphs" >0.28</text><text x="385" y="385.35" font-size="7.0" text-anchor="start" fill="#333" font-weight="normal" textLength="3.58" lengthAdjust="spacingAndGlyphs" >0</text><text x="403.8" y="385.35" font-size="7.0" text-anchor="start" fill="#333" font-weight="normal" textLength="12.53" lengthAdjust="spacingAndGlyphs" >0.28</text><text x="422.5" y="385.35" font-size="7.0" text-anchor="start" fill="#333" font-weight="normal" textLength="12.53" lengthAdjust="spacingAndGlyphs" >0.18</text><text x="440" y="385.35" font-size="7.0" text-anchor="start" fill="#c42a46" font-weight="normal" textLength="15.06" lengthAdjust="spacingAndGlyphs" >–0.27</text><text x="458.8" y="385.35" font-size="7.0" text-anchor="start" fill="#c42a46" font-weight="normal" textLength="15.06" lengthAdjust="spacingAndGlyphs" >–0.28</text><text x="478.8" y="385.35" font-size="7.0" text-anchor="start" fill="#333" font-weight="normal" textLength="12.53" lengthAdjust="spacingAndGlyphs" >0.07</text><text x="496.3" y="385.35" font-size="7.0" text-anchor="start" fill="#c42a46" font-weight="normal" textLength="15.06" lengthAdjust="spacingAndGlyphs" >–0.27</text><text x="7.5" y="443.2" font-size="11.2" font-weight="bold" fill="#000" stroke="#000" stroke-width="0.35" textLength="5.7" lengthAdjust="spacingAndGlyphs">F</text><text x="130.8" y="440.2" font-size="8.4" text-anchor="middle" fill="#333" font-weight="normal" textLength="78.5" lengthAdjust="spacingAndGlyphs" >Carnitines correlates</text><text x="130.8" y="451.0" font-size="8.4" text-anchor="middle" fill="#333" font-weight="normal" textLength="74" lengthAdjust="spacingAndGlyphs" >to Post-Transfusion</text><text x="130.8" y="461.4" font-size="8.4" text-anchor="middle" fill="#333" font-weight="normal" textLength="34" lengthAdjust="spacingAndGlyphs" >Recovery</text><g transform="translate(10.5,466) scale(1.0)"><path d="M30,14 C34,15 35,8 39,6 C40,5.5 40.5,6.6 39.6,7 C37,8.5 37,17 30.5,16" fill="#b8aaaa"/><ellipse cx="21" cy="13" rx="12" ry="9" fill="#ece6e6" stroke="#b8aaaa" stroke-width="0.6"/><path d="M14,20 l-1,4 h2 l0.6,-3.8 Z M27,20 l0.3,4 h2 l-0.5,-4 Z M9,17 l-1.6,3.6 h2 l1.2,-3 Z" fill="#b8aaaa"/><ellipse cx="10" cy="10" rx="7" ry="6" fill="#ece6e6" stroke="#b8aaaa" stroke-width="0.6"/><circle cx="13.8" cy="3.8" r="3.8" fill="#ece6e6" stroke="#b8aaaa" stroke-width="0.6"/><circle cx="13.8" cy="3.9" r="2.2" fill="#f0b8b8"/><circle cx="7" cy="8.6" r="0.9" fill="#333"/><circle cx="3.4" cy="11.4" r="0.9" fill="#d88"/></g><text x="15.6" y="499.4" font-size="6.6" text-anchor="start" fill="#333" font-weight="normal" textLength="27.0" lengthAdjust="spacingAndGlyphs" >JDO mice</text><line x1="29.3" y1="506.5" x2="29.3" y2="514.5" stroke="#e07a1c" stroke-width="1.3" /><path d="M26.900000000000002,514 L31.7,514 L29.3,518 Z" fill="#e07a1c"/><g transform="translate(14.5,528.7) rotate(0)"><ellipse rx="6.8" ry="6.0" fill="#d02232"/><ellipse rx="3.74" ry="3.3000000000000003" fill="#b5141f" opacity="0.7"/><ellipse cx="-1.02" cy="-1.2000000000000002" rx="2.38" ry="1.7999999999999998" fill="#e8505c" opacity="0.6"/></g><g transform="translate(28.0,528.7) rotate(0)"><ellipse rx="6.8" ry="6.0" fill="#d02232"/><ellipse rx="3.74" ry="3.3000000000000003" fill="#b5141f" opacity="0.7"/><ellipse cx="-1.02" cy="-1.2000000000000002" rx="2.38" ry="1.7999999999999998" fill="#e8505c" opacity="0.6"/></g><polygon points="44.60,529.20 42.98,530.11 43.93,531.70 42.07,531.67 42.10,533.53 40.51,532.58 39.60,534.20 38.69,532.58 37.10,533.53 37.13,531.67 35.27,531.70 36.22,530.11 34.60,529.20 36.22,528.29 35.27,526.70 37.13,526.73 37.10,524.87 38.69,525.82 39.60,524.20 40.51,525.82 42.10,524.87 42.07,526.73 43.93,526.70 42.98,528.29" fill="#c81e2c"/><circle cx="39.6" cy="529.2" r="2.25" fill="#a8101c" opacity="0.5"/><circle cx="46.5" cy="525.8" r="1.1" fill="#c81e2c"/><circle cx="49.2" cy="528.0" r="0.9" fill="#c81e2c"/><circle cx="46.8" cy="531.6" r="1.0" fill="#c81e2c"/><circle cx="50.5" cy="525.2" r="0.7" fill="#c81e2c"/><text x="8.8" y="544.6" font-size="6.6" text-anchor="start" fill="#333" font-weight="normal" textLength="40.7" lengthAdjust="spacingAndGlyphs" >Blood storage</text><text x="23.8" y="552.0" font-size="6.6" text-anchor="start" fill="#333" font-weight="normal" textLength="11.3" lengthAdjust="spacingAndGlyphs" >(7d)</text><line x1="29.3" y1="556.5" x2="29.3" y2="567.0" stroke="#e07a1c" stroke-width="1.3" /><path d="M26.900000000000002,566.5 L31.7,566.5 L29.3,570.5 Z" fill="#e07a1c"/><g transform="translate(11,570.5) scale(1.0)"><path d="M30,14 C34,15 35,8 39,6 C40,5.5 40.5,6.6 39.6,7 C37,8.5 37,17 30.5,16" fill="#6fae57"/><ellipse cx="21" cy="13" rx="12" ry="9" fill="#a9d88a" stroke="#6fae57" stroke-width="0.6"/><path d="M14,20 l-1,4 h2 l0.6,-3.8 Z M27,20 l0.3,4 h2 l-0.5,-4 Z M9,17 l-1.6,3.6 h2 l1.2,-3 Z" fill="#6fae57"/><ellipse cx="10" cy="10" rx="7" ry="6" fill="#a9d88a" stroke="#6fae57" stroke-width="0.6"/><circle cx="13.8" cy="3.8" r="3.8" fill="#a9d88a" stroke="#6fae57" stroke-width="0.6"/><circle cx="13.8" cy="3.9" r="2.2" fill="#7fbf66"/><circle cx="7" cy="8.6" r="0.9" fill="#333"/><circle cx="3.4" cy="11.4" r="0.9" fill="#d88"/></g><circle cx="27" cy="573" r="3.2" fill="#8cc873" stroke="#5f9e48" stroke-width="0.5"/><text x="13" y="605.8" font-size="6.6" text-anchor="start" fill="#333" font-weight="normal" textLength="32.5" lengthAdjust="spacingAndGlyphs" >PTR in GFP</text><text x="15.5" y="613.8" font-size="6.6" text-anchor="start" fill="#333" font-weight="normal" textLength="27.5" lengthAdjust="spacingAndGlyphs" >Recipient</text><line x1="83.3" y1="465.8" x2="83.3" y2="599.2" stroke="#222" stroke-width="1.1" /><line x1="82.8" y1="598.8" x2="179.5" y2="598.8" stroke="#222" stroke-width="1.1" /><line x1="80.2" y1="592.0" x2="83.3" y2="592.0" stroke="#222" stroke-width="0.9" /><text x="77.2" y="594.7" font-size="7.4" text-anchor="end" fill="#333" font-weight="normal" textLength="3.6" lengthAdjust="spacingAndGlyphs" >0</text><line x1="80.2" y1="559.2" x2="83.3" y2="559.2" stroke="#222" stroke-width="0.9" /><text x="77.2" y="561.9000000000001" font-size="7.4" text-anchor="end" fill="#333" font-weight="normal" textLength="6.8" lengthAdjust="spacingAndGlyphs" >10</text><line x1="80.2" y1="526.4" x2="83.3" y2="526.4" stroke="#222" stroke-width="0.9" /><text x="77.2" y="529.1" font-size="7.4" text-anchor="end" fill="#333" font-weight="normal" textLength="6.8" lengthAdjust="spacingAndGlyphs" >20</text><line x1="80.2" y1="493.6" x2="83.3" y2="493.6" stroke="#222" stroke-width="0.9" /><text x="77.2" y="496.3" font-size="7.4" text-anchor="end" fill="#333" font-weight="normal" textLength="6.8" lengthAdjust="spacingAndGlyphs" >30</text><line x1="85.7" y1="598.8" x2="85.7" y2="602.2" stroke="#222" stroke-width="0.9" /><text x="85.7" y="609.6" font-size="7.0" text-anchor="middle" fill="#333" font-weight="normal" >–0.6</text><line x1="106.0" y1="598.8" x2="106.0" y2="602.2" stroke="#222" stroke-width="0.9" /><text x="106.0" y="609.6" font-size="7.0" text-anchor="middle" fill="#333" font-weight="normal" >–0.4</text><line x1="126.3" y1="598.8" x2="126.3" y2="602.2" stroke="#222" stroke-width="0.9" /><text x="126.3" y="609.6" font-size="7.0" text-anchor="middle" fill="#333" font-weight="normal" >–0.2</text><line x1="146.6" y1="598.8" x2="146.6" y2="602.2" stroke="#222" stroke-width="0.9" /><text x="146.6" y="609.6" font-size="7.0" text-anchor="middle" fill="#333" font-weight="normal" >0.0</text><line x1="166.9" y1="598.8" x2="166.9" y2="602.2" stroke="#222" stroke-width="0.9" /><text x="166.9" y="609.6" font-size="7.0" text-anchor="middle" fill="#333" font-weight="normal" >0.2</text><line x1="95.8" y1="598.8" x2="95.8" y2="600.8" stroke="#222" stroke-width="0.8" /><line x1="116.1" y1="598.8" x2="116.1" y2="600.8" stroke="#222" stroke-width="0.8" /><line x1="136.4" y1="598.8" x2="136.4" y2="600.8" stroke="#222" stroke-width="0.8" /><line x1="156.8" y1="598.8" x2="156.8" y2="600.8" stroke="#222" stroke-width="0.8" /><line x1="177.0" y1="598.8" x2="177.0" y2="600.8" stroke="#222" stroke-width="0.8" /><line x1="81.3" y1="575.6" x2="83.3" y2="575.6" stroke="#222" stroke-width="0.8" /><line x1="81.3" y1="542.8" x2="83.3" y2="542.8" stroke="#222" stroke-width="0.8" /><line x1="81.3" y1="510.0" x2="83.3" y2="510.0" stroke="#222" stroke-width="0.8" /><line x1="81.3" y1="477.2" x2="83.3" y2="477.2" stroke="#222" stroke-width="0.8" /><text transform="translate(65.3,532.5) rotate(-90)" font-size="8.6" text-anchor="middle" fill="#333" textLength="29.5" lengthAdjust="spacingAndGlyphs">–log10(p)</text><text x="106" y="621.5" font-size="9.4" text-anchor="start" fill="#333" font-weight="normal" textLength="51" lengthAdjust="spacingAndGlyphs" >Spearman to PTR</text><line x1="84" y1="586.6" x2="176" y2="586.6" stroke="#9a8fd0" stroke-width="0.7" stroke-dasharray="1.2,1.2"/><circle cx="129.9" cy="583.6" r="1.3" fill="#46196b"/><circle cx="130.4" cy="584.1" r="1.3" fill="#46186a"/><circle cx="130.9" cy="584.6" r="1.3" fill="#461668"/><circle cx="131.4" cy="585.1" r="1.3" fill="#461567"/><circle cx="131.9" cy="585.5" r="1.3" fill="#461466"/><circle cx="132.4" cy="586.0" r="1.3" fill="#461264"/><circle cx="132.9" cy="586.4" r="1.3" fill="#451163"/><circle cx="133.4" cy="586.8" r="1.3" fill="#451062"/><circle cx="133.9" cy="587.2" r="1.3" fill="#450f61"/><circle cx="134.4" cy="587.6" r="1.3" fill="#450e60"/><circle cx="134.9" cy="587.9" r="1.3" fill="#450d5f"/><circle cx="135.4" cy="588.3" r="1.3" fill="#450c5e"/><circle cx="135.9" cy="588.6" r="1.3" fill="#450b5d"/><circle cx="136.4" cy="588.9" r="1.3" fill="#450a5c"/><circle cx="137.0" cy="589.2" r="1.3" fill="#44095b"/><circle cx="137.5" cy="589.5" r="1.3" fill="#44085a"/><circle cx="138.0" cy="589.8" r="1.3" fill="#44075a"/><circle cx="138.5" cy="590.0" r="1.3" fill="#440659"/><circle cx="139.0" cy="590.3" r="1.3" fill="#440658"/><circle cx="139.5" cy="590.5" r="1.3" fill="#440558"/><circle cx="140.0" cy="590.7" r="1.3" fill="#440457"/><circle cx="140.5" cy="590.9" r="1.3" fill="#440457"/><circle cx="141.0" cy="591.1" r="1.3" fill="#440356"/><circle cx="141.5" cy="591.2" r="1.3" fill="#440356"/><circle cx="142.0" cy="591.4" r="1.3" fill="#440255"/><circle cx="142.5" cy="591.5" r="1.3" fill="#440255"/><circle cx="143.0" cy="591.6" r="1.3" fill="#440255"/><circle cx="143.6" cy="591.7" r="1.3" fill="#440154"/><circle cx="144.1" cy="591.8" r="1.3" fill="#440154"/><circle cx="144.6" cy="591.9" r="1.3" fill="#440154"/><circle cx="145.1" cy="591.9" r="1.3" fill="#440154"/><circle cx="145.6" cy="592.0" r="1.3" fill="#440154"/><circle cx="146.1" cy="592.0" r="1.3" fill="#440154"/><circle cx="146.6" cy="592.0" r="1.3" fill="#440154"/><circle cx="147.1" cy="592.0" r="1.3" fill="#440154"/><circle cx="147.6" cy="592.0" r="1.3" fill="#440154"/><circle cx="148.1" cy="591.9" r="1.3" fill="#440154"/><circle cx="148.6" cy="591.9" r="1.3" fill="#440154"/><circle cx="149.1" cy="591.8" r="1.3" fill="#440154"/><circle cx="149.6" cy="591.7" r="1.3" fill="#440154"/><circle cx="150.2" cy="591.6" r="1.3" fill="#440255"/><circle cx="150.7" cy="591.5" r="1.3" fill="#440255"/><circle cx="151.2" cy="591.4" r="1.3" fill="#440255"/><circle cx="151.7" cy="591.2" r="1.3" fill="#440356"/><circle cx="152.2" cy="591.1" r="1.3" fill="#440356"/><circle cx="152.7" cy="590.9" r="1.3" fill="#440457"/><circle cx="153.2" cy="590.7" r="1.3" fill="#440457"/><circle cx="153.7" cy="590.5" r="1.3" fill="#440558"/><circle cx="154.2" cy="590.3" r="1.3" fill="#440658"/><circle cx="154.7" cy="590.0" r="1.3" fill="#440659"/><circle cx="155.2" cy="589.8" r="1.3" fill="#44075a"/><circle cx="155.7" cy="589.5" r="1.3" fill="#44085a"/><circle cx="156.2" cy="589.2" r="1.3" fill="#44095b"/><circle cx="156.8" cy="588.9" r="1.3" fill="#450a5c"/><circle cx="157.3" cy="588.6" r="1.3" fill="#450b5d"/><circle cx="157.8" cy="588.3" r="1.3" fill="#450c5e"/><circle cx="158.3" cy="587.9" r="1.3" fill="#450d5f"/><circle cx="158.8" cy="587.6" r="1.3" fill="#450e60"/><circle cx="159.3" cy="587.2" r="1.3" fill="#450f61"/><circle cx="159.8" cy="586.8" r="1.3" fill="#451062"/><circle cx="160.3" cy="586.4" r="1.3" fill="#451163"/><circle cx="160.8" cy="586.0" r="1.3" fill="#461264"/><circle cx="161.3" cy="585.5" r="1.3" fill="#461466"/><circle cx="161.8" cy="585.1" r="1.3" fill="#461567"/><circle cx="162.3" cy="584.6" r="1.3" fill="#461668"/><circle cx="162.8" cy="584.1" r="1.3" fill="#46186a"/><circle cx="163.3" cy="583.6" r="1.3" fill="#46196b"/><circle cx="98.6" cy="473.2" r="1.3" fill="#f4e525"/><circle cx="103.3" cy="476.8" r="1.3" fill="#e2e325"/><circle cx="86.7" cy="483.5" r="1.3" fill="#a4ac5c"/><circle cx="90.6" cy="500.9" r="1.3" fill="#4d6350"/><circle cx="110.3" cy="557.3" r="1.3" fill="#365c8c"/><circle cx="112.7" cy="560.8" r="1.3" fill="#39558a"/><circle cx="116.6" cy="567.3" r="1.3" fill="#404687"/><circle cx="123.5" cy="576.5" r="1.3" fill="#452d7a"/><circle cx="126.3" cy="580.3" r="1.3" fill="#472374"/><circle cx="173.2" cy="572.3" r="1.3" fill="#433981"/><circle cx="123.1" cy="576.9" r="1.3" fill="#462c7a"/><text x="101.6" y="473.7" font-size="6.6" text-anchor="start" fill="#222" font-weight="normal" textLength="23.1" lengthAdjust="spacingAndGlyphs" >AC (3:0)</text><text x="107.3" y="480.3" font-size="6.6" text-anchor="start" fill="#222" font-weight="normal" textLength="23.1" lengthAdjust="spacingAndGlyphs" >AC (6:1)</text><text x="88.2" y="490.5" font-size="6.6" text-anchor="start" fill="#222" font-weight="normal" textLength="38.8" lengthAdjust="spacingAndGlyphs" >AC (10:0-OH)</text><text x="96.3" y="504.3" font-size="6.6" text-anchor="start" fill="#222" font-weight="normal" textLength="38.7" lengthAdjust="spacingAndGlyphs" >AC (11:0-OH)</text><text x="105.7" y="552.7" font-size="6.6" text-anchor="start" fill="#222" font-weight="normal" textLength="23.1" lengthAdjust="spacingAndGlyphs" >AC (6:0)</text><text x="115" y="559.6" font-size="6.6" text-anchor="start" fill="#222" font-weight="normal" textLength="35" lengthAdjust="spacingAndGlyphs" >AC (6:0-OH)</text><text x="117.3" y="566.1" font-size="6.6" text-anchor="start" fill="#222" font-weight="normal" textLength="35.1" lengthAdjust="spacingAndGlyphs" >AC (9:0-OH)</text><text x="114.3" y="573.0" font-size="6.6" text-anchor="start" fill="#222" font-weight="normal" textLength="38.1" lengthAdjust="spacingAndGlyphs" >AC (15:0-OH)</text><text x="129.3" y="581.1" font-size="6.6" text-anchor="start" fill="#222" font-weight="normal" textLength="23.1" lengthAdjust="spacingAndGlyphs" >AC (9:0)</text><text x="152.4" y="568.3" font-size="6.6" text-anchor="start" fill="#222" font-weight="normal" textLength="24.2" lengthAdjust="spacingAndGlyphs" >AC (18:4)</text><text x="153.5" y="578.1" font-size="6.6" text-anchor="start" fill="#222" font-weight="normal" textLength="23.1" lengthAdjust="spacingAndGlyphs" >AC (18:2)</text><text x="153.5" y="585.0" font-size="6.6" text-anchor="start" fill="#222" font-weight="normal" textLength="22.5" lengthAdjust="spacingAndGlyphs" >AC (18:3)</text><defs><linearGradient id="vg" x1="0" y1="1" x2="0" y2="0"><stop offset="0.0" stop-color="#440154"/><stop offset="0.1" stop-color="#482475"/><stop offset="0.2" stop-color="#414487"/><stop offset="0.3" stop-color="#355f8d"/><stop offset="0.4" stop-color="#2a788e"/><stop offset="0.5" stop-color="#21918c"/><stop offset="0.6" stop-color="#22a884"/><stop offset="0.7" stop-color="#44bf70"/><stop offset="0.8" stop-color="#7ad151"/><stop offset="0.9" stop-color="#bddf26"/><stop offset="1.0" stop-color="#fde725"/></linearGradient></defs><rect x="187.0" y="514.2" width="8.5" height="45.2" fill="url(#vg)" /><text x="184.5" y="511.8" font-size="6.6" text-anchor="start" fill="#333" font-weight="normal" textLength="27.5" lengthAdjust="spacingAndGlyphs" >–log10(p)</text><text x="197.2" y="524.9" font-size="6.6" text-anchor="start" fill="#333" font-weight="normal" >30</text><text x="197.2" y="537.4" font-size="6.6" text-anchor="start" fill="#333" font-weight="normal" >20</text><text x="197.2" y="549.4" font-size="6.6" text-anchor="start" fill="#333" font-weight="normal" >10</text><text x="247.5" y="443.3" font-size="11.2" font-weight="bold" fill="#000" stroke="#000" stroke-width="0.35" textLength="8.1" lengthAdjust="spacingAndGlyphs">G</text><text x="328.2" y="440.6" font-size="8.4" text-anchor="start" fill="#333" font-weight="normal" textLength="134" lengthAdjust="spacingAndGlyphs" >Hydroxyacyl-carnitines and oxylipin</text><text x="334.7" y="454.2" font-size="8.4" text-anchor="start" fill="#333" font-weight="normal" textLength="120.3" lengthAdjust="spacingAndGlyphs" >breakdown carnitine-conjugates</text><clipPath id="c101"><rect x="282.2" y="464.7" width="88.90000000000003" height="83.50000000000006"/></clipPath><g clip-path="url(#c101)"><g fill="#4f4fb0" fill-opacity="0.42" stroke="#2e2e96" stroke-opacity="0.25" stroke-width="0.4"><circle cx="333.6" cy="485.2" r="2.35"/><circle cx="363.1" cy="515.3" r="2.35"/><circle cx="302.7" cy="492.7" r="2.35"/><circle cx="301.9" cy="504.0" r="2.35"/><circle cx="289.7" cy="521.5" r="2.35"/><circle cx="349.8" cy="517.5" r="2.35"/><circle cx="338.5" cy="504.6" r="2.35"/><circle cx="301.6" cy="499.5" r="2.35"/><circle cx="354.4" cy="505.2" r="2.35"/><circle cx="340.8" cy="514.4" r="2.35"/><circle cx="320.0" cy="496.0" r="2.35"/><circle cx="341.2" cy="496.4" r="2.35"/><circle cx="329.7" cy="488.7" r="2.35"/><circle cx="284.5" cy="492.0" r="2.35"/><circle cx="296.9" cy="512.7" r="2.35"/><circle cx="289.3" cy="490.1" r="2.35"/><circle cx="346.3" cy="514.5" r="2.35"/><circle cx="326.5" cy="512.8" r="2.35"/><circle cx="310.4" cy="505.4" r="2.35"/><circle cx="284.2" cy="521.3" r="2.35"/><circle cx="313.4" cy="514.7" r="2.35"/><circle cx="358.9" cy="499.2" r="2.35"/><circle cx="350.2" cy="498.2" r="2.35"/><circle cx="351.8" cy="530.6" r="2.35"/><circle cx="351.8" cy="500.6" r="2.35"/><circle cx="360.1" cy="491.6" r="2.35"/><circle cx="359.7" cy="517.7" r="2.35"/><circle cx="289.5" cy="498.7" r="2.35"/><circle cx="288.6" cy="482.6" r="2.35"/><circle cx="291.5" cy="504.3" r="2.35"/><circle cx="305.2" cy="523.7" r="2.35"/><circle cx="368.0" cy="514.7" r="2.35"/><circle cx="339.8" cy="502.4" r="2.35"/><circle cx="284.7" cy="487.3" r="2.35"/><circle cx="332.6" cy="513.6" r="2.35"/><circle cx="304.2" cy="494.7" r="2.35"/><circle cx="331.1" cy="516.4" r="2.35"/><circle cx="308.5" cy="479.1" r="2.35"/><circle cx="360.5" cy="504.4" r="2.35"/><circle cx="289.4" cy="519.8" r="2.35"/><circle cx="313.1" cy="498.1" r="2.35"/><circle cx="322.1" cy="509.3" r="2.35"/><circle cx="315.0" cy="514.6" r="2.35"/><circle cx="330.9" cy="506.7" r="2.35"/><circle cx="311.0" cy="500.7" r="2.35"/><circle cx="321.1" cy="509.7" r="2.35"/><circle cx="309.2" cy="520.3" r="2.35"/><circle cx="369.0" cy="526.8" r="2.35"/><circle cx="306.8" cy="493.5" r="2.35"/><circle cx="365.4" cy="540.2" r="2.35"/><circle cx="362.9" cy="499.4" r="2.35"/><circle cx="322.5" cy="501.1" r="2.35"/><circle cx="296.0" cy="490.4" r="2.35"/><circle cx="357.4" cy="483.3" r="2.35"/><circle cx="306.5" cy="509.0" r="2.35"/><circle cx="352.3" cy="534.9" r="2.35"/><circle cx="346.4" cy="501.3" r="2.35"/><circle cx="319.5" cy="520.3" r="2.35"/><circle cx="302.3" cy="492.1" r="2.35"/><circle cx="300.2" cy="490.1" r="2.35"/><circle cx="334.2" cy="501.1" r="2.35"/><circle cx="361.0" cy="504.9" r="2.35"/><circle cx="328.1" cy="502.3" r="2.35"/><circle cx="362.6" cy="509.6" r="2.35"/><circle cx="364.0" cy="498.6" r="2.35"/><circle cx="363.7" cy="522.0" r="2.35"/><circle cx="294.8" cy="525.1" r="2.35"/><circle cx="336.2" cy="511.0" r="2.35"/><circle cx="369.0" cy="502.8" r="2.35"/><circle cx="295.2" cy="506.5" r="2.35"/><circle cx="329.3" cy="504.5" r="2.35"/><circle cx="309.2" cy="492.5" r="2.35"/><circle cx="317.1" cy="490.0" r="2.35"/><circle cx="362.7" cy="495.6" r="2.35"/><circle cx="364.1" cy="503.5" r="2.35"/><circle cx="360.8" cy="509.4" r="2.35"/><circle cx="300.9" cy="520.0" r="2.35"/><circle cx="321.4" cy="489.8" r="2.35"/><circle cx="348.7" cy="498.4" r="2.35"/><circle cx="302.9" cy="509.5" r="2.35"/><circle cx="286.6" cy="485.3" r="2.35"/><circle cx="340.6" cy="496.9" r="2.35"/><circle cx="342.3" cy="500.8" r="2.35"/><circle cx="336.7" cy="528.6" r="2.35"/><circle cx="356.7" cy="484.5" r="2.35"/><circle cx="291.6" cy="509.3" r="2.35"/><circle cx="287.5" cy="480.6" r="2.35"/><circle cx="287.4" cy="523.0" r="2.35"/><circle cx="294.5" cy="484.9" r="2.35"/><circle cx="299.7" cy="516.7" r="2.35"/><circle cx="352.0" cy="512.5" r="2.35"/><circle cx="346.3" cy="481.5" r="2.35"/><circle cx="308.1" cy="498.8" r="2.35"/><circle cx="325.6" cy="515.4" r="2.35"/><circle cx="319.8" cy="490.2" r="2.35"/><circle cx="344.9" cy="483.0" r="2.35"/><circle cx="308.3" cy="495.9" r="2.35"/><circle cx="337.2" cy="487.1" r="2.35"/><circle cx="304.5" cy="506.2" r="2.35"/><circle cx="289.2" cy="486.0" r="2.35"/><circle cx="292.1" cy="487.5" r="2.35"/><circle cx="353.7" cy="516.8" r="2.35"/><circle cx="297.8" cy="478.0" r="2.35"/><circle cx="358.1" cy="513.2" r="2.35"/><circle cx="366.0" cy="524.0" r="2.35"/><circle cx="349.2" cy="493.1" r="2.35"/><circle cx="333.9" cy="508.4" r="2.35"/><circle cx="345.2" cy="502.1" r="2.35"/><circle cx="332.0" cy="505.8" r="2.35"/><circle cx="359.2" cy="526.2" r="2.35"/><circle cx="291.2" cy="497.1" r="2.35"/><circle cx="354.7" cy="532.9" r="2.35"/><circle cx="326.6" cy="508.8" r="2.35"/><circle cx="295.8" cy="505.2" r="2.35"/><circle cx="351.8" cy="497.6" r="2.35"/><circle cx="290.1" cy="491.1" r="2.35"/><circle cx="284.3" cy="490.0" r="2.35"/><circle cx="359.9" cy="504.0" r="2.35"/><circle cx="361.9" cy="496.9" r="2.35"/><circle cx="311.2" cy="494.1" r="2.35"/><circle cx="333.6" cy="493.4" r="2.35"/><circle cx="311.1" cy="510.2" r="2.35"/><circle cx="309.0" cy="481.1" r="2.35"/><circle cx="367.5" cy="495.3" r="2.35"/><circle cx="345.0" cy="516.9" r="2.35"/><circle cx="321.1" cy="497.0" r="2.35"/><circle cx="322.0" cy="507.9" r="2.35"/><circle cx="301.7" cy="507.0" r="2.35"/><circle cx="342.2" cy="505.9" r="2.35"/><circle cx="298.8" cy="496.8" r="2.35"/><circle cx="318.6" cy="502.8" r="2.35"/><circle cx="336.6" cy="508.4" r="2.35"/><circle cx="360.6" cy="517.4" r="2.35"/><circle cx="354.4" cy="508.2" r="2.35"/><circle cx="315.1" cy="498.0" r="2.35"/><circle cx="300.9" cy="488.1" r="2.35"/><circle cx="325.3" cy="491.5" r="2.35"/><circle cx="298.5" cy="509.3" r="2.35"/><circle cx="348.8" cy="506.7" r="2.35"/><circle cx="311.2" cy="479.6" r="2.35"/><circle cx="321.4" cy="488.5" r="2.35"/><circle cx="325.6" cy="499.8" r="2.35"/><circle cx="315.1" cy="497.5" r="2.35"/><circle cx="351.7" cy="509.8" r="2.35"/><circle cx="309.5" cy="519.1" r="2.35"/><circle cx="356.1" cy="490.4" r="2.35"/><circle cx="328.1" cy="493.5" r="2.35"/><circle cx="333.6" cy="495.6" r="2.35"/><circle cx="286.1" cy="503.5" r="2.35"/><circle cx="310.6" cy="500.9" r="2.35"/><circle cx="347.9" cy="496.2" r="2.35"/><circle cx="327.4" cy="498.4" r="2.35"/><circle cx="285.7" cy="465.1" r="2.35"/><circle cx="354.6" cy="523.3" r="2.35"/><circle cx="298.4" cy="494.3" r="2.35"/><circle cx="330.0" cy="534.2" r="2.35"/><circle cx="302.7" cy="501.1" r="2.35"/><circle cx="329.1" cy="504.5" r="2.35"/><circle cx="290.8" cy="480.3" r="2.35"/><circle cx="316.6" cy="490.5" r="2.35"/><circle cx="312.5" cy="507.3" r="2.35"/><circle cx="330.7" cy="508.0" r="2.35"/><circle cx="290.1" cy="525.2" r="2.35"/><circle cx="325.7" cy="506.8" r="2.35"/><circle cx="297.5" cy="500.3" r="2.35"/><circle cx="353.7" cy="493.3" r="2.35"/><circle cx="323.5" cy="497.0" r="2.35"/><circle cx="367.9" cy="519.7" r="2.35"/><circle cx="297.2" cy="502.3" r="2.35"/><circle cx="344.8" cy="494.6" r="2.35"/><circle cx="345.7" cy="487.9" r="2.35"/><circle cx="346.7" cy="521.3" r="2.35"/><circle cx="298.2" cy="510.0" r="2.35"/><circle cx="345.8" cy="502.8" r="2.35"/><circle cx="300.4" cy="500.7" r="2.35"/><circle cx="320.1" cy="506.6" r="2.35"/><circle cx="354.2" cy="503.1" r="2.35"/><circle cx="349.4" cy="527.4" r="2.35"/><circle cx="318.9" cy="516.2" r="2.35"/><circle cx="356.9" cy="506.6" r="2.35"/><circle cx="305.5" cy="503.7" r="2.35"/><circle cx="292.8" cy="494.5" r="2.35"/><circle cx="364.5" cy="491.0" r="2.35"/><circle cx="346.0" cy="500.2" r="2.35"/><circle cx="284.2" cy="499.8" r="2.35"/><circle cx="294.2" cy="486.3" r="2.35"/><circle cx="336.2" cy="518.5" r="2.35"/><circle cx="293.4" cy="495.6" r="2.35"/><circle cx="358.3" cy="509.8" r="2.35"/><circle cx="308.9" cy="477.9" r="2.35"/><circle cx="357.6" cy="517.9" r="2.35"/><circle cx="335.3" cy="502.6" r="2.35"/><circle cx="289.6" cy="499.4" r="2.35"/><circle cx="367.1" cy="519.9" r="2.35"/><circle cx="357.4" cy="538.5" r="2.35"/><circle cx="352.7" cy="481.9" r="2.35"/><circle cx="339.5" cy="514.3" r="2.35"/><circle cx="307.1" cy="506.0" r="2.35"/><circle cx="350.5" cy="503.7" r="2.35"/><circle cx="321.5" cy="494.8" r="2.35"/><circle cx="365.1" cy="503.7" r="2.35"/><circle cx="320.2" cy="490.8" r="2.35"/><circle cx="340.6" cy="504.0" r="2.35"/><circle cx="351.0" cy="514.6" r="2.35"/><circle cx="331.4" cy="510.7" r="2.35"/><circle cx="293.3" cy="497.6" r="2.35"/><circle cx="319.9" cy="494.1" r="2.35"/><circle cx="301.4" cy="475.8" r="2.35"/><circle cx="299.2" cy="506.9" r="2.35"/><circle cx="334.8" cy="515.5" r="2.35"/><circle cx="334.3" cy="479.7" r="2.35"/><circle cx="352.7" cy="499.9" r="2.35"/><circle cx="286.8" cy="494.8" r="2.35"/><circle cx="343.9" cy="521.4" r="2.35"/><circle cx="305.2" cy="491.5" r="2.35"/><circle cx="299.0" cy="507.0" r="2.35"/><circle cx="340.8" cy="501.3" r="2.35"/><circle cx="350.7" cy="523.1" r="2.35"/><circle cx="289.4" cy="510.9" r="2.35"/><circle cx="295.2" cy="497.7" r="2.35"/><circle cx="326.3" cy="533.5" r="2.35"/><circle cx="306.5" cy="493.7" r="2.35"/><circle cx="366.9" cy="494.9" r="2.35"/><circle cx="323.6" cy="509.1" r="2.35"/><circle cx="296.5" cy="498.9" r="2.35"/><circle cx="318.8" cy="488.8" r="2.35"/><circle cx="359.3" cy="524.2" r="2.35"/><circle cx="298.8" cy="476.5" r="2.35"/><circle cx="341.6" cy="485.9" r="2.35"/><circle cx="358.1" cy="508.9" r="2.35"/><circle cx="307.3" cy="503.4" r="2.35"/><circle cx="364.8" cy="498.9" r="2.35"/><circle cx="345.4" cy="508.4" r="2.35"/><circle cx="295.1" cy="500.7" r="2.35"/><circle cx="296.7" cy="499.7" r="2.35"/><circle cx="331.9" cy="496.6" r="2.35"/><circle cx="319.7" cy="511.7" r="2.35"/><circle cx="367.7" cy="517.7" r="2.35"/><circle cx="287.5" cy="501.6" r="2.35"/><circle cx="336.7" cy="506.4" r="2.35"/><circle cx="348.1" cy="509.0" r="2.35"/><circle cx="311.3" cy="480.4" r="2.35"/><circle cx="330.4" cy="507.8" r="2.35"/><circle cx="315.2" cy="500.2" r="2.35"/><circle cx="342.4" cy="523.0" r="2.35"/><circle cx="298.0" cy="504.0" r="2.35"/><circle cx="327.4" cy="498.2" r="2.35"/><circle cx="336.6" cy="524.6" r="2.35"/><circle cx="293.7" cy="517.6" r="2.35"/><circle cx="325.0" cy="490.1" r="2.35"/><circle cx="300.8" cy="477.8" r="2.35"/><circle cx="288.7" cy="487.6" r="2.35"/><circle cx="334.3" cy="506.9" r="2.35"/><circle cx="321.4" cy="489.6" r="2.35"/><circle cx="350.5" cy="506.0" r="2.35"/><circle cx="354.9" cy="503.8" r="2.35"/><circle cx="343.1" cy="516.9" r="2.35"/><circle cx="337.2" cy="511.3" r="2.35"/><circle cx="336.2" cy="528.2" r="2.35"/><circle cx="367.2" cy="493.5" r="2.35"/><circle cx="350.9" cy="510.3" r="2.35"/><circle cx="303.8" cy="510.4" r="2.35"/><circle cx="326.4" cy="497.0" r="2.35"/><circle cx="315.4" cy="492.0" r="2.35"/><circle cx="309.3" cy="514.1" r="2.35"/><circle cx="307.7" cy="504.6" r="2.35"/><circle cx="306.1" cy="517.4" r="2.35"/><circle cx="365.5" cy="511.1" r="2.35"/><circle cx="337.8" cy="502.9" r="2.35"/><circle cx="284.5" cy="489.9" r="2.35"/><circle cx="312.5" cy="513.8" r="2.35"/><circle cx="368.0" cy="510.0" r="2.35"/><circle cx="336.1" cy="501.4" r="2.35"/><circle cx="361.3" cy="493.7" r="2.35"/><circle cx="366.5" cy="520.7" r="2.35"/><circle cx="352.1" cy="518.0" r="2.35"/><circle cx="326.8" cy="498.4" r="2.35"/><circle cx="340.2" cy="530.7" r="2.35"/><circle cx="315.0" cy="502.8" r="2.35"/><circle cx="314.8" cy="524.2" r="2.35"/><circle cx="338.5" cy="524.7" r="2.35"/><circle cx="302.6" cy="499.4" r="2.35"/><circle cx="363.8" cy="517.4" r="2.35"/><circle cx="285.2" cy="506.6" r="2.35"/><circle cx="316.3" cy="500.5" r="2.35"/><circle cx="366.8" cy="530.6" r="2.35"/><circle cx="322.8" cy="496.9" r="2.35"/><circle cx="322.0" cy="497.4" r="2.35"/><circle cx="343.6" cy="503.9" r="2.35"/><circle cx="314.7" cy="487.9" r="2.35"/><circle cx="292.7" cy="489.5" r="2.35"/><circle cx="354.3" cy="502.1" r="2.35"/><circle cx="286.3" cy="511.3" r="2.35"/><circle cx="347.5" cy="496.5" r="2.35"/><circle cx="349.1" cy="523.0" r="2.35"/><circle cx="289.3" cy="482.5" r="2.35"/><circle cx="293.8" cy="510.6" r="2.35"/><circle cx="292.8" cy="487.4" r="2.35"/><circle cx="345.4" cy="504.6" r="2.35"/><circle cx="356.6" cy="503.5" r="2.35"/></g><polygon points="282.2,488.9 291.1,491.6 300.0,494.1 308.9,496.5 317.8,498.7 326.6,500.7 335.5,502.5 344.4,504.2 353.3,505.7 362.2,507.0 371.1,508.1 371.1,516.5 362.2,513.8 353.3,511.2 344.4,508.9 335.5,506.7 326.6,504.7 317.8,502.9 308.9,501.2 300.0,499.7 291.1,498.4 282.2,497.3" fill="#3a3aa6" fill-opacity="0.5" stroke="#3030a0" stroke-opacity="0.5" stroke-width="0.5"/><line x1="282.2" y1="493.1" x2="371.1" y2="512.3" stroke="#2a2a8a" stroke-width="0.9" stroke-opacity="0.8"/></g><rect x="282.2" y="464.7" width="88.90000000000003" height="83.50000000000006" fill="none" stroke="#1a1a1a" stroke-width="1.1"/><line x1="282.2" y1="464.2" x2="282.2" y2="548.7" stroke="#111" stroke-width="1.5" /><line x1="281.7" y1="548.2" x2="371.6" y2="548.2" stroke="#111" stroke-width="1.5" /><line x1="279.7" y1="548.5" x2="282.2" y2="548.5" stroke="#222" stroke-width="1.0" /><line x1="279.7" y1="544.5" x2="282.2" y2="544.5" stroke="#222" stroke-width="1.0" /><line x1="279.7" y1="539.5" x2="282.2" y2="539.5" stroke="#222" stroke-width="1.0" /><line x1="279.7" y1="535.5" x2="282.2" y2="535.5" stroke="#222" stroke-width="1.0" /><line x1="279.7" y1="531.5" x2="282.2" y2="531.5" stroke="#222" stroke-width="1.0" /><line x1="279.7" y1="527.5" x2="282.2" y2="527.5" stroke="#222" stroke-width="1.0" /><line x1="279.7" y1="523.5" x2="282.2" y2="523.5" stroke="#222" stroke-width="1.0" /><line x1="279.7" y1="518.5" x2="282.2" y2="518.5" stroke="#222" stroke-width="1.0" /><line x1="279.7" y1="514.5" x2="282.2" y2="514.5" stroke="#222" stroke-width="1.0" /><line x1="279.7" y1="510.5" x2="282.2" y2="510.5" stroke="#222" stroke-width="1.0" /><line x1="279.7" y1="506.5" x2="282.2" y2="506.5" stroke="#222" stroke-width="1.0" /><line x1="279.7" y1="502.5" x2="282.2" y2="502.5" stroke="#222" stroke-width="1.0" /><line x1="279.7" y1="498.5" x2="282.2" y2="498.5" stroke="#222" stroke-width="1.0" /><line x1="279.7" y1="493.5" x2="282.2" y2="493.5" stroke="#222" stroke-width="1.0" /><line x1="279.7" y1="489.5" x2="282.2" y2="489.5" stroke="#222" stroke-width="1.0" /><line x1="279.7" y1="485.5" x2="282.2" y2="485.5" stroke="#222" stroke-width="1.0" /><line x1="279.7" y1="481.5" x2="282.2" y2="481.5" stroke="#222" stroke-width="1.0" /><line x1="279.7" y1="477.5" x2="282.2" y2="477.5" stroke="#222" stroke-width="1.0" /><line x1="279.7" y1="473.5" x2="282.2" y2="473.5" stroke="#222" stroke-width="1.0" /><line x1="279.7" y1="468.5" x2="282.2" y2="468.5" stroke="#222" stroke-width="1.0" /><line x1="279.7" y1="464.5" x2="282.2" y2="464.5" stroke="#222" stroke-width="1.0" /><line x1="279.0" y1="464.7" x2="282.2" y2="464.7" stroke="#222" stroke-width="1.0" /><text x="259.7" y="467.09999999999997" font-size="6.7" fill="#333" textLength="13.8" lengthAdjust="spacingAndGlyphs">1x10</text><text x="273.8" y="463.9" font-size="4.3" fill="#333">6</text><line x1="279.0" y1="506.5" x2="282.2" y2="506.5" stroke="#222" stroke-width="1.0" /><text x="259.7" y="508.9" font-size="6.7" fill="#333" textLength="13.8" lengthAdjust="spacingAndGlyphs">5x10</text><text x="273.8" y="505.7" font-size="4.3" fill="#333">5</text><line x1="279.0" y1="548.2" x2="282.2" y2="548.2" stroke="#222" stroke-width="1.0" /><text x="276.9" y="550.6" font-size="6.8" text-anchor="end" fill="#333" font-weight="normal" >0</text><line x1="282.2" y1="548.2" x2="282.2" y2="551.2" stroke="#222" stroke-width="1.0" /><text x="282.2" y="558.7" font-size="6.6" text-anchor="middle" fill="#333" font-weight="normal" textLength="8.4" lengthAdjust="spacingAndGlyphs" >0.0</text><line x1="300.0" y1="548.2" x2="300.0" y2="551.2" stroke="#222" stroke-width="1.0" /><text x="300.0" y="558.7" font-size="6.6" text-anchor="middle" fill="#333" font-weight="normal" textLength="8.4" lengthAdjust="spacingAndGlyphs" >0.2</text><line x1="317.8" y1="548.2" x2="317.8" y2="551.2" stroke="#222" stroke-width="1.0" /><text x="317.8" y="558.7" font-size="6.6" text-anchor="middle" fill="#333" font-weight="normal" textLength="8.4" lengthAdjust="spacingAndGlyphs" >0.4</text><line x1="335.5" y1="548.2" x2="335.5" y2="551.2" stroke="#222" stroke-width="1.0" /><text x="335.5" y="558.7" font-size="6.6" text-anchor="middle" fill="#333" font-weight="normal" textLength="8.4" lengthAdjust="spacingAndGlyphs" >0.6</text><line x1="353.3" y1="548.2" x2="353.3" y2="551.2" stroke="#222" stroke-width="1.0" /><text x="353.3" y="558.7" font-size="6.6" text-anchor="middle" fill="#333" font-weight="normal" textLength="8.4" lengthAdjust="spacingAndGlyphs" >0.8</text><line x1="371.1" y1="548.2" x2="371.1" y2="551.2" stroke="#222" stroke-width="1.0" /><text x="371.1" y="558.7" font-size="6.6" text-anchor="middle" fill="#333" font-weight="normal" textLength="8.4" lengthAdjust="spacingAndGlyphs" >1.0</text><text transform="translate(255.6,506.8) rotate(-90)" font-size="8.2" text-anchor="middle" fill="#333" textLength="24.6" lengthAdjust="spacingAndGlyphs">AC (3:0)</text><text x="287.5" y="537.2" font-size="6.2" text-anchor="start" fill="#222" font-weight="normal" textLength="26" lengthAdjust="spacingAndGlyphs" >r = –0.468</text><text x="287.5" y="543.8" font-size="6.2" text-anchor="start" fill="#222" font-weight="normal" textLength="47.5" lengthAdjust="spacingAndGlyphs" >–log10(p) = 35.98</text><clipPath id="c202"><rect x="418.6" y="464.7" width="88.39999999999998" height="83.50000000000006"/></clipPath><g clip-path="url(#c202)"><g fill="#4f4fb0" fill-opacity="0.42" stroke="#2e2e96" stroke-opacity="0.25" stroke-width="0.4"><circle cx="485.3" cy="528.9" r="2.35"/><circle cx="477.9" cy="519.4" r="2.35"/><circle cx="456.6" cy="508.8" r="2.35"/><circle cx="437.3" cy="514.6" r="2.35"/><circle cx="472.3" cy="540.3" r="2.35"/><circle cx="448.0" cy="517.4" r="2.35"/><circle cx="481.2" cy="525.8" r="2.35"/><circle cx="423.2" cy="528.4" r="2.35"/><circle cx="460.4" cy="520.7" r="2.35"/><circle cx="496.8" cy="522.5" r="2.35"/><circle cx="485.9" cy="528.0" r="2.35"/><circle cx="435.2" cy="513.5" r="2.35"/><circle cx="438.9" cy="514.0" r="2.35"/><circle cx="437.0" cy="521.9" r="2.35"/><circle cx="436.5" cy="496.7" r="2.35"/><circle cx="505.3" cy="523.4" r="2.35"/><circle cx="425.0" cy="521.6" r="2.35"/><circle cx="464.6" cy="508.5" r="2.35"/><circle cx="449.9" cy="512.8" r="2.35"/><circle cx="449.9" cy="491.1" r="2.35"/><circle cx="470.3" cy="492.0" r="2.35"/><circle cx="502.9" cy="468.8" r="2.35"/><circle cx="429.1" cy="507.1" r="2.35"/><circle cx="477.9" cy="506.7" r="2.35"/><circle cx="445.9" cy="513.8" r="2.35"/><circle cx="435.9" cy="518.7" r="2.35"/><circle cx="431.5" cy="540.7" r="2.35"/><circle cx="449.7" cy="531.1" r="2.35"/><circle cx="422.4" cy="512.2" r="2.35"/><circle cx="433.5" cy="538.3" r="2.35"/><circle cx="475.8" cy="519.8" r="2.35"/><circle cx="462.5" cy="531.4" r="2.35"/><circle cx="478.3" cy="520.0" r="2.35"/><circle cx="423.2" cy="505.3" r="2.35"/><circle cx="484.7" cy="522.2" r="2.35"/><circle cx="477.0" cy="529.1" r="2.35"/><circle cx="471.6" cy="518.0" r="2.35"/><circle cx="473.0" cy="512.8" r="2.35"/><circle cx="421.8" cy="471.7" r="2.35"/><circle cx="475.4" cy="512.6" r="2.35"/><circle cx="463.6" cy="496.3" r="2.35"/><circle cx="468.3" cy="531.6" r="2.35"/><circle cx="451.8" cy="531.7" r="2.35"/><circle cx="471.6" cy="520.3" r="2.35"/><circle cx="452.9" cy="529.2" r="2.35"/><circle cx="441.6" cy="522.9" r="2.35"/><circle cx="462.1" cy="526.4" r="2.35"/><circle cx="501.3" cy="514.0" r="2.35"/><circle cx="451.5" cy="508.3" r="2.35"/><circle cx="424.5" cy="527.0" r="2.35"/><circle cx="467.3" cy="534.8" r="2.35"/><circle cx="483.2" cy="502.1" r="2.35"/><circle cx="439.5" cy="522.7" r="2.35"/><circle cx="436.6" cy="531.4" r="2.35"/><circle cx="498.5" cy="490.2" r="2.35"/><circle cx="479.2" cy="534.8" r="2.35"/><circle cx="444.8" cy="491.7" r="2.35"/><circle cx="432.1" cy="518.0" r="2.35"/><circle cx="445.8" cy="517.2" r="2.35"/><circle cx="454.7" cy="537.5" r="2.35"/><circle cx="424.3" cy="524.6" r="2.35"/><circle cx="430.8" cy="512.9" r="2.35"/><circle cx="447.9" cy="508.3" r="2.35"/><circle cx="442.4" cy="522.7" r="2.35"/><circle cx="480.3" cy="493.9" r="2.35"/><circle cx="483.4" cy="497.5" r="2.35"/><circle cx="473.7" cy="530.3" r="2.35"/><circle cx="480.7" cy="531.2" r="2.35"/><circle cx="482.9" cy="525.7" r="2.35"/><circle cx="464.9" cy="527.5" r="2.35"/><circle cx="437.2" cy="522.2" r="2.35"/><circle cx="434.4" cy="484.5" r="2.35"/><circle cx="452.6" cy="469.9" r="2.35"/><circle cx="470.5" cy="516.4" r="2.35"/><circle cx="451.6" cy="504.8" r="2.35"/><circle cx="501.5" cy="522.1" r="2.35"/><circle cx="476.9" cy="539.3" r="2.35"/><circle cx="441.3" cy="496.9" r="2.35"/><circle cx="461.5" cy="492.4" r="2.35"/><circle cx="425.8" cy="532.0" r="2.35"/><circle cx="489.3" cy="523.9" r="2.35"/><circle cx="452.4" cy="517.2" r="2.35"/><circle cx="422.0" cy="494.8" r="2.35"/><circle cx="481.6" cy="523.8" r="2.35"/><circle cx="457.4" cy="513.0" r="2.35"/><circle cx="463.7" cy="516.4" r="2.35"/><circle cx="475.4" cy="533.7" r="2.35"/><circle cx="430.2" cy="503.8" r="2.35"/><circle cx="493.4" cy="518.7" r="2.35"/><circle cx="473.0" cy="531.9" r="2.35"/><circle cx="445.6" cy="512.8" r="2.35"/><circle cx="451.3" cy="512.9" r="2.35"/><circle cx="438.0" cy="514.2" r="2.35"/><circle cx="464.2" cy="519.6" r="2.35"/><circle cx="464.9" cy="533.7" r="2.35"/><circle cx="494.9" cy="501.7" r="2.35"/><circle cx="431.4" cy="514.4" r="2.35"/><circle cx="485.0" cy="521.9" r="2.35"/><circle cx="427.3" cy="539.0" r="2.35"/><circle cx="497.9" cy="529.5" r="2.35"/><circle cx="482.0" cy="497.0" r="2.35"/><circle cx="450.1" cy="521.1" r="2.35"/><circle cx="491.5" cy="528.3" r="2.35"/><circle cx="452.6" cy="521.8" r="2.35"/><circle cx="437.8" cy="507.9" r="2.35"/><circle cx="455.9" cy="508.0" r="2.35"/><circle cx="500.7" cy="529.3" r="2.35"/><circle cx="486.1" cy="515.1" r="2.35"/><circle cx="455.1" cy="524.4" r="2.35"/><circle cx="488.3" cy="523.7" r="2.35"/><circle cx="441.4" cy="512.3" r="2.35"/><circle cx="482.4" cy="528.1" r="2.35"/><circle cx="430.5" cy="516.4" r="2.35"/><circle cx="476.1" cy="532.9" r="2.35"/><circle cx="436.3" cy="534.6" r="2.35"/><circle cx="504.0" cy="497.6" r="2.35"/><circle cx="452.9" cy="526.1" r="2.35"/><circle cx="457.5" cy="521.1" r="2.35"/><circle cx="424.3" cy="531.2" r="2.35"/><circle cx="422.6" cy="519.1" r="2.35"/><circle cx="460.6" cy="517.1" r="2.35"/><circle cx="472.8" cy="517.2" r="2.35"/><circle cx="456.1" cy="516.4" r="2.35"/><circle cx="500.2" cy="522.7" r="2.35"/><circle cx="459.2" cy="492.5" r="2.35"/><circle cx="493.6" cy="498.5" r="2.35"/><circle cx="491.8" cy="526.0" r="2.35"/><circle cx="479.6" cy="504.3" r="2.35"/><circle cx="429.9" cy="515.3" r="2.35"/><circle cx="428.0" cy="515.6" r="2.35"/><circle cx="492.6" cy="521.5" r="2.35"/><circle cx="475.3" cy="520.7" r="2.35"/><circle cx="468.5" cy="506.2" r="2.35"/><circle cx="429.2" cy="525.8" r="2.35"/><circle cx="463.4" cy="523.7" r="2.35"/><circle cx="456.8" cy="531.5" r="2.35"/><circle cx="465.2" cy="518.0" r="2.35"/><circle cx="424.4" cy="500.5" r="2.35"/><circle cx="477.0" cy="516.2" r="2.35"/><circle cx="478.9" cy="521.0" r="2.35"/><circle cx="499.5" cy="488.9" r="2.35"/><circle cx="420.8" cy="498.0" r="2.35"/><circle cx="474.8" cy="531.2" r="2.35"/><circle cx="472.0" cy="516.1" r="2.35"/><circle cx="464.1" cy="510.9" r="2.35"/><circle cx="480.0" cy="524.0" r="2.35"/><circle cx="428.8" cy="536.1" r="2.35"/><circle cx="494.6" cy="510.5" r="2.35"/><circle cx="476.0" cy="510.6" r="2.35"/><circle cx="443.0" cy="531.0" r="2.35"/><circle cx="451.2" cy="530.8" r="2.35"/><circle cx="505.0" cy="521.1" r="2.35"/><circle cx="501.0" cy="501.6" r="2.35"/><circle cx="486.5" cy="517.5" r="2.35"/><circle cx="428.4" cy="496.1" r="2.35"/><circle cx="448.5" cy="501.5" r="2.35"/><circle cx="437.7" cy="511.8" r="2.35"/><circle cx="481.1" cy="511.7" r="2.35"/><circle cx="471.0" cy="501.4" r="2.35"/><circle cx="496.5" cy="540.1" r="2.35"/><circle cx="464.0" cy="509.4" r="2.35"/><circle cx="455.9" cy="538.2" r="2.35"/><circle cx="493.7" cy="527.5" r="2.35"/><circle cx="466.7" cy="518.8" r="2.35"/><circle cx="452.3" cy="520.9" r="2.35"/><circle cx="472.7" cy="517.9" r="2.35"/><circle cx="449.3" cy="503.8" r="2.35"/><circle cx="485.7" cy="531.7" r="2.35"/><circle cx="476.7" cy="524.8" r="2.35"/><circle cx="436.6" cy="531.5" r="2.35"/><circle cx="488.7" cy="520.6" r="2.35"/><circle cx="477.4" cy="521.9" r="2.35"/><circle cx="470.5" cy="531.1" r="2.35"/><circle cx="480.3" cy="519.1" r="2.35"/><circle cx="482.7" cy="501.5" r="2.35"/><circle cx="439.6" cy="514.1" r="2.35"/><circle cx="498.6" cy="540.1" r="2.35"/><circle cx="489.7" cy="499.4" r="2.35"/><circle cx="429.7" cy="497.7" r="2.35"/><circle cx="452.6" cy="518.7" r="2.35"/><circle cx="424.1" cy="510.8" r="2.35"/><circle cx="493.9" cy="540.6" r="2.35"/><circle cx="452.7" cy="528.7" r="2.35"/><circle cx="467.4" cy="521.7" r="2.35"/><circle cx="425.3" cy="516.8" r="2.35"/><circle cx="424.6" cy="490.4" r="2.35"/><circle cx="483.7" cy="510.2" r="2.35"/><circle cx="502.2" cy="524.5" r="2.35"/><circle cx="424.8" cy="522.3" r="2.35"/><circle cx="490.2" cy="540.2" r="2.35"/><circle cx="486.1" cy="539.9" r="2.35"/><circle cx="440.0" cy="522.2" r="2.35"/><circle cx="460.5" cy="507.6" r="2.35"/><circle cx="441.9" cy="507.8" r="2.35"/><circle cx="501.0" cy="518.7" r="2.35"/><circle cx="449.7" cy="514.0" r="2.35"/><circle cx="496.0" cy="535.1" r="2.35"/><circle cx="493.3" cy="532.3" r="2.35"/><circle cx="482.4" cy="535.4" r="2.35"/><circle cx="449.5" cy="510.2" r="2.35"/><circle cx="432.9" cy="525.3" r="2.35"/><circle cx="468.7" cy="518.3" r="2.35"/><circle cx="497.7" cy="525.7" r="2.35"/><circle cx="438.4" cy="506.4" r="2.35"/><circle cx="466.5" cy="506.1" r="2.35"/><circle cx="429.6" cy="509.0" r="2.35"/><circle cx="467.7" cy="529.5" r="2.35"/><circle cx="426.9" cy="518.1" r="2.35"/><circle cx="503.5" cy="487.7" r="2.35"/><circle cx="499.3" cy="519.8" r="2.35"/><circle cx="485.8" cy="523.2" r="2.35"/><circle cx="446.0" cy="524.7" r="2.35"/><circle cx="467.1" cy="513.4" r="2.35"/><circle cx="435.2" cy="524.1" r="2.35"/><circle cx="486.8" cy="535.7" r="2.35"/><circle cx="501.0" cy="527.1" r="2.35"/><circle cx="502.5" cy="526.2" r="2.35"/><circle cx="478.5" cy="510.1" r="2.35"/><circle cx="444.7" cy="503.3" r="2.35"/><circle cx="482.0" cy="521.1" r="2.35"/><circle cx="481.1" cy="529.5" r="2.35"/><circle cx="429.9" cy="512.3" r="2.35"/><circle cx="430.6" cy="521.8" r="2.35"/><circle cx="452.7" cy="484.9" r="2.35"/><circle cx="437.0" cy="523.9" r="2.35"/><circle cx="503.0" cy="506.0" r="2.35"/><circle cx="480.8" cy="509.2" r="2.35"/><circle cx="422.2" cy="520.0" r="2.35"/><circle cx="454.7" cy="495.3" r="2.35"/><circle cx="434.8" cy="513.8" r="2.35"/><circle cx="427.6" cy="521.0" r="2.35"/><circle cx="456.5" cy="524.9" r="2.35"/><circle cx="420.7" cy="513.4" r="2.35"/><circle cx="500.5" cy="523.2" r="2.35"/><circle cx="428.6" cy="507.5" r="2.35"/><circle cx="460.5" cy="485.8" r="2.35"/><circle cx="491.4" cy="520.8" r="2.35"/><circle cx="462.1" cy="523.6" r="2.35"/><circle cx="480.7" cy="533.6" r="2.35"/><circle cx="461.5" cy="506.7" r="2.35"/><circle cx="422.1" cy="516.8" r="2.35"/><circle cx="457.4" cy="510.1" r="2.35"/><circle cx="490.1" cy="530.0" r="2.35"/><circle cx="504.8" cy="532.0" r="2.35"/><circle cx="495.4" cy="518.4" r="2.35"/><circle cx="447.4" cy="521.9" r="2.35"/><circle cx="491.1" cy="525.7" r="2.35"/><circle cx="483.5" cy="524.5" r="2.35"/><circle cx="451.3" cy="521.3" r="2.35"/><circle cx="437.3" cy="511.5" r="2.35"/><circle cx="492.9" cy="527.0" r="2.35"/><circle cx="420.5" cy="498.1" r="2.35"/><circle cx="493.0" cy="480.5" r="2.35"/><circle cx="487.9" cy="523.9" r="2.35"/><circle cx="479.5" cy="525.9" r="2.35"/><circle cx="502.2" cy="541.3" r="2.35"/><circle cx="456.6" cy="516.6" r="2.35"/><circle cx="502.4" cy="525.8" r="2.35"/><circle cx="487.9" cy="529.6" r="2.35"/><circle cx="460.3" cy="494.1" r="2.35"/><circle cx="501.8" cy="519.7" r="2.35"/><circle cx="476.4" cy="526.9" r="2.35"/><circle cx="442.5" cy="500.5" r="2.35"/><circle cx="451.2" cy="523.0" r="2.35"/><circle cx="453.0" cy="507.5" r="2.35"/><circle cx="440.0" cy="520.5" r="2.35"/><circle cx="453.4" cy="496.8" r="2.35"/><circle cx="468.3" cy="508.6" r="2.35"/><circle cx="432.1" cy="496.3" r="2.35"/><circle cx="433.6" cy="517.3" r="2.35"/><circle cx="464.9" cy="519.5" r="2.35"/><circle cx="474.7" cy="539.2" r="2.35"/><circle cx="444.7" cy="511.7" r="2.35"/><circle cx="445.9" cy="515.5" r="2.35"/><circle cx="463.4" cy="527.6" r="2.35"/><circle cx="492.4" cy="528.4" r="2.35"/><circle cx="423.4" cy="537.6" r="2.35"/><circle cx="501.3" cy="524.1" r="2.35"/><circle cx="455.2" cy="540.7" r="2.35"/><circle cx="453.7" cy="523.2" r="2.35"/></g><polygon points="418.6,509.0 427.4,510.9 436.3,512.7 445.1,514.3 454.0,515.7 462.8,517.0 471.6,518.1 480.5,519.0 489.3,519.7 498.2,520.3 507.0,520.6 507.0,529.0 498.2,527.0 489.3,525.3 480.5,523.7 471.6,522.2 462.8,521.0 454.0,519.9 445.1,519.0 436.3,518.3 427.4,517.7 418.6,517.3" fill="#3a3aa6" fill-opacity="0.5" stroke="#3030a0" stroke-opacity="0.5" stroke-width="0.5"/><line x1="418.6" y1="513.1" x2="507.0" y2="524.8" stroke="#2a2a8a" stroke-width="0.9" stroke-opacity="0.8"/></g><rect x="418.6" y="464.7" width="88.39999999999998" height="83.50000000000006" fill="none" stroke="#1a1a1a" stroke-width="1.1"/><line x1="418.6" y1="464.2" x2="418.6" y2="548.7" stroke="#111" stroke-width="1.5" /><line x1="418.1" y1="548.2" x2="507.5" y2="548.2" stroke="#111" stroke-width="1.5" /><line x1="415.40000000000003" y1="464.7" x2="418.6" y2="464.7" stroke="#222" stroke-width="1.0" /><text x="396.1" y="467.09999999999997" font-size="6.7" fill="#333" textLength="13.8" lengthAdjust="spacingAndGlyphs">1x10</text><text x="410.20000000000005" y="463.9" font-size="4.3" fill="#333">5</text><line x1="415.40000000000003" y1="481.4" x2="418.6" y2="481.4" stroke="#222" stroke-width="1.0" /><text x="396.1" y="483.79999999999995" font-size="6.7" fill="#333" textLength="13.8" lengthAdjust="spacingAndGlyphs">8x10</text><text x="410.20000000000005" y="480.59999999999997" font-size="4.3" fill="#333">4</text><line x1="415.40000000000003" y1="498.1" x2="418.6" y2="498.1" stroke="#222" stroke-width="1.0" /><text x="396.1" y="500.5" font-size="6.7" fill="#333" textLength="13.8" lengthAdjust="spacingAndGlyphs">6x10</text><text x="410.20000000000005" y="497.3" font-size="4.3" fill="#333">4</text><line x1="415.40000000000003" y1="514.8" x2="418.6" y2="514.8" stroke="#222" stroke-width="1.0" /><text x="396.1" y="517.1999999999999" font-size="6.7" fill="#333" textLength="13.8" lengthAdjust="spacingAndGlyphs">4x10</text><text x="410.20000000000005" y="513.9999999999999" font-size="4.3" fill="#333">4</text><line x1="415.40000000000003" y1="531.5" x2="418.6" y2="531.5" stroke="#222" stroke-width="1.0" /><text x="396.1" y="533.9" font-size="6.7" fill="#333" textLength="13.8" lengthAdjust="spacingAndGlyphs">2x10</text><text x="410.20000000000005" y="530.6999999999999" font-size="4.3" fill="#333">4</text><line x1="415.40000000000003" y1="548.2" x2="418.6" y2="548.2" stroke="#222" stroke-width="1.0" /><text x="413.3" y="550.6" font-size="6.8" text-anchor="end" fill="#333" font-weight="normal" >0</text><line x1="418.6" y1="548.2" x2="418.6" y2="551.2" stroke="#222" stroke-width="1.0" /><text x="418.6" y="558.7" font-size="6.6" text-anchor="middle" fill="#333" font-weight="normal" textLength="8.4" lengthAdjust="spacingAndGlyphs" >0.0</text><line x1="436.3" y1="548.2" x2="436.3" y2="551.2" stroke="#222" stroke-width="1.0" /><text x="436.3" y="558.7" font-size="6.6" text-anchor="middle" fill="#333" font-weight="normal" textLength="8.4" lengthAdjust="spacingAndGlyphs" >0.2</text><line x1="454.0" y1="548.2" x2="454.0" y2="551.2" stroke="#222" stroke-width="1.0" /><text x="454.0" y="558.7" font-size="6.6" text-anchor="middle" fill="#333" font-weight="normal" textLength="8.4" lengthAdjust="spacingAndGlyphs" >0.4</text><line x1="471.6" y1="548.2" x2="471.6" y2="551.2" stroke="#222" stroke-width="1.0" /><text x="471.6" y="558.7" font-size="6.6" text-anchor="middle" fill="#333" font-weight="normal" textLength="8.4" lengthAdjust="spacingAndGlyphs" >0.6</text><line x1="489.3" y1="548.2" x2="489.3" y2="551.2" stroke="#222" stroke-width="1.0" /><text x="489.3" y="558.7" font-size="6.6" text-anchor="middle" fill="#333" font-weight="normal" textLength="8.4" lengthAdjust="spacingAndGlyphs" >0.8</text><line x1="507.0" y1="548.2" x2="507.0" y2="551.2" stroke="#222" stroke-width="1.0" /><text x="507.0" y="558.7" font-size="6.6" text-anchor="middle" fill="#333" font-weight="normal" textLength="8.4" lengthAdjust="spacingAndGlyphs" >1.0</text><text transform="translate(391.5,506.8) rotate(-90)" font-size="8.2" text-anchor="middle" fill="#333" textLength="35.5" lengthAdjust="spacingAndGlyphs">AC (6:0-OH)</text><text x="470.3" y="473.2" font-size="6.2" text-anchor="start" fill="#222" font-weight="normal" textLength="30.2" lengthAdjust="spacingAndGlyphs" >r = –0.3473</text><text x="449.5" y="479.9" font-size="6.2" text-anchor="start" fill="#222" font-weight="normal" textLength="51" lengthAdjust="spacingAndGlyphs" >–log10(p) = 10.478</text><clipPath id="c303"><rect x="282.2" y="574.5" width="88.40000000000003" height="82.89999999999998"/></clipPath><g clip-path="url(#c303)"><g fill="#4f4fb0" fill-opacity="0.42" stroke="#2e2e96" stroke-opacity="0.25" stroke-width="0.4"><circle cx="286.4" cy="608.2" r="2.35"/><circle cx="368.6" cy="639.6" r="2.35"/><circle cx="327.8" cy="650.8" r="2.35"/><circle cx="354.4" cy="640.5" r="2.35"/><circle cx="330.2" cy="621.3" r="2.35"/><circle cx="294.1" cy="649.4" r="2.35"/><circle cx="353.9" cy="636.0" r="2.35"/><circle cx="363.9" cy="647.5" r="2.35"/><circle cx="312.6" cy="648.1" r="2.35"/><circle cx="343.6" cy="621.9" r="2.35"/><circle cx="339.5" cy="649.5" r="2.35"/><circle cx="365.6" cy="586.8" r="2.35"/><circle cx="368.8" cy="625.2" r="2.35"/><circle cx="348.3" cy="623.6" r="2.35"/><circle cx="294.6" cy="620.5" r="2.35"/><circle cx="338.7" cy="626.5" r="2.35"/><circle cx="306.8" cy="605.1" r="2.35"/><circle cx="355.5" cy="579.8" r="2.35"/><circle cx="352.4" cy="640.1" r="2.35"/><circle cx="287.0" cy="607.7" r="2.35"/><circle cx="303.9" cy="623.9" r="2.35"/><circle cx="344.9" cy="647.3" r="2.35"/><circle cx="295.2" cy="634.2" r="2.35"/><circle cx="339.4" cy="638.3" r="2.35"/><circle cx="305.8" cy="633.1" r="2.35"/><circle cx="305.3" cy="605.4" r="2.35"/><circle cx="341.4" cy="651.0" r="2.35"/><circle cx="365.6" cy="645.2" r="2.35"/><circle cx="289.7" cy="627.0" r="2.35"/><circle cx="301.8" cy="640.5" r="2.35"/><circle cx="312.7" cy="633.4" r="2.35"/><circle cx="339.8" cy="648.8" r="2.35"/><circle cx="317.6" cy="640.6" r="2.35"/><circle cx="322.8" cy="633.1" r="2.35"/><circle cx="310.8" cy="619.6" r="2.35"/><circle cx="337.6" cy="641.8" r="2.35"/><circle cx="362.2" cy="651.0" r="2.35"/><circle cx="306.7" cy="628.6" r="2.35"/><circle cx="364.3" cy="597.5" r="2.35"/><circle cx="352.3" cy="649.1" r="2.35"/><circle cx="353.1" cy="650.8" r="2.35"/><circle cx="327.1" cy="628.9" r="2.35"/><circle cx="317.3" cy="636.4" r="2.35"/><circle cx="285.5" cy="628.8" r="2.35"/><circle cx="305.6" cy="629.4" r="2.35"/><circle cx="285.9" cy="621.6" r="2.35"/><circle cx="287.3" cy="580.0" r="2.35"/><circle cx="357.0" cy="648.9" r="2.35"/><circle cx="310.8" cy="639.1" r="2.35"/><circle cx="307.3" cy="587.0" r="2.35"/><circle cx="344.7" cy="654.5" r="2.35"/><circle cx="356.9" cy="649.6" r="2.35"/><circle cx="361.8" cy="643.4" r="2.35"/><circle cx="362.5" cy="646.5" r="2.35"/><circle cx="315.9" cy="618.9" r="2.35"/><circle cx="322.1" cy="623.2" r="2.35"/><circle cx="349.1" cy="645.4" r="2.35"/><circle cx="327.1" cy="648.3" r="2.35"/><circle cx="358.0" cy="646.4" r="2.35"/><circle cx="284.7" cy="586.2" r="2.35"/><circle cx="292.3" cy="642.5" r="2.35"/><circle cx="363.6" cy="654.0" r="2.35"/><circle cx="284.2" cy="636.2" r="2.35"/><circle cx="306.7" cy="642.7" r="2.35"/><circle cx="348.9" cy="641.9" r="2.35"/><circle cx="340.6" cy="647.8" r="2.35"/><circle cx="290.0" cy="630.1" r="2.35"/><circle cx="353.4" cy="650.3" r="2.35"/><circle cx="293.4" cy="608.3" r="2.35"/><circle cx="368.1" cy="637.4" r="2.35"/><circle cx="306.8" cy="615.8" r="2.35"/><circle cx="367.6" cy="649.3" r="2.35"/><circle cx="299.6" cy="616.9" r="2.35"/><circle cx="348.9" cy="656.0" r="2.35"/><circle cx="318.1" cy="631.2" r="2.35"/><circle cx="311.4" cy="630.3" r="2.35"/><circle cx="323.0" cy="608.2" r="2.35"/><circle cx="338.5" cy="613.6" r="2.35"/><circle cx="357.3" cy="656.4" r="2.35"/><circle cx="313.3" cy="643.6" r="2.35"/><circle cx="294.7" cy="617.9" r="2.35"/><circle cx="324.4" cy="612.7" r="2.35"/><circle cx="295.0" cy="608.3" r="2.35"/><circle cx="301.4" cy="640.7" r="2.35"/><circle cx="351.4" cy="587.8" r="2.35"/><circle cx="319.8" cy="608.6" r="2.35"/><circle cx="291.4" cy="646.4" r="2.35"/><circle cx="362.6" cy="656.4" r="2.35"/><circle cx="313.7" cy="623.1" r="2.35"/><circle cx="298.2" cy="640.3" r="2.35"/><circle cx="346.3" cy="652.8" r="2.35"/><circle cx="307.0" cy="613.6" r="2.35"/><circle cx="310.7" cy="641.2" r="2.35"/><circle cx="323.2" cy="636.5" r="2.35"/><circle cx="352.7" cy="650.1" r="2.35"/><circle cx="356.5" cy="649.6" r="2.35"/><circle cx="286.9" cy="633.0" r="2.35"/><circle cx="290.2" cy="634.4" r="2.35"/><circle cx="359.0" cy="637.8" r="2.35"/><circle cx="290.5" cy="640.8" r="2.35"/><circle cx="360.8" cy="644.7" r="2.35"/><circle cx="331.7" cy="655.3" r="2.35"/><circle cx="304.6" cy="642.4" r="2.35"/><circle cx="319.6" cy="617.8" r="2.35"/><circle cx="302.4" cy="629.9" r="2.35"/><circle cx="360.4" cy="653.0" r="2.35"/><circle cx="297.7" cy="599.5" r="2.35"/><circle cx="309.5" cy="633.8" r="2.35"/><circle cx="305.7" cy="635.2" r="2.35"/><circle cx="323.5" cy="643.2" r="2.35"/><circle cx="331.1" cy="635.0" r="2.35"/><circle cx="362.7" cy="638.2" r="2.35"/><circle cx="332.4" cy="648.3" r="2.35"/><circle cx="337.3" cy="651.1" r="2.35"/><circle cx="299.9" cy="636.7" r="2.35"/><circle cx="313.9" cy="639.0" r="2.35"/><circle cx="339.9" cy="638.3" r="2.35"/><circle cx="308.8" cy="634.0" r="2.35"/><circle cx="314.9" cy="641.1" r="2.35"/><circle cx="321.8" cy="635.7" r="2.35"/><circle cx="336.0" cy="654.9" r="2.35"/><circle cx="349.0" cy="628.8" r="2.35"/><circle cx="338.0" cy="638.1" r="2.35"/><circle cx="333.8" cy="630.3" r="2.35"/><circle cx="309.0" cy="622.5" r="2.35"/><circle cx="322.4" cy="615.9" r="2.35"/><circle cx="335.4" cy="603.6" r="2.35"/><circle cx="357.0" cy="654.0" r="2.35"/><circle cx="323.5" cy="634.9" r="2.35"/><circle cx="301.0" cy="610.7" r="2.35"/><circle cx="319.8" cy="619.9" r="2.35"/><circle cx="309.7" cy="624.6" r="2.35"/><circle cx="342.6" cy="656.0" r="2.35"/><circle cx="312.3" cy="607.7" r="2.35"/><circle cx="293.0" cy="606.2" r="2.35"/><circle cx="330.8" cy="641.9" r="2.35"/><circle cx="338.2" cy="632.6" r="2.35"/><circle cx="332.8" cy="641.8" r="2.35"/><circle cx="308.4" cy="640.3" r="2.35"/><circle cx="342.0" cy="614.0" r="2.35"/><circle cx="321.4" cy="608.1" r="2.35"/><circle cx="364.7" cy="655.4" r="2.35"/><circle cx="329.0" cy="614.3" r="2.35"/><circle cx="298.6" cy="609.4" r="2.35"/><circle cx="306.9" cy="631.9" r="2.35"/><circle cx="324.9" cy="641.4" r="2.35"/><circle cx="283.8" cy="605.2" r="2.35"/><circle cx="306.8" cy="635.8" r="2.35"/><circle cx="316.0" cy="645.6" r="2.35"/><circle cx="331.8" cy="606.4" r="2.35"/><circle cx="323.5" cy="637.5" r="2.35"/><circle cx="327.9" cy="620.5" r="2.35"/><circle cx="341.6" cy="639.3" r="2.35"/><circle cx="297.3" cy="632.8" r="2.35"/><circle cx="296.4" cy="616.1" r="2.35"/><circle cx="351.3" cy="629.1" r="2.35"/><circle cx="365.7" cy="654.3" r="2.35"/><circle cx="352.9" cy="643.3" r="2.35"/><circle cx="319.9" cy="619.4" r="2.35"/><circle cx="299.2" cy="627.5" r="2.35"/><circle cx="362.2" cy="650.4" r="2.35"/><circle cx="290.8" cy="604.0" r="2.35"/><circle cx="353.6" cy="643.3" r="2.35"/><circle cx="307.8" cy="639.9" r="2.35"/><circle cx="319.1" cy="638.3" r="2.35"/><circle cx="339.8" cy="605.5" r="2.35"/><circle cx="330.4" cy="636.2" r="2.35"/><circle cx="348.3" cy="632.1" r="2.35"/><circle cx="360.3" cy="654.0" r="2.35"/><circle cx="361.6" cy="641.0" r="2.35"/><circle cx="292.3" cy="605.7" r="2.35"/><circle cx="315.8" cy="625.5" r="2.35"/><circle cx="342.7" cy="644.5" r="2.35"/><circle cx="294.8" cy="628.8" r="2.35"/><circle cx="344.3" cy="646.5" r="2.35"/><circle cx="304.1" cy="642.9" r="2.35"/><circle cx="320.1" cy="588.0" r="2.35"/><circle cx="299.7" cy="610.7" r="2.35"/><circle cx="298.3" cy="618.8" r="2.35"/><circle cx="367.7" cy="640.4" r="2.35"/><circle cx="292.1" cy="612.0" r="2.35"/><circle cx="317.9" cy="623.1" r="2.35"/><circle cx="299.2" cy="621.2" r="2.35"/><circle cx="353.4" cy="649.0" r="2.35"/><circle cx="353.0" cy="592.3" r="2.35"/><circle cx="318.4" cy="636.2" r="2.35"/><circle cx="294.6" cy="635.5" r="2.35"/><circle cx="314.5" cy="636.3" r="2.35"/><circle cx="286.4" cy="638.7" r="2.35"/><circle cx="354.9" cy="655.0" r="2.35"/><circle cx="295.2" cy="636.8" r="2.35"/><circle cx="349.0" cy="653.1" r="2.35"/><circle cx="335.7" cy="628.0" r="2.35"/><circle cx="322.4" cy="596.2" r="2.35"/><circle cx="353.5" cy="623.4" r="2.35"/><circle cx="320.7" cy="634.6" r="2.35"/><circle cx="348.3" cy="651.4" r="2.35"/><circle cx="335.8" cy="621.3" r="2.35"/><circle cx="352.1" cy="637.6" r="2.35"/><circle cx="289.3" cy="600.3" r="2.35"/><circle cx="338.2" cy="622.8" r="2.35"/><circle cx="347.2" cy="649.2" r="2.35"/><circle cx="349.0" cy="638.4" r="2.35"/><circle cx="366.9" cy="614.7" r="2.35"/><circle cx="367.7" cy="646.9" r="2.35"/><circle cx="285.9" cy="629.6" r="2.35"/><circle cx="363.1" cy="634.3" r="2.35"/><circle cx="304.9" cy="637.4" r="2.35"/><circle cx="365.6" cy="649.9" r="2.35"/><circle cx="288.4" cy="638.0" r="2.35"/><circle cx="327.0" cy="644.1" r="2.35"/><circle cx="356.4" cy="646.0" r="2.35"/><circle cx="304.1" cy="615.4" r="2.35"/><circle cx="367.4" cy="622.3" r="2.35"/><circle cx="301.9" cy="640.1" r="2.35"/><circle cx="291.6" cy="639.7" r="2.35"/><circle cx="291.3" cy="636.6" r="2.35"/><circle cx="298.5" cy="595.1" r="2.35"/><circle cx="352.3" cy="651.3" r="2.35"/><circle cx="321.2" cy="649.8" r="2.35"/><circle cx="329.9" cy="629.4" r="2.35"/><circle cx="341.9" cy="635.5" r="2.35"/><circle cx="296.3" cy="622.3" r="2.35"/><circle cx="357.3" cy="638.1" r="2.35"/><circle cx="287.0" cy="629.1" r="2.35"/><circle cx="333.3" cy="628.6" r="2.35"/><circle cx="313.5" cy="628.5" r="2.35"/><circle cx="345.2" cy="648.7" r="2.35"/><circle cx="286.5" cy="639.9" r="2.35"/><circle cx="334.9" cy="640.2" r="2.35"/><circle cx="329.1" cy="613.5" r="2.35"/><circle cx="360.8" cy="587.2" r="2.35"/><circle cx="285.8" cy="597.3" r="2.35"/><circle cx="296.6" cy="602.0" r="2.35"/><circle cx="321.0" cy="635.5" r="2.35"/><circle cx="323.2" cy="631.8" r="2.35"/><circle cx="353.1" cy="632.4" r="2.35"/><circle cx="350.9" cy="635.0" r="2.35"/><circle cx="328.1" cy="639.7" r="2.35"/><circle cx="312.1" cy="611.1" r="2.35"/><circle cx="329.2" cy="646.3" r="2.35"/><circle cx="328.9" cy="637.9" r="2.35"/><circle cx="357.5" cy="650.2" r="2.35"/><circle cx="313.9" cy="631.5" r="2.35"/><circle cx="309.1" cy="631.4" r="2.35"/><circle cx="287.0" cy="632.1" r="2.35"/><circle cx="300.4" cy="604.5" r="2.35"/><circle cx="340.2" cy="644.2" r="2.35"/><circle cx="287.3" cy="631.7" r="2.35"/><circle cx="339.7" cy="656.3" r="2.35"/><circle cx="306.6" cy="607.6" r="2.35"/><circle cx="312.4" cy="636.8" r="2.35"/><circle cx="294.9" cy="606.8" r="2.35"/><circle cx="361.9" cy="632.9" r="2.35"/><circle cx="293.6" cy="624.2" r="2.35"/><circle cx="319.4" cy="653.1" r="2.35"/><circle cx="365.7" cy="656.4" r="2.35"/><circle cx="352.2" cy="642.9" r="2.35"/><circle cx="359.2" cy="656.2" r="2.35"/><circle cx="285.5" cy="643.3" r="2.35"/><circle cx="316.4" cy="619.7" r="2.35"/><circle cx="298.0" cy="632.3" r="2.35"/><circle cx="323.2" cy="623.4" r="2.35"/><circle cx="305.1" cy="643.2" r="2.35"/><circle cx="328.0" cy="646.2" r="2.35"/><circle cx="331.6" cy="650.0" r="2.35"/><circle cx="303.0" cy="622.4" r="2.35"/><circle cx="303.5" cy="634.2" r="2.35"/><circle cx="361.3" cy="592.0" r="2.35"/><circle cx="325.2" cy="640.7" r="2.35"/><circle cx="339.9" cy="642.8" r="2.35"/><circle cx="341.5" cy="647.2" r="2.35"/><circle cx="340.3" cy="647.4" r="2.35"/><circle cx="333.5" cy="648.5" r="2.35"/><circle cx="336.3" cy="641.7" r="2.35"/><circle cx="295.7" cy="604.3" r="2.35"/><circle cx="326.0" cy="630.7" r="2.35"/><circle cx="310.5" cy="634.6" r="2.35"/><circle cx="313.7" cy="642.4" r="2.35"/><circle cx="361.6" cy="642.5" r="2.35"/><circle cx="357.4" cy="653.3" r="2.35"/><circle cx="324.6" cy="634.3" r="2.35"/><circle cx="335.7" cy="649.2" r="2.35"/><circle cx="326.6" cy="631.5" r="2.35"/><circle cx="298.7" cy="644.8" r="2.35"/><circle cx="363.0" cy="642.7" r="2.35"/><circle cx="353.9" cy="648.0" r="2.35"/><circle cx="367.3" cy="642.9" r="2.35"/><circle cx="319.0" cy="623.2" r="2.35"/><circle cx="361.2" cy="636.7" r="2.35"/><circle cx="363.1" cy="649.1" r="2.35"/><circle cx="356.8" cy="619.3" r="2.35"/><circle cx="367.4" cy="639.9" r="2.35"/><circle cx="358.7" cy="649.0" r="2.35"/><circle cx="315.1" cy="611.6" r="2.35"/><circle cx="341.2" cy="648.1" r="2.35"/><circle cx="291.2" cy="627.7" r="2.35"/><circle cx="303.0" cy="601.6" r="2.35"/><circle cx="333.0" cy="652.3" r="2.35"/><circle cx="359.7" cy="636.2" r="2.35"/></g><polygon points="282.2,623.4 291.0,625.8 299.9,627.9 308.7,629.9 317.6,631.8 326.4,633.4 335.2,634.9 344.1,636.2 352.9,637.4 361.8,638.4 370.6,639.2 370.6,647.5 361.8,645.1 352.9,642.9 344.1,640.9 335.2,639.1 326.4,637.4 317.6,635.9 308.7,634.6 299.9,633.5 291.0,632.5 282.2,631.7" fill="#3a3aa6" fill-opacity="0.5" stroke="#3030a0" stroke-opacity="0.5" stroke-width="0.5"/><line x1="282.2" y1="627.6" x2="370.6" y2="643.3" stroke="#2a2a8a" stroke-width="0.9" stroke-opacity="0.8"/></g><rect x="282.2" y="574.5" width="88.40000000000003" height="82.89999999999998" fill="none" stroke="#1a1a1a" stroke-width="1.1"/><line x1="282.2" y1="574.0" x2="282.2" y2="657.9" stroke="#111" stroke-width="1.5" /><line x1="281.7" y1="657.4" x2="371.1" y2="657.4" stroke="#111" stroke-width="1.5" /><line x1="279.0" y1="574.5" x2="282.2" y2="574.5" stroke="#222" stroke-width="1.0" /><text x="259.7" y="576.9" font-size="6.7" fill="#333" textLength="13.8" lengthAdjust="spacingAndGlyphs">5x10</text><text x="273.8" y="573.6999999999999" font-size="4.3" fill="#333">5</text><line x1="279.0" y1="591.1" x2="282.2" y2="591.1" stroke="#222" stroke-width="1.0" /><text x="259.7" y="593.5" font-size="6.7" fill="#333" textLength="13.8" lengthAdjust="spacingAndGlyphs">4x10</text><text x="273.8" y="590.3" font-size="4.3" fill="#333">5</text><line x1="279.0" y1="607.7" x2="282.2" y2="607.7" stroke="#222" stroke-width="1.0" /><text x="259.7" y="610.1" font-size="6.7" fill="#333" textLength="13.8" lengthAdjust="spacingAndGlyphs">3x10</text><text x="273.8" y="606.9" font-size="4.3" fill="#333">5</text><line x1="279.0" y1="624.2" x2="282.2" y2="624.2" stroke="#222" stroke-width="1.0" /><text x="259.7" y="626.6" font-size="6.7" fill="#333" textLength="13.8" lengthAdjust="spacingAndGlyphs">2x10</text><text x="273.8" y="623.4" font-size="4.3" fill="#333">5</text><line x1="279.0" y1="640.8" x2="282.2" y2="640.8" stroke="#222" stroke-width="1.0" /><text x="259.7" y="643.1999999999999" font-size="6.7" fill="#333" textLength="13.8" lengthAdjust="spacingAndGlyphs">1x10</text><text x="273.8" y="639.9999999999999" font-size="4.3" fill="#333">5</text><line x1="279.0" y1="657.4" x2="282.2" y2="657.4" stroke="#222" stroke-width="1.0" /><text x="276.9" y="659.8" font-size="6.8" text-anchor="end" fill="#333" font-weight="normal" >0</text><line x1="282.2" y1="657.4" x2="282.2" y2="660.4" stroke="#222" stroke-width="1.0" /><text x="282.2" y="667.9" font-size="6.6" text-anchor="middle" fill="#333" font-weight="normal" textLength="8.4" lengthAdjust="spacingAndGlyphs" >0.0</text><line x1="299.9" y1="657.4" x2="299.9" y2="660.4" stroke="#222" stroke-width="1.0" /><text x="299.9" y="667.9" font-size="6.6" text-anchor="middle" fill="#333" font-weight="normal" textLength="8.4" lengthAdjust="spacingAndGlyphs" >0.2</text><line x1="317.6" y1="657.4" x2="317.6" y2="660.4" stroke="#222" stroke-width="1.0" /><text x="317.6" y="667.9" font-size="6.6" text-anchor="middle" fill="#333" font-weight="normal" textLength="8.4" lengthAdjust="spacingAndGlyphs" >0.4</text><line x1="335.2" y1="657.4" x2="335.2" y2="660.4" stroke="#222" stroke-width="1.0" /><text x="335.2" y="667.9" font-size="6.6" text-anchor="middle" fill="#333" font-weight="normal" textLength="8.4" lengthAdjust="spacingAndGlyphs" >0.6</text><line x1="352.9" y1="657.4" x2="352.9" y2="660.4" stroke="#222" stroke-width="1.0" /><text x="352.9" y="667.9" font-size="6.6" text-anchor="middle" fill="#333" font-weight="normal" textLength="8.4" lengthAdjust="spacingAndGlyphs" >0.8</text><line x1="370.6" y1="657.4" x2="370.6" y2="660.4" stroke="#222" stroke-width="1.0" /><text x="370.6" y="667.9" font-size="6.6" text-anchor="middle" fill="#333" font-weight="normal" textLength="8.4" lengthAdjust="spacingAndGlyphs" >1.0</text><text transform="translate(255.8,616.2) rotate(-90)" font-size="8.2" text-anchor="middle" fill="#333" textLength="24.5" lengthAdjust="spacingAndGlyphs">AC (6:1)</text><text x="335" y="582.5" font-size="6.2" text-anchor="start" fill="#222" font-weight="normal" textLength="31.8" lengthAdjust="spacingAndGlyphs" >r = –0.4247</text><text x="317.2" y="590.2" font-size="6.2" text-anchor="start" fill="#222" font-weight="normal" textLength="49.6" lengthAdjust="spacingAndGlyphs" >–log10(p) = 34.98</text><text x="326.4" y="679.9" font-size="8.6" text-anchor="middle" fill="#444" font-weight="normal" textLength="10.3" lengthAdjust="spacingAndGlyphs" >PTR</text><clipPath id="c404"><rect x="418.6" y="573.8" width="88.59999999999997" height="84.0"/></clipPath><g clip-path="url(#c404)"><g fill="#4f4fb0" fill-opacity="0.42" stroke="#2e2e96" stroke-opacity="0.25" stroke-width="0.4"><circle cx="427.6" cy="632.5" r="2.35"/><circle cx="471.2" cy="644.4" r="2.35"/><circle cx="454.0" cy="634.3" r="2.35"/><circle cx="461.2" cy="634.7" r="2.35"/><circle cx="470.2" cy="636.6" r="2.35"/><circle cx="432.2" cy="629.7" r="2.35"/><circle cx="455.1" cy="646.9" r="2.35"/><circle cx="424.0" cy="631.3" r="2.35"/><circle cx="437.9" cy="644.0" r="2.35"/><circle cx="428.2" cy="599.9" r="2.35"/><circle cx="471.7" cy="650.6" r="2.35"/><circle cx="429.5" cy="601.3" r="2.35"/><circle cx="445.4" cy="625.8" r="2.35"/><circle cx="476.9" cy="640.1" r="2.35"/><circle cx="438.2" cy="621.3" r="2.35"/><circle cx="442.2" cy="629.6" r="2.35"/><circle cx="423.8" cy="635.1" r="2.35"/><circle cx="504.5" cy="651.4" r="2.35"/><circle cx="464.1" cy="598.9" r="2.35"/><circle cx="496.2" cy="630.3" r="2.35"/><circle cx="467.3" cy="655.4" r="2.35"/><circle cx="500.5" cy="651.7" r="2.35"/><circle cx="427.4" cy="594.4" r="2.35"/><circle cx="456.8" cy="645.0" r="2.35"/><circle cx="455.1" cy="617.0" r="2.35"/><circle cx="455.2" cy="630.8" r="2.35"/><circle cx="460.4" cy="641.1" r="2.35"/><circle cx="431.7" cy="638.4" r="2.35"/><circle cx="485.2" cy="619.5" r="2.35"/><circle cx="457.0" cy="651.1" r="2.35"/><circle cx="460.0" cy="624.7" r="2.35"/><circle cx="465.0" cy="628.8" r="2.35"/><circle cx="465.1" cy="610.0" r="2.35"/><circle cx="498.4" cy="651.2" r="2.35"/><circle cx="458.3" cy="636.9" r="2.35"/><circle cx="470.8" cy="640.5" r="2.35"/><circle cx="464.0" cy="635.4" r="2.35"/><circle cx="421.3" cy="638.9" r="2.35"/><circle cx="480.7" cy="627.6" r="2.35"/><circle cx="426.7" cy="632.5" r="2.35"/><circle cx="432.2" cy="639.7" r="2.35"/><circle cx="430.6" cy="605.8" r="2.35"/><circle cx="441.1" cy="636.5" r="2.35"/><circle cx="462.7" cy="646.5" r="2.35"/><circle cx="481.0" cy="637.6" r="2.35"/><circle cx="453.9" cy="646.7" r="2.35"/><circle cx="432.2" cy="615.9" r="2.35"/><circle cx="493.1" cy="640.0" r="2.35"/><circle cx="478.4" cy="653.0" r="2.35"/><circle cx="450.2" cy="630.7" r="2.35"/><circle cx="463.6" cy="644.0" r="2.35"/><circle cx="455.2" cy="644.7" r="2.35"/><circle cx="484.8" cy="640.7" r="2.35"/><circle cx="484.3" cy="653.9" r="2.35"/><circle cx="486.9" cy="605.4" r="2.35"/><circle cx="443.8" cy="645.9" r="2.35"/><circle cx="471.0" cy="656.8" r="2.35"/><circle cx="494.6" cy="654.9" r="2.35"/><circle cx="436.9" cy="629.9" r="2.35"/><circle cx="433.4" cy="643.3" r="2.35"/><circle cx="441.1" cy="637.3" r="2.35"/><circle cx="467.8" cy="645.2" r="2.35"/><circle cx="505.6" cy="638.4" r="2.35"/><circle cx="492.0" cy="621.0" r="2.35"/><circle cx="479.5" cy="653.4" r="2.35"/><circle cx="481.2" cy="653.1" r="2.35"/><circle cx="490.7" cy="653.0" r="2.35"/><circle cx="494.5" cy="651.1" r="2.35"/><circle cx="442.9" cy="643.2" r="2.35"/><circle cx="488.2" cy="649.8" r="2.35"/><circle cx="430.8" cy="642.3" r="2.35"/><circle cx="478.8" cy="654.8" r="2.35"/><circle cx="483.9" cy="651.4" r="2.35"/><circle cx="463.7" cy="623.2" r="2.35"/><circle cx="463.8" cy="622.6" r="2.35"/><circle cx="482.0" cy="619.5" r="2.35"/><circle cx="483.1" cy="648.0" r="2.35"/><circle cx="475.2" cy="616.0" r="2.35"/><circle cx="452.4" cy="616.5" r="2.35"/><circle cx="429.7" cy="594.9" r="2.35"/><circle cx="423.7" cy="617.4" r="2.35"/><circle cx="474.0" cy="641.1" r="2.35"/><circle cx="487.8" cy="656.3" r="2.35"/><circle cx="458.5" cy="620.3" r="2.35"/><circle cx="451.3" cy="639.2" r="2.35"/><circle cx="503.9" cy="655.1" r="2.35"/><circle cx="441.5" cy="608.4" r="2.35"/><circle cx="441.0" cy="638.1" r="2.35"/><circle cx="501.2" cy="656.8" r="2.35"/><circle cx="449.3" cy="635.0" r="2.35"/><circle cx="428.7" cy="609.9" r="2.35"/><circle cx="460.8" cy="646.1" r="2.35"/><circle cx="489.8" cy="654.1" r="2.35"/><circle cx="485.0" cy="650.6" r="2.35"/><circle cx="497.6" cy="645.0" r="2.35"/><circle cx="460.5" cy="639.5" r="2.35"/><circle cx="438.3" cy="640.6" r="2.35"/><circle cx="433.5" cy="615.9" r="2.35"/><circle cx="468.4" cy="613.9" r="2.35"/><circle cx="487.1" cy="651.8" r="2.35"/><circle cx="434.7" cy="636.5" r="2.35"/><circle cx="459.4" cy="638.9" r="2.35"/><circle cx="426.3" cy="640.0" r="2.35"/><circle cx="461.1" cy="637.2" r="2.35"/><circle cx="422.0" cy="599.4" r="2.35"/><circle cx="481.3" cy="628.5" r="2.35"/><circle cx="472.9" cy="644.9" r="2.35"/><circle cx="494.8" cy="622.4" r="2.35"/><circle cx="421.3" cy="637.6" r="2.35"/><circle cx="461.7" cy="611.0" r="2.35"/><circle cx="431.8" cy="629.5" r="2.35"/><circle cx="432.3" cy="641.2" r="2.35"/><circle cx="431.6" cy="613.1" r="2.35"/><circle cx="503.6" cy="650.0" r="2.35"/><circle cx="464.9" cy="621.1" r="2.35"/><circle cx="467.7" cy="601.3" r="2.35"/><circle cx="497.6" cy="656.1" r="2.35"/><circle cx="461.9" cy="617.4" r="2.35"/><circle cx="482.3" cy="655.3" r="2.35"/><circle cx="428.3" cy="639.7" r="2.35"/><circle cx="466.7" cy="619.4" r="2.35"/><circle cx="504.0" cy="650.0" r="2.35"/><circle cx="440.6" cy="642.7" r="2.35"/><circle cx="425.9" cy="620.8" r="2.35"/><circle cx="482.2" cy="620.4" r="2.35"/><circle cx="440.4" cy="610.2" r="2.35"/><circle cx="430.3" cy="604.5" r="2.35"/><circle cx="423.6" cy="635.3" r="2.35"/><circle cx="430.7" cy="626.5" r="2.35"/><circle cx="484.5" cy="644.1" r="2.35"/><circle cx="478.8" cy="648.7" r="2.35"/><circle cx="450.5" cy="637.2" r="2.35"/><circle cx="473.4" cy="643.0" r="2.35"/><circle cx="492.9" cy="645.4" r="2.35"/><circle cx="495.7" cy="651.5" r="2.35"/><circle cx="500.2" cy="635.5" r="2.35"/><circle cx="434.7" cy="642.4" r="2.35"/><circle cx="500.3" cy="642.9" r="2.35"/><circle cx="476.9" cy="652.6" r="2.35"/><circle cx="490.9" cy="656.8" r="2.35"/><circle cx="486.4" cy="640.6" r="2.35"/><circle cx="459.3" cy="601.7" r="2.35"/><circle cx="422.6" cy="613.3" r="2.35"/><circle cx="427.9" cy="633.0" r="2.35"/><circle cx="437.0" cy="632.3" r="2.35"/><circle cx="499.7" cy="652.5" r="2.35"/><circle cx="490.5" cy="652.1" r="2.35"/><circle cx="435.3" cy="598.7" r="2.35"/><circle cx="427.1" cy="636.5" r="2.35"/><circle cx="470.6" cy="637.0" r="2.35"/><circle cx="446.2" cy="630.3" r="2.35"/><circle cx="478.4" cy="648.7" r="2.35"/><circle cx="499.8" cy="640.0" r="2.35"/><circle cx="497.8" cy="626.5" r="2.35"/><circle cx="481.4" cy="616.9" r="2.35"/><circle cx="434.1" cy="613.1" r="2.35"/><circle cx="503.1" cy="627.3" r="2.35"/><circle cx="449.2" cy="644.2" r="2.35"/><circle cx="461.6" cy="619.9" r="2.35"/><circle cx="455.4" cy="640.1" r="2.35"/><circle cx="470.4" cy="653.7" r="2.35"/><circle cx="457.2" cy="643.4" r="2.35"/><circle cx="500.2" cy="640.9" r="2.35"/><circle cx="423.5" cy="607.2" r="2.35"/><circle cx="499.7" cy="640.8" r="2.35"/><circle cx="494.6" cy="635.7" r="2.35"/><circle cx="480.0" cy="651.7" r="2.35"/><circle cx="437.1" cy="601.1" r="2.35"/><circle cx="469.4" cy="653.1" r="2.35"/><circle cx="496.8" cy="635.8" r="2.35"/><circle cx="473.6" cy="617.9" r="2.35"/><circle cx="484.8" cy="637.8" r="2.35"/><circle cx="423.9" cy="638.5" r="2.35"/><circle cx="501.6" cy="656.8" r="2.35"/><circle cx="452.3" cy="601.9" r="2.35"/><circle cx="490.5" cy="656.8" r="2.35"/><circle cx="458.3" cy="609.7" r="2.35"/><circle cx="482.3" cy="642.0" r="2.35"/><circle cx="479.4" cy="635.7" r="2.35"/><circle cx="502.7" cy="648.9" r="2.35"/><circle cx="501.4" cy="628.0" r="2.35"/><circle cx="482.6" cy="650.3" r="2.35"/><circle cx="436.0" cy="646.3" r="2.35"/><circle cx="488.2" cy="648.1" r="2.35"/><circle cx="498.8" cy="634.3" r="2.35"/><circle cx="482.6" cy="652.5" r="2.35"/><circle cx="492.7" cy="650.4" r="2.35"/><circle cx="483.9" cy="637.2" r="2.35"/><circle cx="431.5" cy="621.3" r="2.35"/><circle cx="421.7" cy="606.9" r="2.35"/><circle cx="431.0" cy="641.2" r="2.35"/><circle cx="452.2" cy="641.2" r="2.35"/><circle cx="486.9" cy="641.6" r="2.35"/><circle cx="432.4" cy="636.7" r="2.35"/><circle cx="422.9" cy="636.6" r="2.35"/><circle cx="467.5" cy="632.7" r="2.35"/><circle cx="425.2" cy="641.2" r="2.35"/><circle cx="440.4" cy="629.9" r="2.35"/><circle cx="440.1" cy="629.8" r="2.35"/><circle cx="425.0" cy="606.1" r="2.35"/><circle cx="502.5" cy="655.3" r="2.35"/><circle cx="439.7" cy="636.9" r="2.35"/><circle cx="454.7" cy="645.6" r="2.35"/><circle cx="481.3" cy="639.4" r="2.35"/><circle cx="495.7" cy="650.2" r="2.35"/><circle cx="445.0" cy="630.2" r="2.35"/><circle cx="447.8" cy="624.5" r="2.35"/><circle cx="494.9" cy="653.7" r="2.35"/><circle cx="505.1" cy="632.1" r="2.35"/><circle cx="446.2" cy="607.7" r="2.35"/><circle cx="487.0" cy="652.9" r="2.35"/><circle cx="449.9" cy="605.4" r="2.35"/><circle cx="500.6" cy="637.3" r="2.35"/><circle cx="439.1" cy="636.2" r="2.35"/><circle cx="476.8" cy="656.3" r="2.35"/><circle cx="481.1" cy="617.8" r="2.35"/><circle cx="491.9" cy="620.6" r="2.35"/><circle cx="448.1" cy="644.2" r="2.35"/><circle cx="483.1" cy="652.8" r="2.35"/><circle cx="441.7" cy="618.2" r="2.35"/><circle cx="480.1" cy="654.8" r="2.35"/><circle cx="441.2" cy="612.8" r="2.35"/><circle cx="480.6" cy="653.6" r="2.35"/><circle cx="490.4" cy="646.9" r="2.35"/><circle cx="447.9" cy="601.3" r="2.35"/><circle cx="425.4" cy="636.7" r="2.35"/><circle cx="451.9" cy="645.7" r="2.35"/><circle cx="435.4" cy="602.3" r="2.35"/><circle cx="448.1" cy="617.7" r="2.35"/><circle cx="477.2" cy="639.7" r="2.35"/><circle cx="500.2" cy="649.8" r="2.35"/><circle cx="423.9" cy="600.9" r="2.35"/><circle cx="438.4" cy="631.1" r="2.35"/><circle cx="466.8" cy="612.6" r="2.35"/><circle cx="461.8" cy="619.1" r="2.35"/><circle cx="455.8" cy="636.4" r="2.35"/><circle cx="449.1" cy="620.9" r="2.35"/><circle cx="440.4" cy="599.5" r="2.35"/><circle cx="453.4" cy="643.3" r="2.35"/><circle cx="436.1" cy="641.7" r="2.35"/><circle cx="495.7" cy="626.0" r="2.35"/><circle cx="475.5" cy="644.1" r="2.35"/><circle cx="453.8" cy="613.6" r="2.35"/><circle cx="458.1" cy="630.0" r="2.35"/><circle cx="432.5" cy="641.9" r="2.35"/><circle cx="437.7" cy="618.3" r="2.35"/><circle cx="429.9" cy="632.1" r="2.35"/><circle cx="484.0" cy="653.9" r="2.35"/><circle cx="438.4" cy="639.7" r="2.35"/><circle cx="498.2" cy="633.9" r="2.35"/><circle cx="476.3" cy="646.0" r="2.35"/><circle cx="429.1" cy="598.6" r="2.35"/><circle cx="481.1" cy="649.5" r="2.35"/><circle cx="463.2" cy="612.6" r="2.35"/><circle cx="484.6" cy="644.9" r="2.35"/><circle cx="502.6" cy="629.2" r="2.35"/><circle cx="450.4" cy="643.2" r="2.35"/><circle cx="495.5" cy="649.8" r="2.35"/><circle cx="468.7" cy="639.6" r="2.35"/><circle cx="442.1" cy="629.1" r="2.35"/><circle cx="433.1" cy="629.0" r="2.35"/><circle cx="473.5" cy="654.7" r="2.35"/><circle cx="430.1" cy="640.8" r="2.35"/><circle cx="479.8" cy="645.4" r="2.35"/><circle cx="420.6" cy="596.6" r="2.35"/><circle cx="499.2" cy="656.8" r="2.35"/><circle cx="488.0" cy="655.8" r="2.35"/><circle cx="457.2" cy="641.9" r="2.35"/><circle cx="470.9" cy="654.4" r="2.35"/><circle cx="477.4" cy="656.5" r="2.35"/><circle cx="460.3" cy="639.5" r="2.35"/><circle cx="480.7" cy="641.5" r="2.35"/><circle cx="426.2" cy="624.2" r="2.35"/><circle cx="434.3" cy="640.1" r="2.35"/><circle cx="496.4" cy="641.8" r="2.35"/><circle cx="498.3" cy="651.2" r="2.35"/><circle cx="465.0" cy="645.9" r="2.35"/><circle cx="439.5" cy="605.9" r="2.35"/><circle cx="493.6" cy="628.5" r="2.35"/><circle cx="496.6" cy="640.6" r="2.35"/><circle cx="481.3" cy="650.1" r="2.35"/><circle cx="459.7" cy="614.2" r="2.35"/><circle cx="437.7" cy="625.7" r="2.35"/><circle cx="466.7" cy="630.2" r="2.35"/><circle cx="501.6" cy="656.6" r="2.35"/><circle cx="493.7" cy="644.5" r="2.35"/><circle cx="475.8" cy="655.8" r="2.35"/><circle cx="424.7" cy="634.0" r="2.35"/><circle cx="489.3" cy="615.1" r="2.35"/><circle cx="423.2" cy="627.3" r="2.35"/><circle cx="492.6" cy="651.6" r="2.35"/><circle cx="459.1" cy="649.6" r="2.35"/><circle cx="473.8" cy="637.6" r="2.35"/><circle cx="463.7" cy="638.6" r="2.35"/><circle cx="449.0" cy="644.9" r="2.35"/><circle cx="458.0" cy="627.9" r="2.35"/><circle cx="429.2" cy="648.4" r="2.35"/><circle cx="424.8" cy="645.7" r="2.35"/><circle cx="447.1" cy="604.2" r="2.35"/><circle cx="439.6" cy="620.2" r="2.35"/></g><polygon points="418.6,624.2 427.5,626.8 436.3,629.3 445.2,631.6 454.0,633.7 462.9,635.6 471.8,637.4 480.6,639.0 489.5,640.4 498.3,641.6 507.2,642.7 507.2,651.1 498.3,648.4 489.5,646.0 480.6,643.7 471.8,641.6 462.9,639.7 454.0,637.9 445.2,636.3 436.3,634.9 427.5,633.7 418.6,632.6" fill="#3a3aa6" fill-opacity="0.5" stroke="#3030a0" stroke-opacity="0.5" stroke-width="0.5"/><line x1="418.6" y1="628.4" x2="507.2" y2="646.9" stroke="#2a2a8a" stroke-width="0.9" stroke-opacity="0.8"/></g><rect x="418.6" y="573.8" width="88.59999999999997" height="84.0" fill="none" stroke="#1a1a1a" stroke-width="1.1"/><line x1="418.6" y1="573.3" x2="418.6" y2="658.3" stroke="#111" stroke-width="1.5" /><line x1="418.1" y1="657.8" x2="507.7" y2="657.8" stroke="#111" stroke-width="1.5" /><line x1="415.40000000000003" y1="573.8" x2="418.6" y2="573.8" stroke="#222" stroke-width="1.0" /><text x="396.1" y="576.1999999999999" font-size="6.7" fill="#333" textLength="13.8" lengthAdjust="spacingAndGlyphs">6x10</text><text x="410.20000000000005" y="572.9999999999999" font-size="4.3" fill="#333">5</text><line x1="415.40000000000003" y1="601.8" x2="418.6" y2="601.8" stroke="#222" stroke-width="1.0" /><text x="396.1" y="604.1999999999999" font-size="6.7" fill="#333" textLength="13.8" lengthAdjust="spacingAndGlyphs">4x10</text><text x="410.20000000000005" y="600.9999999999999" font-size="4.3" fill="#333">5</text><line x1="415.40000000000003" y1="629.8" x2="418.6" y2="629.8" stroke="#222" stroke-width="1.0" /><text x="396.1" y="632.1999999999999" font-size="6.7" fill="#333" textLength="13.8" lengthAdjust="spacingAndGlyphs">2x10</text><text x="410.20000000000005" y="628.9999999999999" font-size="4.3" fill="#333">5</text><line x1="415.40000000000003" y1="657.8" x2="418.6" y2="657.8" stroke="#222" stroke-width="1.0" /><text x="413.3" y="660.1999999999999" font-size="6.8" text-anchor="end" fill="#333" font-weight="normal" >0</text><line x1="418.6" y1="657.8" x2="418.6" y2="660.8" stroke="#222" stroke-width="1.0" /><text x="418.6" y="668.3" font-size="6.6" text-anchor="middle" fill="#333" font-weight="normal" textLength="8.4" lengthAdjust="spacingAndGlyphs" >0.0</text><line x1="436.3" y1="657.8" x2="436.3" y2="660.8" stroke="#222" stroke-width="1.0" /><text x="436.3" y="668.3" font-size="6.6" text-anchor="middle" fill="#333" font-weight="normal" textLength="8.4" lengthAdjust="spacingAndGlyphs" >0.2</text><line x1="454.0" y1="657.8" x2="454.0" y2="660.8" stroke="#222" stroke-width="1.0" /><text x="454.0" y="668.3" font-size="6.6" text-anchor="middle" fill="#333" font-weight="normal" textLength="8.4" lengthAdjust="spacingAndGlyphs" >0.4</text><line x1="471.8" y1="657.8" x2="471.8" y2="660.8" stroke="#222" stroke-width="1.0" /><text x="471.8" y="668.3" font-size="6.6" text-anchor="middle" fill="#333" font-weight="normal" textLength="8.4" lengthAdjust="spacingAndGlyphs" >0.6</text><line x1="489.5" y1="657.8" x2="489.5" y2="660.8" stroke="#222" stroke-width="1.0" /><text x="489.5" y="668.3" font-size="6.6" text-anchor="middle" fill="#333" font-weight="normal" textLength="8.4" lengthAdjust="spacingAndGlyphs" >0.8</text><line x1="507.2" y1="657.8" x2="507.2" y2="660.8" stroke="#222" stroke-width="1.0" /><text x="507.2" y="668.3" font-size="6.6" text-anchor="middle" fill="#333" font-weight="normal" textLength="8.4" lengthAdjust="spacingAndGlyphs" >1.0</text><text transform="translate(391.9,616.1) rotate(-90)" font-size="8.2" text-anchor="middle" fill="#333" textLength="39" lengthAdjust="spacingAndGlyphs">AC (11:0-OH)</text><text x="470.3" y="582.4" font-size="6.2" text-anchor="start" fill="#222" font-weight="normal" textLength="31" lengthAdjust="spacingAndGlyphs" >r = –0.5455</text><text x="451.4" y="589.9" font-size="6.2" text-anchor="start" fill="#222" font-weight="normal" textLength="49.9" lengthAdjust="spacingAndGlyphs" >–log10(p) = 27.73</text><text x="462.9" y="680.3" font-size="8.6" text-anchor="middle" fill="#444" font-weight="normal" textLength="10.3" lengthAdjust="spacingAndGlyphs" >PTR</text>
<rect x="0.5" y="0.5" width="519" height="688" fill="none" stroke="#4a4a4a" stroke-width="1"/>
</svg></body></html>
